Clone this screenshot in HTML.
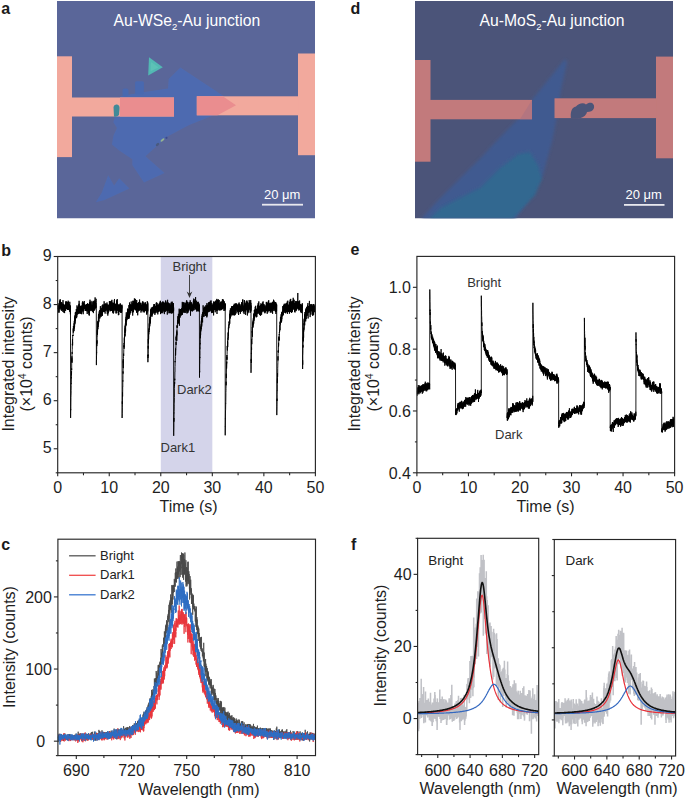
<!DOCTYPE html>
<html><head><meta charset="utf-8"><style>
html,body{margin:0;padding:0;background:#fff;}
body{width:685px;height:800px;overflow:hidden;position:relative;}
svg{position:absolute;left:0;top:0;}
text{font-family:"Liberation Sans", sans-serif;}
.tk{font-size:16px;fill:#1e1e1e;}
.lab{font-size:16px;fill:#1e1e1e;}
.ann{font-size:13px;fill:#333;}
.pl{font-size:16px;font-weight:bold;fill:#1a1a1a;}
.wt{font-size:15.7px;fill:#fff;}
.sb{font-size:13px;fill:#fff;}
</style></head><body>
<svg width="685" height="800" viewBox="0 0 685 800">
<defs>
<filter id="bl" x="-5%" y="-5%" width="110%" height="110%"><feGaussianBlur stdDeviation="0.7"/></filter>
<filter id="bl2" x="-10%" y="-10%" width="120%" height="120%"><feGaussianBlur stdDeviation="1.6"/></filter>
<clipPath id="ca"><rect x="57" y="1" width="258" height="217.5"/></clipPath>
<clipPath id="cd"><rect x="415" y="1" width="258" height="217.5"/></clipPath>
<clipPath id="cb"><rect x="57.7" y="256.5" width="257.7" height="216.3"/></clipPath>
<clipPath id="ce"><rect x="416.9" y="256.4" width="257.7" height="216.40000000000003"/></clipPath>
<clipPath id="cc"><rect x="57.9" y="539.2" width="257.6" height="216.4"/></clipPath>
<clipPath id="cfl"><rect x="417.6" y="538.3" width="121.1" height="216.3"/></clipPath>
<clipPath id="cfr"><rect x="554.3" y="539.5" width="121.3" height="216.5"/></clipPath>
</defs>

<text x="1.3" y="14" class="pl">a</text>
<text x="350.6" y="14" class="pl">d</text>
<text x="1.2" y="255.6" class="pl">b</text>
<text x="350.6" y="255.3" class="pl">e</text>
<text x="1.3" y="550.3" class="pl">c</text>
<text x="350.9" y="550.3" class="pl">f</text>
<g clip-path="url(#ca)">
<rect x="57" y="1" width="258" height="217.5" fill="#5a6699"/>
<g filter="url(#bl)">
<polygon points="180.4,67.4 222,95.1 236,105 213.7,115.3 189.2,125 167,136.7 145.5,156.3 164.5,173.1 144,182.6 132.3,165 132.3,159.2 119.2,150.4 111.9,144.6 113.4,135.8 117,128 113.4,122.3 115.4,114 121,96 144.6,92 168,88.6 168.7,79.1" fill="#4e6bb0"/>
<polygon points="108.2,175.3 114.1,185.5 119.2,178.2 129.4,188.4 104.6,200 95.8,202.3 101.7,192.8" fill="#4e6bb0"/>
<rect x="135.1" y="81.3" width="8.8" height="13" rx="1.5" fill="#4a69b0"/>
<rect x="122.5" y="88.6" width="6" height="8" rx="2" fill="#4a69b0"/>
<ellipse cx="162.5" cy="140" rx="2.4" ry="1" transform="rotate(-40 162.5 140)" fill="#a6c48a" opacity="0.8"/>
<ellipse cx="157.5" cy="144.5" rx="2" ry="1.2" transform="rotate(-40 157.5 144.5)" fill="#4a5a80"/>
<circle cx="166.5" cy="137.8" r="1.1" fill="#3a4a90"/>
<rect x="57" y="56.3" width="15" height="100.8" fill="#f2a99d"/>
<rect x="70" y="97.5" width="104" height="19" fill="#f2a99d"/>
<rect x="120" y="97.5" width="54" height="19" fill="#ea8d8f"/>
<rect x="298" y="53.5" width="17" height="101.7" fill="#f2a99d"/>
<rect x="196.8" y="96.3" width="102" height="19" fill="#f2a99d"/>
<polygon points="196.8,96.3 222.8,96.3 236,105.2 217.5,115.3 196.8,115.3" fill="#ea8d8f"/>
<polygon points="149,57.2 162.8,67.2 148.2,75.6" fill="#52b8b3"/>
<polygon points="151,62 158.5,67.2 150.5,71.5" fill="#62c4b8" opacity="0.7"/>
<path d="M113.5,107 Q114,104 117,104.5 Q120,105 119.5,109 L119,115 Q117,117.5 114,116.5 Z" fill="#3f8a98"/>
</g>
<text x="113.6" y="26.2" class="wt">Au-WSe<tspan font-size="9.5" dy="4.2">2</tspan><tspan dy="-4.2">-Au junction</tspan></text>
<text x="264" y="199" class="sb">20 μm</text>
<rect x="262" y="203.8" width="41" height="1.8" fill="#e8e8ee"/>
</g>
<g clip-path="url(#cd)">
<rect x="415" y="1" width="258" height="217.5" fill="#4b5479"/>
<g filter="url(#bl)">
<polygon points="564.8,59.2 567,62 561,90 556,121 552.4,140 547,160 543,175 530,197 515,219 421,219 436,202.4 462.3,176.1 480,158.7 497.5,140 517.5,119.6 533.2,98.6" fill="#3f5a90" filter="url(#bl2)"/>
<polygon points="518.5,154 530,152 538.4,166 541.9,178.5 535,195 512.7,219 429,219 441.3,207.6 480,188 500,168" fill="#306790" filter="url(#bl2)"/>
<rect x="415" y="60" width="15.5" height="101.7" fill="#c27a7b"/>
<rect x="429" y="99.9" width="103" height="19.4" fill="#c27a7b"/>
<rect x="656" y="56.6" width="17" height="101.7" fill="#c27a7b"/>
<rect x="554.5" y="98.3" width="102" height="19.8" fill="#c27a7b"/>
<polygon points="520,119.3 532,100 532,119.3" fill="#ad7283" opacity="0.7"/>
<path d="M571,118.5 C570,112 572,107 576,106.5 C578,104 583,102 586,104.5 C590,101 595,103 594,108 C593,111 590,112 587,112 C586,116 582,118.5 578,118.3 Z" fill="#4b5479"/>
</g>
<text x="479.6" y="26.2" class="wt">Au-MoS<tspan font-size="9.5" dy="4.2">2</tspan><tspan dy="-4.2">-Au junction</tspan></text>
<text x="625.5" y="199" class="sb">20 μm</text>
<rect x="624" y="204" width="40.5" height="1.8" fill="#e8e8ee"/>
</g>
<rect x="160.78" y="256.5" width="51.54" height="216.3" fill="#d4d4ea"/>
<path d="M57.7 306.3l.1-.6 0 1.7 .1 1.7 0-1.1 .1 1.5 0-2.6 .1-3.6 0 4.8 .1 .8 0-3 .1 .6 0 .3 .1 3.1 0-2.2 .1-1.8 0 5.5 .1-2.5 0 3.4 .1-1.7 0 1.4 .1-4.5 0 3 .1-4.6 0 .3 .1 .3 0 6.3 .1-5.7 0-1.5 .1-.4 0 3.8 .1-3.2 0 1.6 .1-.4 .1-5.7 0 4.8 .1-2.5 0-2.4 .1 3.5 0-1 .1-.5 0 .3 .1 3.4 0-3.5 .1-3.5 0 8.3 .1-6.2 0 1.5 .1 2.6 0-6.9 .1 3.5 0 5.5 .1-3.4 0-1.4 .1 1.8 0-1.5 .1 2.3 0-1.9 .1-2.1 0 5.9 .1-2.1 0 1.5 .1-1.6 0 4 .1-1.7 .1-1.6 0-3.1 .1-1 0 6.6 .1-1.1 0-4.1 .1 7.1 0-3.7 .1-.9 0-3.6 .1 1.4 0 2.5 .1 .3 0-.1 .1-4.3 0 4.6 .1 .1 0-1.8 .1 1.2 0 .6 .1 2.3 0-2.8 .1 1.7 0-4.6 .1 1.5 0 2.1 .1-1.9 0 3 .1-3.7 0 2.6 .1-2 0 4.9 .1-4.3 .1 5.2 0 .7 .1-4.1 0 1.1 .1-2.9 0-5.8 .1 8.2 0-.2 .1-2.9 0-.9 .1 2 0 .2 .1-2.6 0 1 .1 4.5 0-2.2 .1-.4 0 2.9 .1-3.3 0 3 .1-4.4 0 1.7 .1 .5 0 1.5 .1-1.3 0 5 .1-2 0-4.5 .1 6.8 0-7.6 .1 7.4 0-6.7 .1 4.7 .1-4.1 0 1.8 .1 4.9 0-8 .1-.3 0 4.1 .1 .1 0-.5 .1 2 0-5.2 .1 4 0-1.5 .1 1.6 0 .1 .1 1.5 0-6.8 .1 3.6 0-2.8 .1 2.1 0 2.2 .1-.9 0 .2 .1-1.6 0 .8 .1-.2 0 2.9 .1-1.3 0-7.5 .1 5.9 0 .9 .1-4.2 .1-3.2 0 7.4 .1-3.7 0 .8 .1 3.4 0-6.6 .1 2.3 0 0 .1 3 0-2.9 .1 2.3 0-.8 .1 2.5 0-.3 .1-6.6 0 5 .1-2.3 0 .6 .1 .8 0 .4 .1-3.7 0 3.6 .1-.1 0-.4 .1-3.1 0 1.3 .1 1 0 2.7 .1 2.3 0-6.3 .1 .2 0 2.8 .1-2.4 .1-1.3 0-.1 .1 .2 0 3.5 .1-4.8 0 7.4 .1-5.8 0 .9 .1-.9 0-2.7 .1 .9 0 6.9 .1 1.5 0-7.7 .1 5.1 0-2.9 .1-2.5 0 6.9 .1 1.1 0-6.1 .1 .8 0 .6 .1-.6 0 2.3 .1 2.1 0-3.4 .1 2 0 2.4 .1-6 0 1.9 .1-1 .1 4.1 0-.9 .1 .4 0 .3 .1-2.9 0 2.6 .1-2.6 0 .3 .1-4.5 0 9.7 .1-5.7 0 1.9 .1 .1 0 4.3 .1-2.7 0-3.2 .1 2.1 0-.3 .1 1.3 0-3.9 .1 3.5 0 5.4 .1-3.8 0-3 .1 110.5 0-.6 .1-8 0 .8 .1-.1 0-3.9 .1-8.2 0-.6 .1-2.3 .1-2 0-2.8 .1-4.7 0-.7 .1-1.5 0 .5 .1-6.7 0 1.1 .1-6.9 0 3.9 .1-4.8 0-2.1 .1 1.5 0-10.3 .1-1.3 0 3.5 .1-4.8 0-.7 .1 6.6 0-9.2 .1-.4 0-1.1 .1 1.7 0-3.1 .1-1.4 0-5.5 .1 .8 0-.5 .1-5.1 0 4.3 .1-1 0 3.1 .1-10.5 .1 1 0-.4 .1-.6 0 .8 .1-.7 0 .4 .1-.7 0-1.6 .1-4.8 0 2.5 .1 1 0 .8 .1-.2 0-6.5 .1 2.3 0 .4 .1 1.1 0 2 .1-3.1 0-2.5 .1 2.9 0-1 .1-1 0-.9 .1 4.8 0-4.4 .1 1.7 0-5 .1 4.1 0-4.4 .1-2.2 .1 5 0 .9 .1-2.4 0-.2 .1 2.6 0-4.4 .1-5 0 5.6 .1-.3 0 1.8 .1-4.7 0 3.8 .1-.7 0-7 .1 5.5 0-5 .1-1.2 0 2.9 .1-1.3 0-4.2 .1 5.2 0 .6 .1 2.1 0-4 .1-4.5 0 .8 .1 4.9 0-.5 .1-1.4 0-2.5 .1 1.5 0-1.1 .1-.3 .1 .9 0-.4 .1-.1 0 .8 .1-1.6 0-3.9 .1 3 0 .6 .1 4.7 0-5.6 .1 6.5 0-1.4 .1-6.3 0 .5 .1 1.5 0 4.3 .1-4.3 0 .5 .1-3.6 0-4 .1 5.9 0 2.9 .1 .6 0-3.3 .1-.4 0 3 .1-3.8 0 3.1 .1-6.4 0-.1 .1 .1 0 4.1 .1-2.4 .1 2.1 0 .3 .1-.7 0 2.7 .1 .6 0-6.6 .1 2.5 0-1.5 .1-1.6 0 7.6 .1-3.1 0-2.5 .1-.9 0 2.1 .1-4.3 0 2.1 .1 4.2 0-.9 .1-4.7 0 .7 .1 6.4 0-8.5 .1 1.5 0-1.7 .1 4.9 0-1 .1 2.4 0-10 .1 7.3 0-4.4 .1 6.3 .1-1.5 0 5 .1-3.4 0-3.4 .1 6.1 0-6.6 .1 1.7 0 3.5 .1-1.2 0 .4 .1-.9 0 1.6 .1 .7 0-1.7 .1 2.2 0 .4 .1-3.3 0-2.2 .1 6.5 0-3.7 .1 1.8 0 .9 .1-4.6 0 3 .1-5.5 0 5.8 .1-2.5 0 1.2 .1 1.1 0-3.7 .1 2.1 0-2.2 .1 1.5 .1 2.7 0-2.5 .1-.3 0-2.8 .1 5.3 0-2.3 .1 4.6 0-6.2 .1 5 0 1.6 .1-5 0-3.2 .1 7 0-1.7 .1-1.4 0 1.5 .1-4.2 0 3 .1-.9 0-3.9 .1 3.6 0-3.3 .1 3.5 0 .8 .1 1.5 0-8.9 .1 5.5 0-2.2 .1 1.2 0-.7 .1 .4 .1-5.5 0 7.6 .1 1.6 0-1.6 .1 .7 0-5.4 .1-.3 0 4.9 .1 .8 0-3.1 .1-3.9 0 11.6 .1-8.8 0 4.8 .1-6 0 5.3 .1-1.9 0 3.6 .1-1.5 0-7 .1 1.5 0 3.7 .1 .6 0 2.6 .1-3.7 0-.8 .1 .4 0-.3 .1 2.5 0-2.8 .1-.2 0-3.6 .1-1.6 .1 5.3 0 1.8 .1-2.7 0 1.6 .1 .8 0-2.1 .1 2.6 0-3.8 .1 1.8 0-1.2 .1 1.3 0 1.3 .1 .3 0-1.9 .1 .8 0-1.6 .1 .5 0 3.3 .1-4.2 0 3.6 .1-1.6 0-.4 .1 4.5 0-6 .1 .7 0 1 .1 .6 0 0 .1 1.7 0-2.4 .1 1.3 0-2 .1 3.5 .1-3.6 0 0 .1 .4 0 1.1 .1-3 0 6.1 .1-5.6 0-.1 .1 .3 0-.2 .1 3.2 0-1 .1-2.2 0 .2 .1 1 0 5 .1-5.8 0-1.2 .1 .1 0 2.5 .1 4.8 0-6.6 .1 2.6 0 6.6 .1-8 0 4.8 .1-.1 0-1.5 .1-5.5 0 4.8 .1-1.9 .1-3.4 0 .2 .1 3.8 0 .6 .1 2.6 0-1.4 .1-3 0 .2 .1 .6 0-2.5 .1 5 0-2.2 .1-1.8 0 .2 .1-1.5 0 2.2 .1 1.9 0-1.5 .1 4.1 0 2.1 .1-6.2 0 1.9 .1-.9 0 5.7 .1-3.9 0 .2 .1 1.6 0 4 .1-5 0-3.4 .1 1.4 0 2.5 .1-1.9 .1-2.4 0 9.1 .1-7.7 0-2 .1-.4 0-3.1 .1 1.5 0 1.7 .1-.1 0-1.9 .1 3.3 0-1.7 .1-2.4 0-3 .1 5.8 0-.2 .1 0 0-3.3 .1 3.8 0-4.2 .1 6.5 0-2.2 .1-.5 0-2.8 .1-.4 0 7.4 .1-1.2 0-3.1 .1 3.3 0 2.5 .1-6.7 0 1.4 .1 .1 .1 2.6 0-3.3 .1 3.5 0-3.2 .1 5.3 0-.5 .1-2.9 0 2.1 .1-3.9 0 .8 .1 3 0-2.8 .1 1.1 0-2.9 .1 4.3 0-.4 .1-4.6 0-3.2 .1 .5 0 5.3 .1-1 0-3.5 .1 4.5 0 2.6 .1-2.7 0-.7 .1 3.4 0 2.1 .1-1.3 0-5.2 .1 4.2 .1-1.1 0-.6 .1-1.2 0 3.4 .1-2 0 3.9 .1-1.4 0 1.6 .1-5.4 0 2.6 .1 2 0-.7 .1-.8 0-2.7 .1 6.4 0-1.9 .1-1.8 0-8.1 .1 3.8 0 2.9 .1-2.5 0-3.7 .1 6.7 0 .1 .1-4.4 0 1.5 .1-.7 0 2.8 .1-7.1 0 .5 .1 3 0-.5 .1 7 .1-7.7 0 2.6 .1-1.9 0-1.2 .1 3.2 0 3.4 .1-6.1 0 3.1 .1-1.5 0 .7 .1-.5 0 4.8 .1-9.3 0 2.5 .1-2.6 0-2.8 .1 5.3 0 5 .1-2.5 0 .8 .1-1.7 0-1.8 .1 5.8 0-5.9 .1 5.1 0-4.7 .1 .7 0 .4 .1-.5 0 .9 .1 .3 .1 3.4 0-4.4 .1-4.7 0-.1 .1 1.7 0 2 .1 3.9 0-.3 .1 59 0-4 .1-1.6 0-3.6 .1-.7 0-2.7 .1 .6 0-3.5 .1-8.5 0 5 .1-1.5 0-2.9 .1-1.6 0 3.5 .1-3.4 0-4.4 .1 .4 0-1.1 .1-5.3 0 4.8 .1-2.9 0 .5 .1-6.3 0 8.6 .1-4.3 .1-1.6 0-3.8 .1-.5 0-2.6 .1 7.5 0-7 .1 2.3 0 .3 .1-3.9 0 3.1 .1 2.9 0-6 .1 2.4 0-2.8 .1-3.4 0 .2 .1-3.1 0 4.7 .1 4.3 0-2.2 .1-.4 0 .5 .1-5.1 0 2.4 .1 3.3 0-6.7 .1 1.8 0-1.7 .1-.2 0-1.5 .1 1.5 0-3.5 .1 1.7 .1-.1 0-.4 .1 4.8 0-3.2 .1 .6 0-.9 .1 4.6 0-8.5 .1 3.9 0 3.5 .1 .8 0-3.9 .1 0 0 2.1 .1-2.4 0 1.7 .1-3.7 0 2.7 .1-2 0-2.7 .1-3.9 0 9.1 .1-1.8 0 .8 .1-4.5 0 4.8 .1-2.1 0-.7 .1 2.6 0-.3 .1-1.4 .1 4.4 0-1.8 .1-2.9 0-1.6 .1 .9 0 4.5 .1-3.8 0-3.4 .1 1.3 0 1.7 .1 2.2 0-3.6 .1 3.2 0 1.2 .1-1.2 0-5.5 .1 3.5 0-2.3 .1 4.3 0-3.6 .1 4.6 0-2.1 .1-7.2 0 4.5 .1 3.4 0-1.6 .1-1.3 0-2.7 .1 4.2 0 4 .1-4.5 0-1.2 .1-1.2 .1-3.5 0 3 .1-1.5 0 5.3 .1-5 0-2.6 .1 3.3 0 .8 .1-.1 0-4.3 .1 6.6 0-2 .1-1.8 0 0 .1 2.8 0-2.2 .1 1.3 0-1.2 .1 1 0 2.8 .1-2.4 0-3.4 .1 4.8 0-1.6 .1-2 0 4.6 .1-4.2 0 3.3 .1-6 0-3.5 .1 .9 0 6.4 .1-2.3 .1 1.9 0-.3 .1-3.5 0 7.4 .1-6.5 0 2.4 .1-3.7 0 3.4 .1 2.4 0-2.1 .1-1.6 0 2.2 .1-1.9 0 2.9 .1 4.3 0-8.3 .1 .8 0 1.2 .1 .6 0-2.6 .1 4 0 .3 .1-2 0-3.9 .1 7.3 0-6.9 .1 4.9 0 1 .1-6.4 0 3.7 .1 3.1 .1-2.5 0-3.5 .1-.6 0 4.3 .1-2.2 0-1.3 .1 3.9 0-2.4 .1 1.3 0 1 .1-.2 0-1 .1 0 0 2 .1 .1 0-3.8 .1 2.8 0-1.7 .1-1.1 0 1.5 .1-4.5 0 8.9 .1-4.2 0 2.8 .1-5.8 0 .2 .1 9.6 0-1.8 .1-4.5 0-.1 .1 .2 0 2.5 .1-2.1 .1-.5 0 2.4 .1-3.2 0 8.7 .1-7.5 0 3.9 .1-5.8 0 3.5 .1 1.7 0-3.4 .1 3.5 0-.2 .1 2 0-4.8 .1-1.7 0-1.1 .1 3.4 0-3.3 .1 3 0-.3 .1-2 0-1.9 .1 4.2 0-.8 .1 .1 0-.6 .1 2.6 0-5.1 .1 3.5 0-2.7 .1 3.9 .1-3.7 0-.2 .1 1.9 0-6.6 .1 3.8 0-3.5 .1 1.6 0 4.8 .1-.8 0-2.5 .1 .5 0 .5 .1 .6 0 3.6 .1-4.2 0 5.9 .1-7.4 0 3.4 .1 .3 0-1.5 .1-1.1 0 4.2 .1 1.1 0-1.7 .1 2.3 0-2.6 .1-7.1 0 7.3 .1-4.5 0 5.5 .1-4.7 0 1.6 .1-.8 .1-1.5 0-2.7 .1 4.6 0-.2 .1 3.3 0-4.3 .1 2 0-3.1 .1 2.2 0-5.2 .1 10.1 0-4.3 .1-3.4 0 3.5 .1 1.3 0-1.2 .1 3.2 0-3.9 .1-6.3 0 3.1 .1 5.9 0-.5 .1-1 0-3.5 .1 4.9 0-.8 .1-4 0 .2 .1 3.5 0 1.6 .1 1.6 0-2 .1 3.9 .1-7.7 0 4.3 .1-3.4 0-3.5 .1 1.6 0 6.6 .1-6.1 0-.9 .1 5.1 0 .6 .1-2 0 4.2 .1-8.5 0 10.6 .1-3.7 0-2 .1-.2 0-1.2 .1-.6 0 1 .1-3.9 0 9.6 .1-5.7 0 2.2 .1-2.3 0-.2 .1 2.6 0-1 .1-4.2 0 1.3 .1 2.7 .1-7.2 0-.5 .1 9.5 0-4.7 .1-6.1 0 4.6 .1 1.8 0 1.6 .1 1 0-.8 .1 1.2 0-3.1 .1 2.9 0 .3 .1 2.5 0-4.1 .1 2 0-1.9 .1-2.8 0 2 .1-.5 0 .6 .1 .6 0 .5 .1 .4 0-2.7 .1 4.8 0-6.2 .1 3.2 0 1.8 .1-.5 0 1.1 .1-2.6 .1 2.4 0-4.7 .1 5.1 0 4 .1-4.2 0 3.8 .1-5.8 0-2.8 .1 1.1 0 4.8 .1-2.2 0-6.7 .1 3.3 0 1 .1-2.5 0-3.4 .1 3.1 0 3.5 .1-.6 0-.9 .1 3.4 0 1.5 .1-3.5 0 2.5 .1-2.8 0-.3 .1-6.7 0 8.5 .1-1.9 0 0 .1-1.7 0-1.1 .1 4.3 .1 .9 0 2.8 .1-1.4 0-4.1 .1 2 0 2.6 .1-1.8 0-1.2 .1-1.3 0 3 .1-.2 0 4.5 .1-1.4 0-7.3 .1 10.9 0-5.3 .1-1 0 1.5 .1 1.3 0-1.7 .1 .3 0 .1 .1 4.5 0-5 .1 1.6 0-.9 .1-2.4 0-1.3 .1-.9 0 3.9 .1-3.6 .1-1.1 0 .4 .1-.8 0 3.7 .1-.6 0-2.5 .1 5.6 0-4.4 .1 2 0-.3 .1 3.5 0-2.1 .1-2.6 0-2.5 .1-.7 0 3.1 .1 .3 0 1.9 .1-2.9 0 2 .1-2 0-2.9 .1 4.8 0 3.7 .1-2.2 0 2.2 .1-1.2 0-6.2 .1 3.5 0 4.9 .1-5.9 0-1.3 .1 4.7 .1 .5 0-.8 .1-1.3 0-1.7 .1-1.3 0-.2 .1 0 0-.5 .1 1.6 0 6.3 .1-3.4 0-1.4 .1 1.9 0-4 .1 3.9 0 1.8 .1-6.1 0 1.8 .1 1 0-2.4 .1-1.4 0 1.8 .1 0 0 111.5 .1-3 0-1.5 .1-6.2 0-5.9 .1 2.6 0-.8 .1-10.9 .1 4.2 0-.2 .1-6.4 0-3.6 .1 .2 0-6.2 .1 1.2 0-.8 .1-5.4 0-3.9 .1 2.2 0-4.6 .1-.2 0-9.5 .1 8.8 0-7.2 .1 2.2 0-1 .1-3.7 0-2.2 .1-2.5 0 .7 .1 1.5 0-1.7 .1-4.5 0-1 .1-3.4 0 1.8 .1-2.2 0-1.9 .1 2.4 0 3.4 .1-1.6 .1 0 0-9 .1 5.2 0-6.3 .1 1.2 0-4 .1 .7 0 2.3 .1-.7 0-1.2 .1-1.5 0 1.5 .1-2.4 0-4.7 .1 8 0-5.8 .1 2.6 0-4 .1-2.9 0 2.3 .1-3.2 0 5.5 .1-7.5 0 4.2 .1-3.4 0 .3 .1 6.9 0-4.9 .1-2.7 0-4.8 .1 3.5 0-.3 .1 4.1 .1-7.3 0-1.8 .1 4.9 0-.2 .1 3.3 0-7 .1-5.8 0 4.8 .1-1.6 0 2 .1 3.7 0-6.6 .1 6.7 0-2.7 .1-1.6 0-2 .1 .6 0-.3 .1 3.2 0 1.3 .1-4.2 0 2.5 .1 1.2 0-.6 .1-3 0 3 .1-1.3 0 .4 .1-4.2 0-.1 .1-4.9 .1 9.3 0-1.7 .1-4.2 0 2.5 .1 .5 0-5.6 .1 5.3 0 2.1 .1 .8 0-5 .1 .3 0 4.9 .1-.9 0-4.6 .1 0 0 2.7 .1-3.7 0 .1 .1 6.9 0-3.8 .1-1.9 0 3 .1 3.4 0-5.9 .1-2.3 0-1.9 .1 9.7 0-13.5 .1 10.3 0-5.7 .1-.6 0 .8 .1 1.8 .1 2.6 0-4.7 .1 3.5 0 4.4 .1-15 0 5.6 .1-3.1 0 7.3 .1-6.7 0 0 .1 .3 0 3.9 .1 2.6 0-3.4 .1 5.6 0-.5 .1-5.1 0 2.9 .1-2 0 0 .1-5.5 0 1.4 .1 3.4 0-3.4 .1 5.6 0-1.2 .1-3.5 0 5.8 .1-2.7 0 3 .1-3.7 0-4.7 .1 6.3 .1-2.8 0 2.5 .1 .2 0 .3 .1-7 0-2.4 .1 5 0 2.9 .1-3.9 0 2.6 .1-3 0 1 .1-.4 0-.6 .1 2.8 0-.9 .1 3.6 0-3 .1 2.9 0-3.8 .1 2.3 0-2.8 .1-.7 0 5.5 .1-1.8 0 .8 .1-4.2 0-2.5 .1 2.6 0 2.9 .1-4.9 .1 8.2 0-7.7 .1 5.7 0 5.5 .1-14.8 0 3 .1 7.3 0-3.1 .1 1.3 0-.7 .1 3.8 0-2.6 .1-3.2 0 .7 .1-2.8 0 2.9 .1-6.6 0 8 .1-2.8 0 6 .1-2.1 0-6.7 .1 5.8 0-4.2 .1 1.5 0 2.7 .1-2 0 .4 .1 .2 0-3.6 .1 .3 0 3.4 .1 .5 .1-3.8 0 1.1 .1-2.6 0-4.5 .1 4.8 0 2.7 .1 .9 0 1.5 .1 .2 0 .3 .1-1.2 0-.2 .1-2.8 0 3.2 .1-.7 0 3 .1-7.9 0 3 .1-3.4 0 2.9 .1-2.5 0 5.2 .1-2.8 0-5.7 .1 10.7 0-6.2 .1-.9 0 3.4 .1-.1 0-1.6 .1 5.1 .1-3 0 3.5 .1-.6 0 .1 .1-1.1 0-.5 .1-1 0 4.4 .1-9.1 0 2.2 .1 1.7 0 2.6 .1-.9 0-2 .1 1.2 0 5.5 .1-6.7 0-5.6 .1 12.9 0-7.6 .1 1.7 0 1.1 .1-4.5 0 7.2 .1-3.6 0-3.9 .1 5 0 .6 .1-1.6 0 2 .1-5.8 0 6.9 .1-4.3 .1 5.6 0-5.1 .1 1.9 0 6.8 .1-7.1 0 3.3 .1-2 0-5.8 .1 7.7 0-.1 .1-6.7 0 3.4 .1-4.4 0 3.3 .1 3.6 0-2.4 .1-3.6 0 .9 .1 3 0 0 .1 .7 0 .4 .1-7.4 0 4.8 .1 2.8 0-1.7 .1-3.6 0 .4 .1 2.2 0 1.8 .1-2.2 0 4.4 .1-1.2 .1-5.9 0 2.8 .1-3 0-1.9 .1 1.6 0 2.1 .1-6 0 4.1 .1 2.8 0-3.2 .1 .1 0 3.4 .1-2.9 0 1 .1 5.3 0-4.7 .1 .5 0 .2 .1 3.9 0-3.8 .1-1.2 0-.6 .1 3.6 0-5.1 .1 5.6 0-2.1 .1-3.6 0 6 .1-.9 0-4.7 .1 3.7 .1-.3 0-1.1 .1-2 0 9.1 .1-3.7 0 .8 .1 .4 0-.8 .1 .5 0-2.6 .1 3.4 0-2.8 .1-.9 0 3.8 .1-2 0-3.8 .1 3.2 0 3 .1-1.8 0 1.5 .1-3.2 0-1.7 .1 4.5 0-1.5 .1-3.8 0 4.6 .1-2.6 0 3 .1-.3 0-.6 .1-7.4 0 6.9 .1 .4 .1-.6 0-1.4 .1-2.3 0 1.6 .1-5.1 0 4.1 .1-3.5 0 2.7 .1-.6 0 5.7 .1-3.4 0 .3 .1 .6 0 5.1 .1-7.6 0 3.1 .1 .8 0-.8 .1 .4 0-1.7 .1 4.6 0-1 .1-3.3 0 .3 .1 1.3 0 .5 .1 .7 0-2.3 .1-3.7 0 6.1 .1-7.2 0 2.5 .1 3.8 .1-3 0 5.9 .1 .7 0-2.4 .1-2.7 0-.5 .1 0 0-1.1 .1 5.6 0-7.4 .1 4.8 0-2 .1-1.1 0 2.4 .1 .7 0-1.1 .1-2.7 0-1.1 .1 0 0 4.5 .1-.5 0 .2 .1-3.2 0 6.1 .1-8.6 0 4.4 .1 .7 0-2.7 .1-1 0 2.1 .1-1.3 .1 2.6 0-2.9 .1 .3 0 4.2 .1-4.2 0 2.9 .1 .8 0 2.4 .1-1.9 0-3 .1 5.9 0-5 .1 .5 0 .4 .1 6.7 0-5.2 .1-1.7 0 3.9 .1-2.8 0 6.2 .1-8 0 3.1 .1-4 0 7.1 .1-7 0 2.5 .1-2.8 0 4.5 .1-1.1 0-7.7 .1 9.1 0-1.2 .1-1.1 .1 1.8 0-5.8 .1-1.8 0 6.5 .1 2.6 0-8 .1 4.6 0 54.3 .1-7.2 0 3 .1-3.5 0 1.5 .1-2.3 0-7.8 .1 2.7 0-9.6 .1 3.9 0 .6 .1-5.7 0-4 .1 2.5 0 3.1 .1-5.8 0-3 .1 3.7 0-.3 .1-5.6 0 1.7 .1 1.9 0-2.2 .1 .3 .1-3.8 0-.1 .1-2.7 0 .7 .1 5.5 0-6 .1-1.6 0 .5 .1-2.3 0 3.2 .1 .8 0-5.3 .1 5 0 2.3 .1-9.2 0 4.7 .1-1.3 0 1.8 .1-.5 0-.5 .1-2.5 0-2.1 .1 6.8 0-9 .1 5 0-.7 .1-4.9 0 1.7 .1 3.6 0-9.8 .1 7.4 0-2.9 .1-.6 .1-3.3 0 5.1 .1-3.6 0 4.3 .1-5 0 5.1 .1-1 0-6.3 .1 3.9 0 1 .1-6 0 4.7 .1 3.1 0-4.4 .1 5.2 0-6 .1-.8 0 5 .1 .3 0-2.7 .1 .5 0 2.6 .1-4.7 0 6.4 .1-3.9 0-.3 .1-.1 0-1.9 .1 3.6 0-4.5 .1 1.8 0 1 .1 1.9 .1-.3 0-4.2 .1 4 0-2.9 .1-3.1 0 .2 .1-1.2 0 4.6 .1 1.9 0-6.1 .1 1.8 0-1.8 .1 2.9 0-2.9 .1 .6 0 .6 .1 .2 0 .7 .1 .4 0 .4 .1-1.9 0 3.8 .1-5.9 0 4.7 .1-3.1 0 2.6 .1 .2 0-6.2 .1 6.4 0 2.5 .1-1.6 .1-1.5 0-6 .1 5.4 0-2 .1 5.1 0-3.7 .1-1.1 0-3.5 .1 6.8 0-3.7 .1 1 0 3.4 .1-3.2 0 .7 .1 5.6 0-7.5 .1 .2 0 2.8 .1 2.8 0-7.4 .1 3.3 0-2.2 .1-1 0 5.7 .1-4.1 0 3 .1-.7 0 .5 .1-.1 0-3.1 .1 2.6 0 1.1 .1 .5 .1-1.8 0 3.6 .1-1.2 0-1.2 .1 1 0-1.9 .1 1.2 0-7.7 .1 1.9 0 2.2 .1 1 0-6 .1 5.1 0 1.2 .1-1.3 0-.3 .1-2.1 0 3.7 .1-6 0 7.9 .1-4.5 0 4.8 .1-7.8 0 5.9 .1-.5 0-2.2 .1-1.5 0 6.5 .1-1.9 0 3.3 .1-3.8 0 .4 .1 1.1 .1 1.1 0-.8 .1 .9 0-3.5 .1-3.1 0 9.4 .1-4.6 0 .9 .1-3.1 0 3.8 .1-1.8 0 2.5 .1-4.9 0 1 .1 .3 0-1.7 .1 1 0 3.7 .1-5.1 0 .8 .1 1 0-2.7 .1-.5 0 6.6 .1-1 0-6.8 .1 .2 0 5.9 .1 .9 0-1.3 .1-.7 .1 2.7 0-4.4 .1 3.6 0 .1 .1-6.1 0 3.6 .1-1.7 0-1.5 .1 .5 0 3.1 .1-.7 0 1.9 .1-7 0 2.8 .1 4.3 0-3.1 .1-2.3 0 .4 .1-3.4 0 1.3 .1 5.2 0-1 .1 4 0-3.7 .1 .2 0-6.8 .1 7 0 6.3 .1-4 0-1.8 .1 4.4 0-.4 .1-1.5 .1-2.4 0 1.5 .1 2 0-4.5 .1 3.1 0 0 .1 2.6 0-2.2 .1-3.7 0 6 .1-3.9 0-2.4 .1 2.8 0-1.4 .1 3 0-7.2 .1 .4 0 1.9 .1 5.5 0-2 .1-5.4 0-2.1 .1 3.4 0-2.9 .1 5.1 0-1.3 .1-.8 0-1.7 .1 4.9 0-6 .1-1.1 .1 7.1 0 1.3 .1-4.7 0 3.3 .1 4.2 0-8.1 .1 1.5 0 1.4 .1-6.7 0 5.3 .1 2.6 0-2.2 .1 2.9 0-.7 .1-3.3 0 2.7 .1-.4 0-6.1 .1 2.5 0 0 .1 1.1 0 .4 .1-2.2 0 3.9 .1-4.9 0 7.3 .1-2.1 0 3.3 .1-3.2 0-2.2 .1-2.6 0 5.9 .1-1.5 .1 .8 0 1.6 .1 1.9 0-3.1 .1 5.1 0-5.4 .1 .4 0 1.3 .1 .8 0 1 .1-9.4 0 8.9 .1-7.9 0 2.7 .1 2.4 0 1.8 .1-6.1 0-1.6 .1 7 0-1.9 .1-3.2 0 1.6 .1-4.7 0 6.9 .1-3.6 0 4.7 .1-8.9 0 7 .1 3.8 0-5.9 .1-.1 0-5.2 .1 6.4 .1-.7 0-1.6 .1-2.8 0 4.7 .1-3 0 1.8 .1 2.2 0-.6 .1-.2 0 1.9 .1-5.7 0 7.6 .1-7 0 .4 .1 3.4 0 1.8 .1-1.3 0-1.9 .1-1.1 0 1.1 .1-1.7 0 4.4 .1-1.8 0 4.2 .1-6.2 0 1.5 .1 2.3 0-4.2 .1 1.1 0 9.1 .1-8 .1 4 0-7.4 .1-3.4 0 8.3 .1-1.5 0 .3 .1-1.4 0-.5 .1-2.1 0 6.3 .1-6.9 0 7.3 .1-3.5 0-2.4 .1 .6 0 4.7 .1-.4 0-.5 .1-.8 0-3 .1 6.3 0-4.4 .1-.5 0 .4 .1-.1 0-2.8 .1 3.4 0-1.4 .1 1.2 0-3.4 .1 10.3 0-8.8 .1 3.8 .1 .2 0 1.8 .1 2.5 0-4.3 .1 .8 0-2.8 .1 6 0-8.1 .1 3.2 0 1.5 .1 .6 0 .3 .1 .9 0-1.5 .1-1.2 0 .6 .1 3.7 0-3.2 .1 1.2 0-2.5 .1-4.7 0 3.2 .1 2.6 0 3.4 .1-.1 0 .8 .1-6.4 0 3.8 .1-1.9 0 2.4 .1-2 0-3.9 .1 6.1 .1-1.5 0 1.2 .1-4.2 0 5.2 .1 .3 0 .8 .1-.4 0-5.3 .1-5.6 0 9.7 .1-4.8 0 1.6 .1 3.4 0-1.8 .1-.7 0 1.4 .1-7.2 0 10.2 .1-6.4 0-.2 .1 2 0-2.1 .1-2.1 0 2.1 .1-.8 0-.2 .1 7.3 0-9.7 .1-1.8 0 3.4 .1-.5 .1 6.8 0-3.2 .1 1.6 0-.1 .1-4.5 0 4.6 .1-1.3 0 4.5 .1-4.6 0-1.1 .1 2.5 0-.1 .1-6.6 0 8.6 .1-.4 0-.6 .1-5.2 0-2.4 .1 4.5 0 2.5 .1-.7 0-3.9 .1 5.2 0-3.2 .1 128.3 0-3.6 .1-5 0-3.3 .1-5.9 0 3.7 .1-8.9 0 .4 .1-1.8 .1-5.3 0-1.9 .1-.7 0-1.4 .1-4.7 0-9.1 .1-3.6 0 .9 .1-3.7 0 2.2 .1-2.7 0-2.7 .1 1.5 0-2.1 .1-5.1 0-1 .1 0 0-5.4 .1-.2 0-5.4 .1 1.2 0-.8 .1-2.5 0 0 .1 0 0-2.3 .1-4.4 0-1 .1-2.8 0 6.9 .1-4.6 .1-.7 0-2.3 .1 .2 0-.7 .1-5.2 0 0 .1 2.9 0-7.8 .1 .2 0 3.1 .1-4.3 0 3.9 .1-5.3 0 2.6 .1 .9 0-1.8 .1 .4 0-3.7 .1-.8 0-.2 .1 1.4 0 7.4 .1-10.4 0 4.8 .1-6.8 0-3.3 .1 1.1 0 1.5 .1-1.2 0-.6 .1 1 0-.2 .1 .7 .1-6.3 0 3 .1-2.9 0 2.4 .1-1.6 0 .7 .1-1.8 0-1.1 .1 1.3 0 2.1 .1 .2 0-7.2 .1 4.7 0 .5 .1-5.3 0 .8 .1 1.7 0 2.7 .1-7.6 0 4.9 .1-.5 0 2.1 .1 3.1 0-.7 .1-5.4 0 0 .1 1.4 0 2 .1 .9 0-3.4 .1 2.8 0-6.7 .1-.8 .1-4.8 0 5.2 .1 4 0 1 .1 6.8 0-8.4 .1-1.1 0-2.8 .1 .9 0-.8 .1 1.1 0-1.5 .1-2.4 0 6.4 .1-1.4 0 2.2 .1-8.2 0 .6 .1 .9 0 5.1 .1-4 0 1 .1-1.2 0 .5 .1-1.9 0 2.5 .1-3.7 0 1.5 .1 1.9 0-.8 .1 1.4 .1-4 0 2.1 .1-1.7 0 2.2 .1 3.2 0-6.3 .1 5.3 0-4.7 .1 .3 0 5.5 .1-1.9 0-.8 .1 1.3 0 1 .1-5.1 0 2.6 .1-2.1 0 1.8 .1-2.3 0 2.3 .1-2.2 0-1.8 .1 .8 0 1.1 .1 1.1 0-2.9 .1-.1 0 1.7 .1 1.3 0-4 .1-5.3 0 7.1 .1-2.2 .1 .2 0 7.8 .1-7.1 0 1.7 .1-6.3 0 4.4 .1 1 0-1.3 .1-.8 0 2.2 .1-1.3 0 3.7 .1-2.5 0-2.9 .1-2.9 0 3.5 .1 1 0-2.8 .1 .4 0-2.5 .1 1.5 0 3.3 .1-.9 0 .1 .1 .1 0-.3 .1 3.1 0 3.3 .1-3.4 0 3.5 .1-5.6 0 .5 .1 4.2 .1-6 0-.2 .1 1.8 0-3.7 .1-1 0 8.5 .1-6.1 0 1.6 .1 0 0-1.1 .1 4.4 0 .1 .1 .4 0-.2 .1-1.8 0 4.2 .1-1.1 0-4.3 .1 1.4 0-1.3 .1 5.7 0-2.7 .1-.6 0-1.7 .1 1.3 0-3.9 .1 2.4 0-.2 .1-.4 0-2.3 .1 2.8 .1-4.7 0 2 .1 .9 0 .2 .1-1.3 0-1.2 .1 .4 0 1.4 .1-1.9 0 1.5 .1-3.2 0 4 .1 5.4 0-9.4 .1 3.7 0 3.4 .1-2.8 0 1.9 .1-7.8 0 4.1 .1 5.8 0-5.6 .1 2.9 0-5.7 .1 8.1 0 3.7 .1-6.7 0 1.3 .1 0 0 4.6 .1-6.8 0-3.3 .1 10.1 .1-7.7 0 5 .1-8.1 0 4.4 .1 2.3 0-3.5 .1 1.5 0 3 .1-3.5 0 2.9 .1 3.7 0-10.4 .1 6.1 0 .9 .1-2.9 0 5.1 .1-.3 0-2.4 .1 .2 0-1.9 .1-2.8 0 4.5 .1-2.8 0-.5 .1 4 0-3.9 .1 3.1 0-5 .1 2 0 1.1 .1 3.4 .1-4.1 0 2.7 .1-4 0 2.5 .1 1.5 0-4.8 .1 .7 0 3.2 .1-4.7 0 3.9 .1-.1 0-1.3 .1 2.3 0-.4 .1-.7 0-4.7 .1 .3 0 4.6 .1-4.6 0 4.8 .1-1.1 0-1.6 .1 1.6 0-5.9 .1 6.2 0 4.4 .1-7.2 0 4.9 .1-.4 0 7.5 .1-10.9 0 .3 .1-.3 .1-.5 0-1.8 .1 4.8 0-2.8 .1 4.2 0-1.4 .1-3.6 0 1.7 .1 4.5 0-4.5 .1 1.4 0 2.2 .1-3.5 0 2.2 .1 3 0-.8 .1-7.6 0 8.9 .1-5.1 0-1.2 .1 .1 0 4.8 .1-2.1 0-1.2 .1-1.3 0 4.1 .1 1.2 0-5.7 .1-.4 0 2.3 .1 3 0-2.5 .1 .5 .1-2.2 0 5.9 .1-4.2 0 .1 .1 2.5 0-3.3 .1 .6 0 .4 .1-2.2 0 4.8 .1-3.7 0-1.4 .1 .3 0-1.8 .1 6.1 0 1 .1-4.8 0-.9 .1-4.2 0 3.9 .1 4.1 0-4.5 .1 3.7 0 1.5 .1-10.8 0 6.5 .1-1.2 0 .5 .1-3.4 0 4.3 .1-2.5 .1 5.8 0 1.6 .1-7.9 0-.7 .1 3.1 0 .7 .1-.5 0 2.1 .1-6.2 0 1.9 .1 .2 0 .6 .1-1.9 0 1.3 .1-.3 0 5.4 .1-4.2 0-4.7 .1 7.4 0-1.3 .1-2.8 0 .1 .1 .9 0 5.9 .1-5.7 0 4.6 .1-1.3 0-3.7 .1 2.6 0-3.1 .1-5.6 0 6.8 .1 .4 .1 4.1 0-.4 .1 1.3 0-2 .1 1.1 0-1.4 .1-1.1 0 2.1 .1 1.3 0 0 .1-4.7 0 1.4 .1-2.4 0-.4 .1 4.1 0-2.7 .1 5.6 0-9.5 .1 2.7 0 3.9 .1 2.4 0-3.8 .1 5.8 0-2.5 .1-4.6 0 2.1 .1 1.8 0-3.5 .1 5.6 0-3.6 .1 2.6 0 .9 .1-3.4 .1 3.7 0-7.9 .1 6 0-6.9 .1 8 0-4.1 .1 4.4 0 .6 .1-4.1 0-1.8 .1 5.6 0-6.2 .1 5 0-3.1 .1-.7 0-1.1 .1 6.3 0-9 .1 2.7 0 2.7 .1 1.8 0 2.2 .1-1.1 0-5.1 .1 2.3 0 2.6 .1-1.3 0-5.3 .1 5.2 0 .8 .1-5.5 .1 2.4 0 .9 .1 2.1 0 2.5 .1-1.3 0-1.8 .1-.6 0-2.9 .1 72.5 0-3.9 .1-2.6 0 .4 .1 .7 0-7.4 .1-1.4 0-2.7 .1-3.7 0 .7 .1-2.4 0-4.8 .1-2.7 0 .5 .1-4.8 0-.1 .1 .8 0-4.4 .1-7.1 0 5.4 .1-5.4 0-1.5 .1-1.3 0 5.2 .1-8.6 .1 4.7 0 .2 .1-.7 0-2.9 .1 1.1 0-.1 .1-4.5 0 4.5 .1 .6 0-5.6 .1-.6 0-1.9 .1 5.2 0-6.3 .1 1.2 0-3.4 .1 7.4 0-4.2 .1 1.7 0 3.7 .1-3.1 0-5 .1 3.4 0 .3 .1-4.4 0-.8 .1-1.2 0 4.2 .1-2 0-3.8 .1 4.8 .1 .5 0-4.6 .1-2.7 0 6.5 .1 3.7 0-3 .1-1.1 0-2.7 .1-1.9 0 2.1 .1 1.2 0-2.4 .1 2.4 0-3.2 .1 .9 0-9.4 .1 5.1 0 4 .1-.1 0-1.6 .1 3.5 0-2.1 .1 0 0-4.7 .1 2.8 0 .3 .1 1.7 0-.1 .1-2.9 0 .4 .1-3.2 0 4.5 .1-4.6 .1 1.6 0 .6 .1 6.1 0-2.2 .1-5.3 0-1.9 .1 3.5 0-1.8 .1 3.4 0 .3 .1 1.1 0-4.6 .1 1.9 0 1.2 .1-.3 0-2.2 .1 .5 0 3.5 .1-7.3 0 3.8 .1 .5 0-3.6 .1 .4 0 2.9 .1-1.9 0 4.9 .1-1.4 0 4 .1-9.1 0 8.2 .1-6.7 0 3.7 .1 .3 .1-1.9 0-1.1 .1-1.1 0-3.1 .1 3.4 0-1.1 .1 3.9 0-3.4 .1 2.6 0 1.5 .1-1.1 0 .3 .1-.2 0-1.2 .1 2.2 0 .9 .1-3.6 0 6.3 .1-3.6 0-5.9 .1 11.2 0-5.4 .1-4.2 0 6.8 .1-11.6 0 13.4 .1-11.2 0-.7 .1 1.8 0 3.3 .1-1.5 .1 3.4 0-4.8 .1 4.3 0-2.1 .1-3.3 0 5.6 .1-2.2 0-1.4 .1 4.5 0-6.7 .1 2.5 0 4.5 .1-3.3 0 2 .1 0 0-2 .1 2.6 0-4.9 .1 4.4 0-4.7 .1 2.5 0-2.3 .1 3.9 0-.5 .1 1.4 0-4.7 .1-1.4 0-3.1 .1 2.1 0 2.5 .1 .8 0-1.4 .1 .9 .1-4.2 0 1.2 .1 4.2 0-.5 .1-5.9 0 2.6 .1 1.5 0-3.8 .1 4 0 .1 .1 .6 0 4.7 .1-7.5 0 5.3 .1-1.9 0 .5 .1-3.8 0 2.2 .1 .2 0 4.4 .1-4.4 0 3.8 .1-4.5 0-.7 .1 1.1 0-5.6 .1 3.9 0-.2 .1 1.3 0 1 .1-3 0-.6 .1 6.5 .1-6.7 0 1.2 .1-1.2 0 .9 .1 5 0 .1 .1-8.5 0 4.6 .1 5 0-4.7 .1 1.7 0 3.7 .1 1.2 0-1.7 .1-4.9 0 1.1 .1 .7 0-1.1 .1-.5 0 7.5 .1-4.9 0 1.7 .1 1.2 0-1.8 .1-.7 0 .3 .1 3.7 0-2.8 .1-6.3 0 8 .1 1.2 .1-4.5 0-.6 .1-.4 0 4.2 .1-5.7 0 5.2 .1 1.2 0-1.5 .1-1.8 0-2.1 .1 .1 0 1.2 .1-3.1 0 2.3 .1-2 0 6 .1 .6 0-6.4 .1 5.7 0-2.2 .1-.6 0 1.6 .1-.5 0-5.2 .1 11.2 0-9.7 .1-4.3 0 6.3 .1 .2 0-2.2 .1-3.4 0 8 .1-3.3 .1 1.4 0-2.2 .1 1.2 0-1.5 .1 3.4 0-1.6 .1 1.8 0-.6 .1-1.2 0-.5 .1 2.6 0-7.7 .1 4.1 0 3.3 .1-6.6 0 5.8 .1-3.6 0 1.4 .1-.4 0 .4 .1 1.4 0-1.7 .1-4.9 0 11 .1-6.1 0-1.3 .1 4.2 0 .8 .1-9.2 0 6.6 .1-6.3 .1 4.4 0 1.6 .1-1.2 0-.1 .1-1.3 0 2.1 .1 .7 0 .1 .1-3.4 0 1 .1 5.2 0-.8 .1-2.8 0 2.6 .1-.1 0 1.7 .1-1.8 0-1.8 .1-1.9 0 2.6 .1-5.9 0 5.6 .1-8.6 0 6 .1 .6 0 2.4 .1 6.1 0-7.2 .1-1.1 0-5.4 .1 8.6 0-9.1 .1 5.3 .1-2.7 0 8.4 .1-7.5 0 1 .1-2.7 0 .9 .1 3.3 0-5.7 .1 .2 0 .7 .1-.9 0-.1 .1 3.3 0 3.7 .1-.1 0-7.3 .1 2.5 0 1.9 .1 1.7 0-1.2 .1-.1 0 1.4 .1 1 0-7.2 .1 5.4 0 2.7 .1 2.2 0-1.5 .1-3.7 0 0 .1 3.4 0-1.2 .1 1.1 .1 2.5 0-6.8 .1 2.4 0-6.1 .1 9 0-1.5 .1-3.4 0 3 .1 3 0-1.3 .1-3.1 0-.5 .1 1.3 0-2.8 .1-.1 0 1.5 .1 1.1 0 .6 .1-1.5 0-1.3 .1 2.6 0-1.2 .1 1.5 0 3.5 .1-1.3 0-4.7 .1 .9 0-3 .1 4.5 0-2.8 .1-1.4 .1 2 0 4.3 .1-1.3 0-.6 .1 3.1 0-4.4 .1-1.9 0 4.2 .1-6.6 0 6.5 .1-.3 0-.1 .1 .6 0-2.8 .1 .8 0-4.4 .1 3.3 0 0 .1 2.1 0 3 .1-3.6 0 1.7 .1-4.5 0 3.1 .1-4.6 0 2.3 .1-.6 0 1.6 .1-.2 0-1 .1-.9 0 5 .1-3.3 .1-5.8 0 6.8 .1 0 0 1.1 .1 2 0-7 .1 3.2 0-.8 .1-3.6 0-1.8 .1 9 0-5.1 .1 1.5 0 .6 .1-.6 0 1 .1-4.9 0 2.3 .1 .7 0-2.3 .1 .8 0 1.2 .1 .6 0-4.2 .1 3.7 0 1.8 .1 2.1 0-.9 .1 2 0-2.8 .1-.6 0 5.8 .1-5.9 .1-2.4 0 1.5 .1 3.2 0-6.1 .1 4.9 0 2.2 .1-.5 0-2.2 .1-2.4 0-.4 .1 2.7 0 3.6 .1-1.4 0 .8 .1-2 0 4.3 .1-5.4 0-1.5 .1 2.5 0-2.1 .1 3.9 0 1.4 .1-6.3 0 132 .1-8.8 0 .3 .1-8.2 0 .5 .1-8.3 0 .1 .1-1.1 .1-6.5 0 .4 .1-1.8 0-.8 .1-7.2 0-1.4 .1-2.1 0-1.7 .1-7 0 3.6 .1-1.3 0-7.5 .1-2.9 0 1 .1 3.5 0-5 .1-5 0 0 .1-5.8 0 6.3 .1-7 0 1.8 .1-6.4 0 2.5 .1-4.5 0 3.3 .1 1.5 0-2.1 .1-2.9 0-.2 .1-7 0-1.7 .1 2.1 .1 2.5 0-3.8 .1 .5 0-6.6 .1 2.4 0-.6 .1 1.1 0 3.6 .1-4.3 0 0 .1-5 0 .5 .1 1.8 0-1.4 .1-6.2 0 5.9 .1-.4 0-2.3 .1-.1 0-1.4 .1-3.2 0-3.5 .1 8.5 0-5.5 .1-.9 0-.5 .1-.6 0 0 .1-4.1 0 3.7 .1-1.9 .1-.2 0-.9 .1 .1 0-3.9 .1 2.3 0-1.5 .1 .8 0 2.1 .1-.7 0 .1 .1-3.6 0 1.9 .1 .9 0-4.4 .1-1 0 5.5 .1-9.7 0 3.9 .1-.1 0-3.4 .1 2.4 0 1.4 .1-7.9 0 8.3 .1-3.1 0-2.8 .1 5.1 0-2.8 .1-1.3 0-5.4 .1 9.4 0-3.2 .1-2 .1 1.3 0 3.2 .1-4.9 0 .9 .1-1.2 0-1.7 .1-.1 0 1.2 .1 .5 0 4 .1-2.3 0-1.3 .1 1.7 0-1.2 .1 2.1 0-6.8 .1-1.4 0 6.2 .1-2.4 0 1 .1-4.7 0 2.2 .1 .5 0 1.1 .1-1.1 0 2.9 .1-4.7 0 3.7 .1-3.3 0 1.6 .1-3.1 0 2.9 .1-2.5 .1 5.1 0-4.2 .1 2 0-.6 .1 0 0-2.5 .1 8.1 0-5.6 .1 4.6 0-7.4 .1 9.1 0-2.4 .1 2 0-8.9 .1 8.1 0-4.3 .1 1.6 0 3.3 .1-3.8 0-2.5 .1 1.6 0-3 .1 3.6 0-.4 .1 1.1 0-1.7 .1-4.5 0 4.5 .1 .2 0 2.2 .1 .2 .1-6.5 0 5.9 .1-.7 0-2.1 .1 .8 0-5.9 .1 11.7 0-7.5 .1-1 0 5.4 .1-1.1 0-3 .1-3.4 0 6.7 .1 2 0-7.2 .1-1.1 0 4.6 .1 5.2 0-10.4 .1 4.5 0-4 .1 2.7 0 .9 .1-.2 0-4.8 .1 .9 0 9.9 .1-3.2 0-8 .1 5.3 0 2.4 .1-3.8 .1 .3 0-.1 .1 1.3 0-.2 .1 .8 0-2.2 .1 3 0-.9 .1-.7 0-4.2 .1 2.4 0 1.4 .1-1.7 0 .5 .1-1.9 0 1.6 .1-3.3 0 1.2 .1 3.5 0 .6 .1-3.5 0 1.1 .1 1.9 0 4.1 .1 1.1 0-6.1 .1-1.4 0-.5 .1 5.5 0-6.5 .1 4.2 0-2.9 .1-.9 .1 3.6 0-.5 .1 3.8 0-3.1 .1 2.6 0-6 .1 1.5 0-1.6 .1 1.6 0 2.5 .1-2.5 0 2 .1-2.5 0 .8 .1 3.6 0-2.8 .1-.2 0 1.4 .1-3.3 0-2.1 .1 6.2 0-.3 .1 5.2 0-5.4 .1 1 0 4.6 .1-6.2 0-.8 .1 3.6 0-1.5 .1 1 .1-4.9 0 5.7 .1-3.3 0-6 .1 5.1 0-.8 .1 1.1 0 2.6 .1-2.9 0-.8 .1 4 0-4.3 .1-2.5 0 .5 .1 7 0-1.6 .1 1.6 0-7.2 .1 1.5 0-.5 .1 4 0 .9 .1-3.5 0 .8 .1 2.8 0-2.9 .1-1.3 0 1.2 .1 3.2 0 3.3 .1-5.2 0-1.1 .1 1.7 .1 .2 0 .6 .1-4 0 2.7 .1 0 0 3 .1-1.3 0-2.2 .1 3.2 0 .4 .1-2.8 0-4.1 .1 2.9 0-3.6 .1 3.5 0-.3 .1 2.9 0-2.3 .1-5.8 0 3.1 .1-1.3 0-.3 .1 1.9 0 .4 .1-.8 0-1.6 .1 .7 0 0 .1 .4 0 2.2 .1-1.6 .1 2.1 0-5.2 .1 8.8 0-4.7 .1-6.6 0 7.4 .1 2.2 0-3.2 .1-2.7 0 4.5 .1-2.1 0 1.5 .1 1.9 0-9.7 .1 9.5 0 1.5 .1-.1 0-1.5 .1-.6 0-.8 .1 .8 0 4.2 .1-5.8 0 1.9 .1 .1 0 3.2 .1-2.8 0 .2 .1-2 0 3.6 .1-3.6 0-.5 .1 3.8 .1-1.1 0 .6 .1-4.9 0 8.9 .1-6.3 0 3.6 .1-4.1 0-3.7 .1 3.8 0-2.3 .1 2.8 0-7.8 .1 2.6 0-.6 .1 7.6 0-.5 .1-6 0 3.2 .1 .2 0-1.6 .1 4.6 0-5 .1 1.7 0-1 .1 2.7 0-3.2 .1 3.3 0-3.7 .1 0 0 .7 .1 .9 0-.5 .1 9.4 .1-9.3 0 2.4 .1-1.2 0 1.2 .1 3.4 0-2.7 .1-4 0-2 .1 5.3 0 1 .1-5.9 0 6.3 .1-8.3 0 5 .1 2.4 0-5.3 .1-1.8 0 8.5 .1-8.3 0 4.5 .1-4.7 0 4.8 .1 3.3 0-5.3 .1-.8 0-3 .1 1.6 0 2.5 .1 2.8 0 1 .1 0 .1 1.8 0-1.4 .1 6.8 0-6.9 .1 .3 0-7 .1 5 0 3.1 .1-3 0 5.4 .1-1.8 0 2.8 .1-8.6 0 2.5 .1 4.3 0-2.8 .1-2.3 0 1.4 .1 .2 0 2.9 .1-.3 0-1.9 .1-2 0 4.6 .1 .9 0-6.1 .1 5.4 0-6.2 .1 1.3 0-1.6 .1-2.3 0 2.6 .1-.1 .1 4.9 0-1.4 .1-3.7 0-2.4 .1 .1 0-2.8 .1 5.9 0 .3 .1-2.2 0 2.6 .1-.1 0 2.6 .1-5.6 0 5 .1-4.6 0 4.9 .1-7.3 0 6.2 .1-4.7 0 6.4 .1-2.2 0-4.5 .1 5.6 0-2.2 .1 1.5 0 5.3 .1-6.8 0-.1 .1 4.6 0-4.6 .1 3 0 .3 .1-2.9 .1 1.5 0-7.9 .1 10.3 0-6.4 .1-1 0 8.6 .1-6 0 67.3 .1-3.5 0-5.7 .1-4.7 0 2 .1-.7 0 2.8 .1-10.1 0 .9 .1-4.8 0-1.7 .1 2.5 0-10.3 .1 .1 0-.5 .1 5.1 0-3.9 .1-.9 0-1.5 .1 .3 0-5.7 .1-.4 0-1 .1 1.6 .1-5.7 0 2.8 .1 7 0-6.2 .1-2 0-3.5 .1 2.5 0-.7 .1 .8 0-4 .1 2 0-.5 .1 0 0-3 .1 2.5 0 2.6 .1-6.7 0 4 .1-3 0-.3 .1-3 0 .5 .1 4.3 0-1.7 .1 2.7 0-8.4 .1 3 0-3.1 .1 4 0 4 .1-9.9 0 3.3 .1-.7 .1-.2 0-1.5 .1 .5 0 5.6 .1-7.5 0 3.1 .1-.3 0-6 .1 1.7 0 2.7 .1 3.9 0-5.8 .1-.8 0 1.6 .1 3 0-.9 .1 .8 0-4.2 .1-1.8 0-.6 .1 5.2 0-2.5 .1-.8 0 2.8 .1-.7 0-6.8 .1 4.6 0-2.3 .1 3.7 0-1.4 .1 4.6 .1-4.8 0-3.1 .1-2.3 0 2.5 .1 1.6 0 2 .1 2 0-.9 .1-2.4 0 3.5 .1-3.9 0 5.5 .1 1.7 0-2 .1 1.4 0-.9 .1-6.6 0 3.5 .1-1.5 0-2.3 .1 .1 0 5.4 .1-4.6 0 2.7 .1 1.3 0-1.4 .1 4.3 0-1.8 .1-1.7 0-2.4 .1 1.9 0-.4 .1-3.4 .1-1 0 1.5 .1-2 0 4.4 .1 .4 0-2.1 .1 1.6 0 .6 .1-6 0 5.1 .1 2.2 0-4.1 .1-4.1 0 3.9 .1-4.1 0 4.2 .1 .1 0 .7 .1-1 0-6.1 .1 8 0-7.6 .1 7.1 0-1.9 .1-2.6 0 .6 .1 1 0 5.7 .1-5.5 0 3.1 .1-9.7 0 7.5 .1-1.2 .1 3.9 0-1.8 .1 1.9 0-5.7 .1 3.4 0-1.8 .1 3.7 0 0 .1-4.8 0 6.3 .1 2 0-5.4 .1 4 0-1.7 .1-3.2 0 3.8 .1-4.3 0 3.7 .1-6.1 0 .1 .1 4.8 0-.4 .1 2.1 0-2.4 .1-2.6 0 7 .1-6.4 0 5.8 .1-.7 0 2.9 .1-10.6 .1 5.3 0-.8 .1 2.2 0-5.1 .1 8.4 0-6.1 .1-5.8 0 6.7 .1-.8 0-1.2 .1 3.8 0-2.3 .1-3 0 1.9 .1-.3 0 1.9 .1-2.1 0 .3 .1-4.1 0 1.4 .1 3.4 0 5.8 .1-9.2 0-.4 .1 4.2 0 3.1 .1-2 0-5.2 .1 5.5 0-1.6 .1-1.8 0-2.7 .1 3.7 .1-.6 0 1.3 .1-6.5 0 1.7 .1 3.7 0 3.6 .1-2 0-3.6 .1 3.7 0-4.3 .1 1.8 0 .3 .1-1.6 0 .8 .1 3.6 0-1.6 .1-7.2 0 9.4 .1-2.1 0-4.4 .1 3.1 0 2 .1 1.8 0-5 .1-1.5 0-.7 .1 3.4 0-2 .1 5.9 0-2.5 .1 2 0-2.5 .1-2 .1-1 0 5.2 .1-6.3 0 4.8 .1 1.9 0-2.2 .1 3.6 0-4.3 .1-.7 0 1.4 .1-2.2 0 2.1 .1-.5 0 4.2 .1-3.8 0 2.7 .1-1 0-.9 .1-.6 0 4.6 .1-.6 0-3.8 .1-2.1 0 .9 .1-1.1 0-1.2 .1 2.7 0 1.7 .1 2.5 0-.4 .1-1.7 .1-2.3 0 .4 .1 .9 0 .1 .1-2.1 0 1.4 .1-.5 0-.6 .1 2.1 0 .9 .1-4.1 0 .2 .1 1.9 0 .8 .1-7.4 0 8.1 .1-1.3 0-1.4 .1 3.8 0-3.1 .1-5.5 0 2.2 .1 1.2 0-.3 .1 1.2 0-1.6 .1 3 0 .5 .1-.9 0-2.3 .1 1.5 0-.7 .1 7.5 .1-8.5 0-2.7 .1 2.1 0 4.5 .1 1.4 0-3.6 .1 3.7 0-5.1 .1 3.5 0-4.5 .1-1 0 8.9 .1-5.5 0 2.4 .1 1.3 0-1.8 .1-.6 0-3.8 .1 6.8 0-6.9 .1-3.1 0 4.3 .1 0 0 1.3 .1 3.1 0-4.8 .1 .6 0-.5 .1-5.1 0 5.1 .1 1 .1-3.4 0 8.2 .1-.7 0-2 .1 1 0-3.4 .1 2.8 0-5.9 .1 .8 0 2 .1 2.8 0-2.8 .1-.2 0 5 .1-3.3 0-1 .1 1.1 0-3.2 .1 .7 0 5.9 .1-3 0 2.7 .1-3.7 0 4.1 .1-4.9 0 1.9 .1-1.5 0 3.2 .1 3.2 0-8.7 .1 4.9 0-4 .1 2.8 .1-.6 0-3.9 .1 4 0-3 .1 7.3 0-6 .1 2.5 0-.5 .1 .1 0-1.7 .1-3.4 0 8.8 .1-4.8 0 1.9 .1-5 0 3.8 .1-2 0 2.1 .1-3.1 0-.8 .1 4.4 0-1.2 .1 3.7 0-4.9 .1-1.3 0 3.8 .1-3.9 0 8.7 .1-.6 0-1 .1-2.9 0-.8 .1 .1 .1-.1 0-1.9 .1 3.3 0 2.5 .1-.3 0-9.2 .1 12 0-5.6 .1-5 0 2.6 .1 3.7 0-2.5 .1-2.5 0-1.1 .1 5.8 0-4.7 .1 1.2 0-2.1 .1-.4 0 4.7 .1 3 0-5.1 .1-4 0 2.5 .1 1 0-5.6 .1 9 0-5.5 .1 3.5 0-1.9 .1 0 .1-4.3 0 6.4 .1-1.1 0 2.9 .1-5.5 0 2.8 .1-2.7 0 4 .1-1.8 0-3.8 .1 3.5 0-2.3 .1-.4 0 2.6 .1 3.4 0-6.4 .1 2.5 0-2.6 .1 8.6 0-1.4 .1 1.4 0-3.1 .1-4.7 0 1.7 .1 1.9 0-.2 .1-2 0 3 .1-1.8 0 .4 .1 6.3 0-5.1 .1-5 .1 5.1 0-1 .1 1 0-.3 .1-4.5 0 4.2 .1 2.3 0 5.2 .1-6.6 0 4.5 .1-1.1 0-7 .1 .8 0 7 .1-7.7 0 .4 .1 3.6 0-4.1 .1 6.6 0-.7 .1 .9 0-.5 .1-5.5 0 .5 .1 110 0-3 .1-5.8 0-1.4 .1-6.2 0 2.3 .1-1.6 0-5.2 .1-3.6 .1 .3 0-6.1 .1-6.3 0 4.5 .1-3.9 0-5.9 .1 3.6 0-.8 .1-1.8 0-5.9 .1-2.2 0-1 .1-2.5 0-5.5 .1-.8 0 4.2 .1-5.3 0-1.4 .1-2.9 0 1.2 .1 .2 0-2.1 .1 2.2 0-5.7 .1 .3 0-4.2 .1 3.5 0-2.4 .1 .3 0-1.1 .1-5 .1 1.9 0-3.1 .1 3.6 0-4.1 .1 4.1 0-3.3 .1 .2 0-3.4 .1 .5 0 .8 .1-3.1 0 .8 .1-1.6 0-1.1 .1 1.7 0-.4 .1-2 0 1.1 .1-2.9 0-2.6 .1-.1 0 2.9 .1 1.9 0-3.7 .1-.9 0-3.2 .1 3.1 0-1 .1-3 0 2.8 .1-1.1 0-5.8 .1 .1 .1 2.2 0 .5 .1 2.8 0-4.6 .1 1.3 0-.8 .1 1.2 0-.8 .1-.2 0-1.3 .1-3.2 0 3 .1 5.2 0-2 .1 1.7 0-2.1 .1-4.1 0 .2 .1 2.9 0-2.9 .1 2.9 0 2.4 .1-.5 0-2 .1-6.4 0 6.6 .1-6.8 0-.5 .1 4.3 0-.7 .1 .9 .1-1.6 0-2.4 .1 2.1 0-2.7 .1-.4 0 1.9 .1-.1 0 .8 .1-1.3 0 3.1 .1-3.6 0 .2 .1 1.6 0-8 .1 8.3 0-1.4 .1-3.4 0 5.9 .1-2.7 0 2.2 .1-1.1 0-2.6 .1-1.6 0-2.1 .1 1 0-1.1 .1 1.8 0 1.9 .1-4.4 0 4.4 .1 .1 0-6.4 .1 1.7 .1 1.1 0-.9 .1-.9 0 5.6 .1-3.1 0 2.6 .1-3.6 0 1.9 .1-5.5 0 2.8 .1 3.4 0-1.9 .1 2.6 0-3.1 .1-1.3 0 .6 .1 6 0-4.2 .1-2.8 0 .8 .1-2.4 0 6.1 .1-4.5 0 3.3 .1-1.9 0-.9 .1-1 0 3.5 .1-1.5 0 3.9 .1 1 0-5.5 .1 1.9 .1 4.7 0-2.4 .1-2.8 0-4.5 .1 1.1 0 .8 .1 7.3 0-4.5 .1-1.2 0 .5 .1-.2 0 1.7 .1-5.2 0 .9 .1 4.1 0 3 .1-8.4 0 7.4 .1-5.1 0-1.7 .1 7.3 0-3.3 .1 1.5 0-2.1 .1 .2 0-4.6 .1 3.8 0 1.7 .1-3.1 0 4 .1-.3 .1-7.6 0 8.8 .1-1.3 0-1.3 .1 3.3 0 2.8 .1-8.4 0 5.1 .1-.7 0-.8 .1 1.3 0 .1 .1-3 0-6.8 .1 4.9 0-.2 .1 6.5 0-4.3 .1 3 0-5.7 .1 2.5 0-.6 .1 .6 0 1.8 .1 2.8 0-5.8 .1 5.3 0-.2 .1-3.2 0 1.4 .1-2.5 0-2.1 .1 1.6 .1 0 0 .3 .1-2.1 0 7.4 .1-6 0 3.5 .1 .4 0-3.2 .1 1 0-2.5 .1-1.1 0 9.5 .1-5.9 0-5.8 .1 2.7 0-2 .1 3.6 0 4.4 .1-1.2 0-5.8 .1-.4 0 4 .1-1.3 0-2 .1 5.4 0-3.7 .1-5.2 0-.9 .1 6.1 0-5 .1 6.8 0 .5 .1 4.1 .1-8.8 0 3.2 .1-7.6 0 5.1 .1 .6 0 5.7 .1-9 0 5.1 .1-.9 0 5.6 .1-8.8 0 .1 .1 4.4 0-1.8 .1-.5 0-1.3 .1 2.6 0-4.3 .1 5.5 0 1 .1-.5 0 5.5 .1-4.5 0-4.3 .1 1.8 0 2.4 .1-2.4 0 6.1 .1-4.1 0-2.6 .1-.7 .1 4.2 0-4.8 .1-2.4 0 6.3 .1-2.9 0 5.8 .1 .7 0-6.9 .1 1.4 0-.5 .1 2 0-1 .1-3.1 0-2.8 .1 5.5 0 3.6 .1-8.6 0 1.8 .1-.6 0 1.5 .1-6.1 0 6.7 .1-1.6 0 6.3 .1-3.4 0-.2 .1-1.6 0-.4 .1 2.8 0-6.9 .1 7.6 0-1.3 .1-1.8 .1 3.8 0-4.9 .1 .2 0 2.8 .1-6.1 0 4.6 .1-1.3 0 3.9 .1 2.6 0-2.7 .1-.5 0 .9 .1-3.4 0 8 .1-2.8 0 2.3 .1-8.1 0 5.2 .1-.4 0 1.5 .1-4.9 0 3.5 .1-1.5 0 5.8 .1-8.7 0 2 .1-.4 0-2.1 .1 3.4 0-.1 .1-1.8 .1 1.5 0 1.9 .1-1 0 1 .1-3.2 0-1 .1 2 0-4.9 .1 9.2 0-3.7 .1-5.6 0 6.3 .1 3.8 0-8.4 .1 2 0 4.6 .1-4.8 0 4.6 .1 .7 0-3.3 .1 1.1 0 1.2 .1-1.5 0 1.3 .1-3.4 0 .3 .1-2.3 0 2.8 .1 2.4 0-.3 .1-2.7 0-4.3 .1 2.1 .1 3.8 0-4.3 .1 5.6 0-6.2 .1 3.7 0-3.4 .1 .3 0 2.4 .1-2.1 0 3.9 .1-2.6 0-3.1 .1-8.2 0 9.4 .1 1.8 0 3.5 .1-5.5 0 7.1 .1-2.5 0-2.4 .1 4.1 0-7.3 .1 1.1 0 4.6 .1-.5 0 2.1 .1 .3 0-4.6 .1-.3 0 .8 .1 .3 0 1.9 .1-1.8 .1 5.5 0-3.8 .1-4.1 0 .5 .1 4.7 0-.3 .1-5 0-1.6 .1 9 0-2.7 .1-1.5 0-3 .1 6.1 0-4.1 .1 2.8 0-7.1 .1 5.3 0 1.6 .1 .5 0-4 .1 .9 0 4 .1-3.5 0 4.2 .1-2.2 0 1.7 .1 0 0-1.2 .1 1.2 0-3.7 .1-1.1 .1 3.3 0 3 .1-5.4 0 7.2 .1 .1 0-7.1 .1 .1 0-.9 .1 2.9 0 2.8 .1-1.8 0-3.3 .1 3.8 0-.3 .1 1.8 0 .2 .1-5.3 0 1.8 .1 4.4 0-.6 .1-1.5 0-3.4 .1 4.3 0-2.9 .1 5.7 0-2.8 .1-4.4 0-1.2 .1 5.6 0-1.6 .1-3.9 0 2.8 .1-.1 .1-2.9 0 1.1 .1-2.5 0 1.2 .1 3.2 0-1.3 .1-.1 0 1 .1 61.8 0-8.8 .1 4.5 0-9.6 .1 0 0-.9 .1-3.6 0-1.7 .1-3.7 0 2.3 .1-2.2 0-1.5 .1-6.9 0 1.4 .1 3.1 0-2.9 .1 .6 0-2.7 .1-2.2 0-6.4 .1 9.9 0-8.5 .1 .7 0 1.7 .1-2.8 .1 0 0-2.1 .1-3.4 0 6.4 .1-8.4 0 3.7 .1-5.5 0 2.2 .1-2.8 0 1.7 .1-2.5 0 2.9 .1 1.6 0-4.6 .1 .2 0-3.6 .1 10.7 0-5.8 .1-3.7 0 5.4 .1-3 0-6.2 .1 1.5 0 6.6 .1-6.4 0 .3 .1-.1 0 .8 .1-.1 0 3 .1-.9 .1-3.6 0 1.2 .1-4.5 0 5.6 .1 6 0-5.9 .1-1.9 0-.3 .1 .1 0 2.2 .1-7 0 6 .1-3.8 0 2.2 .1 2.9 0-7.4 .1 10.6 0-5 .1-3.2 0 2.3 .1-2.4 0 2.2 .1 1.4 0-7.6 .1 7.1 0-.1 .1 2.2 0-1.3 .1-3.7 0-.6 .1 1.1 0 1.6 .1-3.8 .1 6.3 0-4.1 .1 .4 0 1.2 .1-2.4 0 2.3 .1-.6 0-7.1 .1 2.9 0-1.1 .1 2.8 0-2.3 .1 .3 0-1.3 .1-3.5 0 6.8 .1-2.1 0 .5 .1 10.2 0-5.9 .1-4 0-1.1 .1 3.6 0-4 .1-.5 0 5.3 .1-4.7 0-1.1 .1 3.1 0 3.7 .1-6.3 .1 4.7 0 .2 .1-1.3 0 1.8 .1-4.1 0 0 .1-1.3 0 2.4 .1 3.5 0-2 .1-2.6 0 2.4 .1-9.4 0 8.4 .1 1 0-4.7 .1 1.2 0 2 .1 .9 0-2.7 .1-.9 0-.2 .1 3.2 0-1.7 .1-1.2 0 .3 .1 10.6 0-6.1 .1-.4 0-1.3 .1-.2 0-1.8 .1 .2 .1 1.9 0-.2 .1-5 0 7 .1-2.5 0-3.5 .1 3.1 0 6.3 .1-6.8 0 1.8 .1-1.8 0-2.5 .1 1.2 0 2.2 .1-3.3 0 .6 .1 1 0 .1 .1-.2 0 1.5 .1 .7 0-1.5 .1 2.3 0 1.2 .1-7.1 0 4.4 .1-.3 0 .6 .1 0 0 .2 .1 0 0 2.6 .1-5 .1 4.2 0-4.1 .1 8 0-2.7 .1-5.4 0 2.9 .1 2.1 0-2.4 .1 4.3 0-3.5 .1 6 0-4.9 .1 .2 0-3.1 .1-1.1 0 4.1 .1-6.6 0 5.9 .1 4.3 0 .4 .1-10.3 0 3.9 .1 2 0 .2 .1 1.4 0-6.7 .1 3.2 0-4.8 .1 5.3 0 5.5 .1-8.6 .1 3.3 0 .3 .1-4.9 0 4.6 .1-3.4 0 3.5 .1 1.8 0-3.5 .1 3.4 0-4.6 .1 1.3 0 2.2 .1-1.9 0 .6 .1 1.8 0-2.9 .1 2.2 0-2.3 .1 4 0-2.9 .1-.3 0 3.4 .1-.9 0 .4 .1-3.4 0 3.4 .1-3.6 0-3.6 .1 3.2 0 5.2 .1-4.7 0-2.4 .1 3.5" fill="none" stroke="#000" stroke-width="0.9" clip-path="url(#cb)"/>
<rect x="57.7" y="256.5" width="257.70" height="216.30" fill="none" stroke="#262626" stroke-width="1.15"/>
<line x1="57.70" y1="472.8" x2="57.70" y2="476.3" stroke="#262626" stroke-width="1.1"/>
<text x="57.70" y="492.60" text-anchor="middle" class="tk">0</text>
<line x1="109.24" y1="472.8" x2="109.24" y2="476.3" stroke="#262626" stroke-width="1.1"/>
<text x="109.24" y="492.60" text-anchor="middle" class="tk">10</text>
<line x1="160.78" y1="472.8" x2="160.78" y2="476.3" stroke="#262626" stroke-width="1.1"/>
<text x="160.78" y="492.60" text-anchor="middle" class="tk">20</text>
<line x1="212.32" y1="472.8" x2="212.32" y2="476.3" stroke="#262626" stroke-width="1.1"/>
<text x="212.32" y="492.60" text-anchor="middle" class="tk">30</text>
<line x1="263.86" y1="472.8" x2="263.86" y2="476.3" stroke="#262626" stroke-width="1.1"/>
<text x="263.86" y="492.60" text-anchor="middle" class="tk">40</text>
<line x1="315.40" y1="472.8" x2="315.40" y2="476.3" stroke="#262626" stroke-width="1.1"/>
<text x="315.40" y="492.60" text-anchor="middle" class="tk">50</text>
<line x1="83.47" y1="472.8" x2="83.47" y2="475.3" stroke="#262626" stroke-width="1.1"/>
<line x1="135.01" y1="472.8" x2="135.01" y2="475.3" stroke="#262626" stroke-width="1.1"/>
<line x1="186.55" y1="472.8" x2="186.55" y2="475.3" stroke="#262626" stroke-width="1.1"/>
<line x1="238.09" y1="472.8" x2="238.09" y2="475.3" stroke="#262626" stroke-width="1.1"/>
<line x1="289.63" y1="472.8" x2="289.63" y2="475.3" stroke="#262626" stroke-width="1.1"/>
<line x1="53.7" y1="448.77" x2="57.7" y2="448.77" stroke="#262626" stroke-width="1.1"/>
<line x1="53.7" y1="400.70" x2="57.7" y2="400.70" stroke="#262626" stroke-width="1.1"/>
<line x1="53.7" y1="352.63" x2="57.7" y2="352.63" stroke="#262626" stroke-width="1.1"/>
<line x1="53.7" y1="304.57" x2="57.7" y2="304.57" stroke="#262626" stroke-width="1.1"/>
<line x1="53.7" y1="256.50" x2="57.7" y2="256.50" stroke="#262626" stroke-width="1.1"/>
<line x1="55.7" y1="472.80" x2="57.7" y2="472.80" stroke="#262626" stroke-width="1.1"/>
<line x1="55.7" y1="424.73" x2="57.7" y2="424.73" stroke="#262626" stroke-width="1.1"/>
<line x1="55.7" y1="376.67" x2="57.7" y2="376.67" stroke="#262626" stroke-width="1.1"/>
<line x1="55.7" y1="328.60" x2="57.7" y2="328.60" stroke="#262626" stroke-width="1.1"/>
<line x1="55.7" y1="280.53" x2="57.7" y2="280.53" stroke="#262626" stroke-width="1.1"/>
<text x="51.70" y="453.07" text-anchor="end" class="tk">5</text>
<text x="51.70" y="405.00" text-anchor="end" class="tk">6</text>
<text x="51.70" y="356.93" text-anchor="end" class="tk">7</text>
<text x="51.70" y="308.87" text-anchor="end" class="tk">8</text>
<text x="51.70" y="260.80" text-anchor="end" class="tk">9</text>
<text x="172.5" y="270.8" class="ann">Bright</text>
<line x1="189.5" y1="275" x2="189.5" y2="294" stroke="#333" stroke-width="0.9"/>
<polygon points="186.7,291.6 189.5,293.6 192.3,291.6 189.5,298" fill="#333"/>
<text x="177" y="394.3" class="ann">Dark2</text>
<text x="160.5" y="451.8" class="ann">Dark1</text>
<text x="188.5" y="512" text-anchor="middle" class="lab">Time (s)</text>
<text transform="translate(13.75,364) rotate(-90)" text-anchor="middle" class="lab">Integrated intensity</text>
<text transform="translate(32.2,364) rotate(-90)" text-anchor="middle" class="lab">(×10<tspan font-size="10" dy="-6">4</tspan><tspan dy="6"> counts)</tspan></text>
<path d="M416.9 393.8l.1 1.9 0-2.9 .1-1.8 0-.4 .1 .8 0-.4 .1 2.8 0-.4 .1-3.5 0 1.4 .1 2.8 0-2.9 .1-1.1 0 .3 .1 1.3 0 1.2 .1-2.3 0-3.1 .1 3.3 0 1.6 .1-2.3 0 2.8 .1-3.2 0 .6 .1-2.8 0 2 .1-1.9 0-2.5 .1 5 0 1.4 .1-2.8 0 1.4 .1-.4 .1 1.6 0-2.3 .1 .8 0 4.5 .1-3.8 0-1.5 .1-1.7 0 3.9 .1 0 0-4.2 .1 3.6 0-1.7 .1-.6 0-.4 .1 1.8 0 2.3 .1-4.2 0 2.9 .1 .1 0-5.3 .1 2.5 0 3.7 .1-1.2 0-.5 .1 .9 0 2.5 .1-5.8 0-.1 .1 1.8 0 1.2 .1-1.1 .1-1.1 0 3.1 .1-.9 0 .7 .1-2.7 0 1 .1 3.1 0-1.4 .1-5.1 0 5.5 .1-2.5 0 1.6 .1-3.9 0 2.7 .1 .6 0 1.6 .1-2.3 0-2.2 .1 .4 0 3.9 .1-6 0 3.8 .1 1.2 0-2.4 .1 1.2 0-.1 .1 .5 0-1.7 .1 .9 0 2.3 .1-4.7 0 2.3 .1-3.3 .1 1.6 0-.1 .1 1 0-2.2 .1 3.1 0 1 .1-2.6 0 6.4 .1-5 0-1.2 .1 1.1 0-3.5 .1 1.6 0 1.6 .1 1.1 0-3.4 .1 3.6 0-.3 .1-2.5 0 .5 .1-3.1 0 5.1 .1 3.2 0-5.2 .1-1.5 0 2.6 .1-3.6 0-.6 .1 4.9 0 .1 .1 1.7 0-3.7 .1-.5 .1 .3 0 3.6 .1-1.2 0 1.5 .1 .1 0-.8 .1 .6 0-2.8 .1-1.4 0-.4 .1 1 0 1.1 .1-1.2 0-1.4 .1 1.8 0-.8 .1 .4 0 .4 .1-.9 0 2.5 .1-4.4 0 4.9 .1-4.1 0 3.8 .1-5.9 0 1.7 .1 3.3 0-.5 .1 1.5 0-2.2 .1-1.1 .1-4.4 0 7.8 .1-5 0 3.1 .1-1.8 0-.7 .1 .9 0-.1 .1 1.2 0-.2 .1 .2 0-1.7 .1 5.8 0-2.7 .1 1.3 0-.5 .1-.7 0-3.7 .1-2 0 1.3 .1 5.5 0-2.5 .1 2.4 0-3.2 .1-1.9 0 1.1 .1-.5 0 1.8 .1 4.4 0-.1 .1-4 0-1.6 .1-1.1 .1 3.4 0-.9 .1-.6 0-1.5 .1 1.7 0 2.2 .1-3.9 0 .9 .1 .2 0 2.8 .1-2.7 0 3.8 .1 .3 0-3.5 .1-.3 0-1.8 .1-1.4 0 3 .1-3.8 0 5 .1-3.1 0 4.4 .1-3.2 0 .8 .1-.2 0-1.7 .1 5.1 0-4 .1 1.6 0-1.7 .1 0 .1 1.4 0 .3 .1 1.8 0-3.6 .1 2.5 0-2.7 .1 3.6 0-5.8 .1 5 0-4.6 .1 2.9 0-1.8 .1 1.7 0-1.6 .1 1.4 0-2.5 .1 1.5 0 0 .1-1.9 0 4.7 .1-3.9 0 2.7 .1 2.9 0-4 .1-95.9 0 2.1 .1 7.8 0 1.9 .1 2.8 0 7.3 .1-1.8 0 5.3 .1-2.7 .1 1.5 0 5.2 .1 4.8 0-2.1 .1 1.4 0-.5 .1 3.5 0 2.9 .1-1.1 0 2.4 .1-5.1 0 6.1 .1 .5 0-.9 .1 3 0-1 .1-.1 0 1.2 .1 .3 0-2.4 .1 1.9 0 4 .1-2.2 0-1.9 .1 3 0-1 .1 .7 0-.9 .1 1.9 0 0 .1 1.8 0-2.3 .1 2.9 .1-5.3 0 3.7 .1 .9 0-2 .1 1.6 0 .3 .1 .8 0 1.4 .1 .3 0-.4 .1-3.5 0 3.7 .1-.6 0 .2 .1-1.6 0-2.5 .1 6.3 0-3.1 .1 .7 0 .9 .1-1.7 0 3.4 .1-3.8 0 1.2 .1 2.8 0-4.9 .1 1.6 0-.4 .1 4.9 0-1.8 .1 .4 .1-2.5 0-1 .1 6.8 0-3.8 .1 .4 0-2.5 .1 2.8 0 2.5 .1-2.2 0 2.2 .1-.3 0-1.1 .1 1.3 0-1.2 .1 3.7 0-7 .1 2.3 0 1.5 .1 4.1 0 1.4 .1-2.7 0-1.1 .1-4.8 0 1.8 .1 3.5 0-3.5 .1 .1 0 2.7 .1-2.2 0 1.7 .1 2.6 0 1.2 .1-1.8 .1-2.2 0 4.6 .1 .1 0-4.2 .1 6.4 0-8.9 .1 5 0-2.6 .1-2.3 0 6.7 .1-.7 0-6 .1 5.6 0-.3 .1-.2 0-1.2 .1-.4 0 2.9 .1 .8 0-.4 .1-.6 0-2.2 .1 2 0-3.4 .1 5.4 0-2.9 .1-2.2 0 1.3 .1 1.8 0 2.5 .1 0 0-1.4 .1-.8 .1 1.5 0 2.5 .1-1.4 0-2.3 .1-.6 0 4.5 .1-1.8 0 2.7 .1-1.6 0-8.2 .1 7.2 0 .8 .1 .5 0 1.9 .1 1.5 0-3.4 .1 .6 0-3.5 .1 6.4 0-4.3 .1-1.6 0 6.8 .1-5.6 0 4.9 .1-4.4 0-2.1 .1 3 0-.6 .1 1.8 0-2 .1-1.5 .1 2.7 0 .4 .1-1.4 0-.9 .1 4.9 0-3.4 .1 1.3 0-2.8 .1-.9 0 1.5 .1-1.9 0 4.9 .1-1.2 0 1.3 .1-2.3 0 0 .1 1 0 2.1 .1-2.3 0 1.1 .1-2.1 0 1.8 .1-2.4 0 1.7 .1 4.3 0-3.5 .1 1.8 0-4.4 .1-1.1 0 3.4 .1-.8 0 4.2 .1 1.7 .1-3.1 0-.8 .1 2.6 0-3.2 .1-.4 0-.3 .1-1.9 0 1.7 .1 2.2 0-.7 .1-.8 0 3.1 .1-4.7 0 .7 .1 2.3 0 .7 .1-9 0 6.2 .1 .5 0-2.2 .1 1.7 0 1.6 .1-1 0 3.2 .1-2.9 0 4.2 .1-4 0-.1 .1 4.6 0-7.3 .1 6.3 .1-4 0 3.1 .1-1.8 0 2.2 .1-6 0 3.2 .1-1.3 0 2.4 .1-.6 0 1 .1 .8 0-2 .1 .5 0 .8 .1 2.9 0-2.3 .1-1.8 0 2.2 .1-1.8 0 1.3 .1 1.7 0-.3 .1-.6 0-.5 .1-.3 0-3.1 .1 4.9 0 1.9 .1-5.7 0 2.2 .1-.6 0-5.7 .1 2.1 .1 2.1 0 0 .1 1.7 0-1.5 .1 3.3 0 .2 .1-.5 0-3.7 .1-.1 0 4.3 .1-3.3 0 2.3 .1-2.2 0 2.8 .1-2.7 0 2.2 .1 .7 0 0 .1-.5 0 1.6 .1 1.3 0-6.5 .1 4.2 0 2.9 .1 1.2 0 1.2 .1-4.6 0-4 .1 5.8 0-2.6 .1 2.9 0-6.3 .1 1.3 .1 0 0-2.1 .1-.7 0 1.6 .1 3.5 0 1.6 .1-.2 0 1.3 .1-7.2 0 3.6 .1-.5 0 .3 .1-3.5 0 5.6 .1-3.3 0 2.1 .1 .6 0 3.9 .1-5.3 0 3.5 .1-.8 0-1.2 .1 .5 0-1.8 .1 3.5 0-1.6 .1 .1 0 .3 .1-1.1 0 1.7 .1-2.8 .1 3.9 0 1.7 .1-3 0-2.1 .1 3.4 0 0 .1-.6 0-1 .1 .7 0-.9 .1 4.2 0-6.7 .1 1.5 0 2.7 .1-3.9 0 1.8 .1-2.2 0 5.3 .1-5.7 0 3.6 .1 3.9 0-5.4 .1 2 0 1.4 .1-2.1 0 3.3 .1-5.2 0 1.5 .1-.1 0-3.4 .1 2.7 0 1.3 .1 .4 .1-2.3 0-2.3 .1 3.2 0 .6 .1-4.3 0 1.9 .1 .2 0-3.9 .1 6.9 0-3.2 .1 4.4 0-2.7 .1-1.5 0-1.2 .1 5.1 0-4.1 .1 .4 0 2.4 .1-5.4 0 5.4 .1 1.7 0-2.6 .1 4.9 0-6.5 .1 1.2 0 3.2 .1-2.1 0 .6 .1-2.4 0 5.4 .1 1.7 0 1.5 .1-3.9 .1 2.6 0-2.5 .1-1.7 0 1.5 .1 1.2 0-3.7 .1 2.6 0-1 .1-1.1 0 4.1 .1-.3 0-7.4 .1 5.8 0 2 .1-1.6 0 .4 .1 1.5 0-1.4 .1-.7 0-.3 .1-1.2 0 4.6 .1-.5 0-4.6 .1 2.7 0-3.4 .1 2 0 3.4 .1-4.1 0 3.2 .1-3.3 .1-1.9 0-1.4 .1 4.1 0-1.3 .1 .5 0-.9 .1 6.8 0-4.6 .1-1.5 0-.5 .1 2.2 0-3.5 .1-.7 0 2.8 .1 .5 0 .8 .1-1.1 0-2.6 .1-.6 0 4.3 .1 .8 0 .1 .1-3.4 0 1.6 .1 0 0-.6 .1 0 0 1 .1 2.1 0-1 .1-1.2 0-.7 .1 1.7 .1 .3 0-3.8 .1 4.2 0-1.2 .1 1.1 0 .7 .1 1.7 0-2.2 .1 .2 0-2.7 .1 4 0-1.8 .1-1.6 0 1.5 .1-1.4 0-.5 .1 5 0-2.1 .1 1.1 0-4.5 .1 2.3 0-.8 .1-2.6 0 3.9 .1-.9 0-.9 .1 1.6 0-3 .1 .6 0-.1 .1 1.9 .1 1 0-.1 .1 .9 0 2.5 .1-4.3 0-1 .1 1.6 0 1 .1 47.2 0-1.3 .1-.3 0-3.4 .1 5.2 0-2.5 .1-.4 0 .8 .1 .6 0 1.9 .1-1.1 0-2.6 .1-1.6 0 3.8 .1-2.2 0-.7 .1-1.1 0 1.1 .1-.5 0-1.5 .1 4.3 0-2.3 .1 3.2 0 .2 .1-2.7 .1 1.3 0-3.5 .1-.9 0 2.2 .1-.4 0 .1 .1-.1 0-1 .1-.7 0 1.4 .1 .4 0-.5 .1-2.9 0 2.5 .1-4 0 3.4 .1-3.1 0 5 .1-.8 0-2.6 .1-.5 0 1 .1-4.3 0 3.7 .1-.4 0 1.7 .1-5 0 1.6 .1 .6 0 3.8 .1-4.3 0 2 .1-2 .1-1.4 0 3.6 .1-1.8 0-1.4 .1 1.6 0 .5 .1 1 0-.5 .1 .7 0-4.5 .1 1.2 0 3.2 .1-2.3 0 2.5 .1 4.2 0-9 .1 .3 0 4.8 .1-1.5 0-1.9 .1 1.7 0 .9 .1-.8 0-.8 .1 .9 0-2 .1 .9 0 .9 .1-1.8 0 3.4 .1-5.9 .1 6.7 0-3.2 .1-.8 0 0 .1 .6 0-2.7 .1 4.9 0-2.1 .1-.8 0 1.3 .1 0 0-3.5 .1 4.3 0-.7 .1-.6 0-.1 .1-.4 0 .5 .1-1.1 0 1 .1-.9 0-1.5 .1 4.1 0-5.3 .1 4.1 0-2.1 .1 .7 0 .9 .1 3.2 0-7.5 .1 5.2 0-.3 .1-3.2 .1 2.4 0-3.2 .1 .4 0 2 .1 .7 0-.8 .1 4.4 0-2.9 .1 0 0 1.4 .1-1.5 0 3.8 .1-4.6 0-1.3 .1 5.4 0-2.7 .1-2.6 0 2.1 .1 2.8 0 .2 .1-3.7 0-1.4 .1 5.3 0-1.8 .1 1.1 0-1.4 .1-1.1 0 .6 .1 1.2 0-5.8 .1 4.3 0-.2 .1-2.6 .1 1.7 0 .7 .1-2.5 0 3.4 .1-3.5 0-.3 .1 .4 0 1.5 .1-.8 0 3.3 .1-2.8 0-1 .1-1.1 0 1.2 .1 .8 0 .2 .1-1.6 0 .2 .1-2.6 0 2.5 .1 .9 0-.7 .1 .5 0-.5 .1 3.7 0-1.1 .1-1.3 0-3.5 .1 1.6 0-.4 .1-2 .1 4.3 0-4.2 .1 1.7 0 2.2 .1-4.6 0 5.4 .1-.6 0-1.8 .1-1.1 0 1.3 .1 4.2 0-4.2 .1-.3 0-5.2 .1 2.2 0 2.5 .1 2.2 0-2.7 .1 2.8 0-2.4 .1-.3 0 1.8 .1-1.9 0 .9 .1 .4 0-4.1 .1 1.9 0 2 .1 .6 0-1.9 .1-.5 0-.7 .1-1.3 .1 1.9 0 3.6 .1-6.3 0 2 .1 .8 0-1.1 .1 5.5 0-2.4 .1 .2 0-3.6 .1 4.9 0-2 .1-3.5 0 1.7 .1 2.2 0-4.6 .1 6.1 0-3.3 .1 1.5 0-1.7 .1 1.6 0 1 .1-2.1 0 3.2 .1-3.8 0 1.5 .1-2.5 0 2.5 .1 .3 0-2.3 .1-1.6 .1 6.1 0-3.9 .1-.8 0 4.2 .1-1.2 0-2.5 .1 2.6 0-.3 .1-4.6 0 5.1 .1-.1 0 2.9 .1-2.5 0 .1 .1-5.9 0 1 .1 5 0-6.3 .1 2.4 0 2.1 .1-1.9 0 1 .1 2.2 0 1.4 .1-1.6 0-1 .1 .3 0 .9 .1-3.2 0 3.8 .1-4.2 0 3 .1-1 .1 2.2 0-1.9 .1 1.8 0 1.5 .1-3.3 0 0 .1-1.8 0 1 .1 2.2 0-.9 .1 3.7 0-2.9 .1-5.1 0-.7 .1 1.6 0 1.4 .1-.9 0 0 .1 4.4 0-1.4 .1-4.1 0 .2 .1 1.6 0 .7 .1 0 0 .3 .1 .7 0 1.9 .1-4 0 .7 .1-.5 0-3.6 .1 2.2 .1 2.8 0-2.6 .1 4.1 0-4.9 .1 1.4 0 1.2 .1-1.8 0-1.9 .1 4 0 .8 .1-6 0 4 .1-3.2 0 4 .1-2.3 0 2.1 .1-2.6 0 1.7 .1 .7 0-4.8 .1 2.6 0 4.8 .1-3.4 0 1.5 .1 .3 0-1.4 .1-.5 0-1.1 .1 1.8 0 2.1 .1-2.9 .1-2.8 0 4.6 .1-3.8 0 .3 .1 1.9 0-1.9 .1 2.2 0-.8 .1 1.5 0-2.9 .1-2.1 0 4 .1-3.5 0 6.5 .1-2.8 0 .5 .1-5.8 0 4.1 .1-2.3 0 5.6 .1-4.3 0-1 .1 1 0 4.8 .1-5.9 0-1.5 .1-1.2 0 1.7 .1 3.7 0-3 .1-2.2 0 3 .1-2.3 .1 2.2 0-1.2 .1-1.1 0 2.5 .1-7.1 0 5.1 .1-.4 0 2 .1-1.1 0 .7 .1 2.2 0 .1 .1-3.6 0 .7 .1 5 0-.4 .1-3.4 0 .1 .1-.9 0 3.6 .1-3.4 0 1.6 .1 .6 0-1 .1-2.2 0 .7 .1-.6 0 3.3 .1-.9 0 1.8 .1-1.2 0 .1 .1-.4 .1-2.9 0 .7 .1-.8 0 1.3 .1-1.9 0 2.2 .1-1.7 0 .7 .1-.6 0 1.7 .1 2.1 0 .4 .1-6.9 0 3.2 .1 0 0 1.5 .1 .2 0-6.8 .1 7.8 0-2.5 .1 .1 0 2.5 .1 .4 0-1.5 .1-.4 0 .4 .1-2.7 0 3.8 .1-3 0-2 .1 1 .1 4.2 0 4 .1-7.7 0 .1 .1 2.1 0-3.5 .1 3.6 0-1.3 .1 2.2 0-2.8 .1 1.9 0 .2 .1-3.3 0 1.6 .1 3.6 0-4.6 .1 0 0 3.2 .1-.8 0-.6 .1 .6 0-.7 .1-1.3 0 2 .1-4.8 0 5.2 .1-.6 0-4.9 .1-.7 0 4.5 .1 .1 0 1.5 .1-4 .1 1.7 0 2.2 .1-2.9 0-1.9 .1 1.5 0-3 .1 2.1 0 .9 .1 .7 0-.8 .1-1.5 0 .4 .1-.7 0 1.4 .1-1.2 0-.7 .1 2.2 0 2.4 .1-6 0 1.9 .1 1.6 0-1.4 .1 1.1 0-97.1 .1 5.1 0 5.9 .1-.1 0 3.5 .1 .3 0 5.2 .1 1.2 .1 2.8 0 2.8 .1 3.6 0-3.6 .1 3.4 0 3.3 .1-.2 0 2.6 .1 1.9 0-1.3 .1-1.2 0 3.6 .1 2.9 0-.5 .1-3.9 0 5.8 .1-3.7 0 3 .1-1.6 0 1.9 .1 3 0-2 .1-4.6 0 4.6 .1-.9 0 2.5 .1-.5 0-.5 .1 0 0-3.6 .1 4.5 0 .9 .1 1.1 .1 1.4 0 1.1 .1-3.8 0 5.3 .1-6.1 0 1 .1 2.4 0 2 .1-1.3 0 .5 .1-2 0 4 .1-.3 0-.4 .1 0 0 .9 .1 2.4 0-.1 .1-1.3 0-1 .1-1.9 0-2 .1 1.4 0 2.5 .1-2.9 0 3.9 .1 1 0-5.5 .1 6.8 0-1.3 .1-.3 0-2.6 .1 3.7 .1-3.1 0 2.3 .1 1.7 0-2.6 .1 .4 0 3.2 .1-.3 0-.3 .1-3.5 0 1.1 .1 .6 0-.2 .1 1.9 0-2.2 .1 2.3 0 1.6 .1-.9 0-1.4 .1 .6 0-2 .1 5.6 0-2.4 .1-.9 0 2 .1-1.8 0 1.3 .1 1.8 0-4.2 .1 4.6 0-4.8 .1 2.4 .1 1.5 0-.1 .1 0 0 .2 .1-2.8 0 4.1 .1-5.9 0 1.2 .1-1 0 4.8 .1 2.6 0-3.1 .1-1.2 0-.6 .1 1.4 0-1.2 .1-.5 0 4 .1-6.5 0 6.4 .1-2.9 0-1.4 .1 3.8 0-1.4 .1-3 0 4.2 .1-2.3 0 1.5 .1 .4 0-.3 .1 2 0 .1 .1-2.5 .1 1.4 0-.2 .1 3.4 0-2.6 .1-2.1 0 .4 .1 1.7 0 1.9 .1 .7 0-2.1 .1-1.9 0 2.5 .1-2.4 0 3.2 .1-2.3 0 4.5 .1-2.3 0 2.3 .1-3.3 0 .2 .1 3.3 0-.7 .1-.3 0 1.9 .1-1.1 0 0 .1-3.2 0-1.1 .1 3.8 0-.4 .1-.6 0 1.6 .1-.3 .1-2.1 0 1.3 .1 .9 0 .8 .1-4.2 0 3.9 .1-1.5 0 2.4 .1-.9 0-1.4 .1 1 0-1.8 .1 .8 0 3 .1 1.8 0-6.4 .1 3.5 0-4.1 .1 3 0 1.5 .1-2.5 0 1.8 .1-.6 0 1.6 .1-2.8 0-1.3 .1 3.3 0-4.9 .1 5.2 0-1.1 .1 4 .1 .5 0-7.8 .1 1.5 0 .7 .1 5.7 0-3.9 .1-.2 0 .8 .1-.5 0 2.5 .1-1.7 0 1.8 .1-1.6 0-1 .1 2.2 0-.5 .1 .4 0-.7 .1-2.1 0 1.9 .1-.1 0 3.7 .1-2.1 0-2.5 .1 3.3 0-.7 .1 .7 0-4.4 .1 3.9 0 .7 .1-2.3 0-1 .1 1.3 .1-.9 0 1.7 .1 .8 0 1.2 .1 .3 0 .2 .1-1.6 0 .7 .1-.2 0-.9 .1 1.2 0 2.5 .1-1.5 0 .4 .1 1.7 0-4 .1 2.9 0-.2 .1-.2 0-3.6 .1 2.5 0-2.7 .1 2.5 0 .6 .1-1.6 0 .1 .1 .7 0 2.3 .1-1.3 0 1.4 .1-2.1 .1-.6 0-2.9 .1 .4 0 1.3 .1-.1 0 1.4 .1-4.8 0 2.5 .1-2 0 4.8 .1-.1 0-1.2 .1 2 0-.5 .1 2.3 0-3.6 .1 1.4 0-.9 .1 1.7 0 3 .1-4.6 0-1.1 .1 4.6 0-.8 .1-.8 0-.6 .1 2.7 0-6.9 .1 1.5 0 3.3 .1 2.4 0-4.2 .1-3 .1 2.1 0-.7 .1 4.2 0-2.2 .1 3.2 0-6.7 .1 2.5 0 5 .1-.6 0-4.9 .1 1 0 1.1 .1-1.2 0-2.9 .1 3.6 0 4.4 .1-3.5 0 2.8 .1-.6 0-2.4 .1 1 0 1.7 .1-1.7 0 1.9 .1-2.8 0 1.7 .1-1.1 0 1.3 .1-2 0 2 .1-.5 0 1.5 .1-1.3 .1 3.8 0-8.7 .1 6.6 0-1.4 .1 .8 0 .4 .1-1.9 0 1.9 .1-.3 0 2 .1-.9 0 .4 .1-5.9 0 6.2 .1-.9 0-3.1 .1-2.2 0 6.1 .1-.3 0-3.2 .1-.2 0 3.1 .1 1.2 0-1.7 .1-3.5 0 1.6 .1-1.4 0 1.6 .1-.2 0-1.3 .1 1.1 .1-.6 0 2.2 .1-.1 0-2.5 .1 1.5 0 1.1 .1-2.4 0 0 .1 1.3 0 1.7 .1-3.2 0-3.2 .1 6.3 0 1 .1-1.5 0 .6 .1 .6 0-.2 .1-3.7 0-.1 .1-1.3 0 1.2 .1 2.1 0-2.8 .1 3.4 0-.4 .1 2.1 0-4.8 .1 .7 0 2.5 .1-.3 0-.7 .1-.1 .1-1.2 0 1.7 .1-.8 0 4.1 .1-2 0 2.6 .1-7.2 0 .8 .1 1.2 0-.6 .1-1.8 0 2.2 .1 5.4 0-2.3 .1 4.7 0-3.2 .1 1 0-2.6 .1-1.2 0 2.4 .1-1.5 0-1 .1 1 0 0 .1 4.5 0-4.1 .1-2.3 0 1.1 .1 2.8 0-2.4 .1-.2 0 2.6 .1-3.3 .1 3.2 0-1.1 .1-.6 0-4.4 .1 4.9 0 .5 .1-2.7 0 2.4 .1-1.2 0 4.9 .1-5.2 0 1.1 .1 2.9 0-5.1 .1 3.4 0-.4 .1 2.4 0 1 .1-2 0 1.7 .1-3.8 0-.9 .1 2.7 0 1.7 .1-2 0 1.2 .1-2.6 0 .4 .1 1 0-1.2 .1-2.2 .1-1.2 0 4.1 .1-2.7 0 1.7 .1 2.1 0-4.7 .1 1.6 0 .3 .1-.2 0 1.7 .1 1.4 0-5.8 .1 2.1 0 1.6 .1-1.2 0-.7 .1 3.4 0-1.2 .1 1.3 0-2 .1 2.2 0-5.4 .1 5.8 0-1.7 .1 .4 0 1.4 .1-2.3 0 2.3 .1 .9 0-1.1 .1 1.3 0-4.3 .1 1.3 .1-1.1 0 4.2 .1-3 0 2.2 .1-2.3 0-2.4 .1 2.2 0 46.6 .1-3 0 .1 .1-1.9 0 7.4 .1-4.6 0 1.2 .1 .4 0-1.9 .1 2.5 0 2.2 .1-2.6 0-1.4 .1-4.3 0 5.1 .1 .7 0 1.4 .1-3.2 0-.5 .1-.8 0 3.1 .1-1.6 0 2.8 .1-5.2 .1 3.3 0 1.8 .1-7.8 0 1.2 .1 .5 0-.5 .1 2.5 0-4.4 .1 4.6 0-6 .1 3.1 0 3.8 .1-5.4 0-2.6 .1 4.3 0-2.5 .1 2.9 0 .9 .1 3.7 0-7.3 .1 3.1 0-1.9 .1 2.9 0 0 .1-3.7 0 2.7 .1 .4 0 1.6 .1-3.3 0-1.5 .1 2.8 0-.6 .1 2.4 .1-5.7 0 4.1 .1-1 0-3.6 .1 3.7 0 2.6 .1-1.3 0-1.3 .1-4.6 0 3.2 .1 1 0-2.3 .1-.6 0 3.9 .1-4.4 0 .6 .1 .5 0 5.6 .1-5 0-2.4 .1 3.6 0-4.6 .1 4 0 2.1 .1-3.9 0 .7 .1-1.4 0 2 .1-3 0 3.4 .1-1.2 0 2.6 .1-1 .1-1.6 0 1.8 .1-.3 0-.8 .1-1.2 0-1.1 .1-.1 0-.4 .1 1.6 0 1.4 .1 2.2 0-2.7 .1 .5 0 1.7 .1-6.8 0 6.9 .1-4.3 0-.6 .1 1.3 0-5.6 .1 4.7 0 1.9 .1-5.2 0 5 .1 1.3 0-1.1 .1-1 0-1.5 .1-.2 0 3.9 .1-3.6 .1-3.7 0 6 .1-.7 0-1.8 .1-1.3 0 3.5 .1 .8 0 0 .1-4.5 0 .6 .1 6.2 0 0 .1-1.6 0 .3 .1-3.3 0 .2 .1-3 0 2.3 .1 1.2 0-2.3 .1 4.2 0 1.1 .1-3.3 0-1.9 .1 5.1 0-5.3 .1-.1 0 2.4 .1-1.3 0 .7 .1-.4 0-1.3 .1 3.3 .1-3.6 0 .3 .1 .1 0 5.5 .1-.1 0-4.9 .1 2.3 0 .3 .1 0 0 1 .1-2.1 0 .8 .1 .3 0-2.4 .1 3.5 0-4.8 .1 6.4 0-9.3 .1 7.5 0-4.1 .1-.2 0 1.7 .1-1.4 0 1.4 .1 3.3 0-4 .1-1.4 0 3.3 .1 2.6 0-2.5 .1-1.8 0-.3 .1-1.7 .1 .5 0 .3 .1 5 0-8.7 .1 4.3 0-1.5 .1 2.4 0-.5 .1-.5 0-3.1 .1 .1 0 2.3 .1-3.1 0 4.7 .1-1.9 0 2.1 .1-3.2 0 2.3 .1-1.8 0-1.5 .1 7.4 0-8.5 .1 3.6 0 1.7 .1 3 0-2.7 .1 4 0-5.1 .1 .9 0-4.2 .1 4.4 .1-3 0 0 .1-1.3 0 4.9 .1-2 0 4.2 .1-1 0-1.5 .1-.8 0 2.2 .1-2.1 0-2 .1 2.4 0-.4 .1 1.7 0-4.3 .1-.6 0 3.1 .1 .9 0-3.6 .1 2.1 0 2.6 .1 1 0-1.8 .1-6.2 0 5.9 .1-7.1 0 5.9 .1 .3 0-2.9 .1 3.1 0-1.2 .1 2.6 .1 .3 0-1 .1-1.9 0 1.4 .1 2.4 0-5.2 .1 1.5 0-.2 .1 .5 0 3.7 .1-7.5 0 4.1 .1-1.8 0-1.7 .1 .5 0 2.1 .1 .9 0-.7 .1-1.5 0 .1 .1 2.2 0-1.9 .1 .3 0-.8 .1 1.2 0-2.2 .1 2.4 0-1.3 .1 1.8 0 1.2 .1 .8 .1-1.8 0-1.4 .1-1.5 0 2.1 .1 .2 0-.2 .1-3.3 0 2.6 .1 1.5 0-2.6 .1 4.2 0-2.8 .1 .4 0 .6 .1 1.9 0-4.4 .1-1.4 0 6.5 .1-2.8 0-1.1 .1-3 0 5.7 .1 1.2 0-2 .1-4 0 3.8 .1-.3 0-3 .1 8.3 0 .1 .1-6.3 0-.2 .1 4.4 .1-4.1 0 1.2 .1-.5 0 1.9 .1-.7 0 .6 .1-1.9 0 .5 .1-3.9 0 1.8 .1 4.2 0-3.9 .1-2.1 0 1.9 .1-1.7 0 2.4 .1-2 0 3.4 .1-3.9 0 4.3 .1-5.4 0 5.9 .1 1.2 0-5.7 .1 1.1 0-.3 .1-1.2 0 .9 .1 1.7 0-2.5 .1 0 0-.3 .1-2.9 .1 5.3 0-1.6 .1-.8 0 1.9 .1 1.6 0-1.3 .1-3.5 0 2.7 .1-1.4 0 2.8 .1-2 0 2.1 .1 .2 0-2.1 .1 .2 0-2.6 .1 6.2 0-4.6 .1-1.9 0 .3 .1 3.7 0 .6 .1-.6 0-1.8 .1 .1 0 0 .1-.2 0 3.3 .1-.1 0 0 .1 .2 .1-2.7 0-.7 .1-4.9 0 4 .1 1 0-2.7 .1 4.1 0-2.4 .1-1.3 0 0 .1 .7 0 1.6 .1 1.8 0-1.9 .1 .7 0-2 .1 1.7 0-1 .1 4.4 0-5.5 .1 3.7 0 1.5 .1-.4 0-1.5 .1-3.5 0 1 .1 3.6 0-2.7 .1 .2 0 2.8 .1-1.3 0 2.5 .1-2.4 .1 3.6 0-3.1 .1 .3 0-.2 .1-.1 0-4.4 .1 3 0-1.7 .1-1 0-.5 .1 .6 0 2.6 .1 .5 0-.7 .1-.3 0-1.2 .1 .1 0-2.6 .1 2.7 0-3.5 .1 1.5 0 3.2 .1-2.6 0 7.3 .1-8.1 0 1.9 .1-.1 0 4.1 .1-8.6 0 6 .1-.2 0-2 .1 2.7 .1 1.3 0-3 .1 3.2 0-3.9 .1 1.7 0-2 .1 4.5 0-5 .1 1.8 0-3.3 .1 5.2 0-5.2 .1 2.6 0-.5 .1 2.8 0-2.9 .1-.4 0 3 .1 .5 0-.7 .1-4.4 0 1.9 .1-1.7 0 .9 .1 .3 0-.4 .1 1.4 0-3.3 .1 2.2 0-.6 .1 3 .1-3.6 0 2.3 .1 .3 0-3.3 .1 4.2 0-1.9 .1-2.1 0-.8 .1 3.8 0-1.2 .1-.4 0 2.6 .1 2.3 0-.7 .1-5.4 0 1.3 .1 3.3 0-1.8 .1-.7 0-.3 .1-.7 0-4.7 .1 6.1 0-1.6 .1-97.5 0 8.1 .1 3.8 0 1.3 .1 3.7 0 .6 .1 2.9 0 4.8 .1-3.8 .1 8.1 0-1.5 .1-1.8 0 7.4 .1-3.2 0 1.1 .1 3.1 0 5.5 .1-6 0 4.1 .1 2.3 0-2.8 .1 4.5 0-3.3 .1 4 0-1.5 .1 3.6 0-.9 .1 1.5 0-.3 .1-1.8 0 1.2 .1-.5 0-2 .1 3.1 0 3.8 .1-3.1 0-.5 .1-1.8 0 .4 .1 .6 .1 2.8 0-1.1 .1 4.1 0-5 .1 2 0 .3 .1 2.4 0-.4 .1 1.7 0-2.4 .1 4 0-4.5 .1 .9 0-2.5 .1 4.6 0 .2 .1-.4 0 .6 .1 .6 0 1.9 .1 .3 0-.7 .1 .1 0 1.5 .1 .3 0-1.9 .1-2.3 0 2.3 .1-2 0-.7 .1 .4 0 2.2 .1 .1 .1 2.7 0-2 .1-2.2 0 3 .1-5 0 .1 .1 3.8 0-2.3 .1 4.7 0-.2 .1-1.5 0-.3 .1 .1 0 1.3 .1-5.8 0 3.7 .1-.1 0-.2 .1 1.3 0 1 .1 1 0 2.3 .1-6.4 0 5 .1 1.5 0-1.5 .1 1.4 0-7.3 .1 3.7 0-1.8 .1-.4 0 1.6 .1 .2 .1 3 0-1.9 .1 1.1 0-1.8 .1 1.8 0-3.8 .1 1.3 0 2.1 .1 3 0-4.9 .1-.3 0 2.2 .1 2.5 0-3.1 .1-.9 0 6.8 .1-4.7 0 4.9 .1-3.6 0-3 .1 3.4 0-.4 .1 1.9 0-.1 .1-4.6 0 1.8 .1 3.8 0 .4 .1-.2 0-4.3 .1 4.4 .1-2 0 3 .1 2.4 0-5 .1 3.2 0 1.4 .1-.2 0-.2 .1-.2 0 1.4 .1-5.4 0 2.3 .1-1.2 0 2.8 .1-1.2 0 .4 .1-1.8 0 .5 .1 1.2 0 2.1 .1 1 0-.6 .1-.2 0 0 .1 1.4 0-5.7 .1 2.6 0 4.5 .1-1.9 0 .4 .1-3.1 0-1.6 .1 4.4 .1-3.2 0 2 .1-2.8 0-.4 .1 2.2 0-.6 .1 1.6 0 1 .1 1.6 0-3.1 .1 .9 0 .4 .1-.3 0 0 .1 1.8 0-1.4 .1-3.1 0 2.9 .1-3.3 0 5.4 .1 1 0-3 .1-1.2 0 3.2 .1-2.5 0-.1 .1-.5 0 2.2 .1 0 0 3.2 .1-3.4 0-.7 .1-2.4 .1 5.1 0-.4 .1 .1 0-3.4 .1 7 0-3.1 .1-6.4 0 3.3 .1 3.8 0-2.7 .1-1.3 0 .7 .1 .9 0 1.1 .1-3.2 0 1.5 .1-1.9 0 1.1 .1 1.8 0-3.5 .1 3.6 0-1.9 .1 1.6 0-.5 .1-.2 0 1.6 .1-1.7 0-2.4 .1-.8 0 1.2 .1 3.6 .1-3.3 0 1.8 .1-2.6 0 6.4 .1-5.4 0 3.6 .1-3.1 0 3.2 .1-2.8 0 2.5 .1 3.2 0-2.1 .1-1.4 0-.5 .1 4.8 0-1.8 .1-.6 0-1.1 .1-.5 0 1.9 .1 1.2 0-3.6 .1 1 0-2.9 .1 3.5 0-2.1 .1 3.3 0-2.4 .1 .6 0-1 .1 3.3 0-1.6 .1 2 .1-1.4 0-1.5 .1-4.3 0 5.5 .1-1 0 1.2 .1-1.9 0 1.3 .1-1.1 0 1.3 .1-4.1 0 1.8 .1 6.4 0-3.8 .1 .6 0 5.2 .1-3.6 0-1.1 .1 .7 0-2 .1 4.1 0-5.3 .1-.1 0 .6 .1 1.2 0-.6 .1 .7 0-3.5 .1 1.5 0-3 .1 4.8 .1-4.1 0 3.9 .1-.6 0 2 .1-2.9 0 1.3 .1-1 0-1.7 .1 3.1 0-1.3 .1-.4 0 2.2 .1 1.1 0-1.7 .1-.2 0 0 .1-.3 0 3.1 .1-1.9 0-1.8 .1 3.3 0-1.7 .1 2.5 0-1.5 .1-3 0 3.5 .1 2.6 0-2.9 .1 .3 0-2 .1 4.7 0-1.3 .1-1.6 .1 3 0-5.3 .1 6.1 0-2 .1 1 0-1.3 .1-3 0 .2 .1-.1 0 1 .1 5.3 0-4.5 .1 4.4 0-2.5 .1-.3 0 .1 .1-2.1 0 2.8 .1-4.9 0 2.5 .1-1.5 0 1 .1 0 0 2.1 .1-3.7 0 6 .1-3 0 1.1 .1-.1 0-.7 .1 1.9 0-3.3 .1 .1 .1 1.2 0-1.4 .1 3 0 1.7 .1-2.4 0-.8 .1-5.5 0 5.4 .1-2.1 0 0 .1-2.8 0 4 .1-.9 0 1.7 .1 1.3 0 0 .1-.5 0-4.3 .1 2.2 0 .8 .1 0 0 .9 .1-.8 0 .3 .1-1.3 0-.5 .1 5 0-3.2 .1-2.7 0 4.9 .1-1.4 .1-.9 0-1 .1 .4 0 1.9 .1-1.5 0-.8 .1 1.3 0-2.9 .1 2.9 0 2.9 .1-.7 0-1.2 .1 .4 0-1.7 .1 .5 0-2.7 .1 1.8 0-1.1 .1 4.6 0-.7 .1-2.3 0 .9 .1-1 0 .9 .1 1.8 0-4.7 .1 .7 0 5.7 .1-2 0-1.3 .1-1.7 0 1.4 .1 2.8 .1-4.6 0 2.6 .1-2.5 0 1.4 .1-1.2 0 .6 .1 0 0 2.6 .1-3.3 0 1.5 .1 2.7 0-1.7 .1-.1 0-1.3 .1-.4 0 3.7 .1-3.8 0 2 .1 1.9 0-3.8 .1 2.8 0 1.6 .1-3.7 0-.2 .1 2.9 0-3.4 .1-.5 0 2.8 .1-5 0 3.6 .1-.8 0 4.8 .1-5.7 .1 2.8 0-2 .1 4.1 0-5.8 .1-.4 0-.9 .1 9.6 0-6.8 .1 .9 0 6.2 .1-4.6 0-1 .1-2.5 0 4 .1-2.2 0 .7 .1-.5 0 1.6 .1-2.1 0 .1 .1 5 0-4.9 .1 3.8 0-.8 .1-2.7 0 1.9 .1-1.3 0-.5 .1 .7 0 2.2 .1 .9 .1-3.3 0-.3 .1 .9 0 1.2 .1-1.7 0 1.7 .1 2.5 0-2.9 .1 46.9 0-1.2 .1 2.7 0-.2 .1-2.5 0 1 .1-.9 0-1.9 .1 .9 0-2.8 .1 2.8 0-2.7 .1 1.3 0-2.7 .1 4.5 0 0 .1-2.9 0 3.8 .1 .1 0-2.2 .1-.4 0 3.3 .1-3.6 0 .8 .1-1 .1-.8 0 1.3 .1-2.6 0 1 .1 1.4 0-.4 .1-2.4 0 .1 .1-1 0 2.8 .1-.6 0-4.2 .1 4.1 0-3.6 .1 1.6 0 2.5 .1 1.7 0-4.3 .1 2.1 0 .1 .1 1.9 0-5.9 .1 1.6 0 .4 .1-.7 0 .2 .1-.2 0-1.2 .1 1.6 0 4.2 .1-6.4 .1 .1 0 1.1 .1-3.4 0 5.6 .1 2.8 0-8.3 .1 1.7 0 4.1 .1-2.5 0-2.3 .1 3.7 0-3.4 .1-2.8 0 1.6 .1 2.8 0-.9 .1 2.8 0-2.2 .1 .7 0 .9 .1 .9 0-6.1 .1 2.9 0 2.2 .1-1.5 0-3.8 .1-.3 0 4.5 .1-1.3 0-1.4 .1 2.2 0 1.7 .1-.2 .1-2 0 1.7 .1 .7 0-2.2 .1-2.5 0 .4 .1 2 0-4 .1 5.6 0-1.6 .1 3 0-3.8 .1 1.7 0 3.2 .1-1 0-5.3 .1 2.5 0 1.6 .1-1.7 0 5 .1-1.6 0 .8 .1-.8 0-1.2 .1-1.8 0-1.1 .1 .2 0-2.8 .1 6.4 0-.9 .1-1 0 2.4 .1-1.3 .1-1.5 0 2.3 .1-3 0-1.8 .1 4.4 0 1.5 .1-4.6 0 2.1 .1-2.3 0 .9 .1-1.5 0-1.9 .1 .5 0 2.4 .1 1.3 0 2.8 .1-.7 0-2.8 .1-2.2 0 1.1 .1-.3 0 1.8 .1-.2 0-.1 .1-4.8 0 5 .1-4.9 0 2.9 .1-2.8 0 .9 .1-.8 .1-1.1 0 4.1 .1 .1 0-1.2 .1 .4 0-2.8 .1 1.6 0 .1 .1-.8 0 1.6 .1-3.2 0 6.2 .1-3.7 0-.4 .1 2.4 0 .1 .1-2.9 0 2.4 .1 3.4 0-1.2 .1-5.1 0 3.7 .1-4.3 0-.1 .1 2.9 0-1.4 .1 3 0-1 .1 1.2 0-2.5 .1 3.8 0-2.6 .1-.6 .1-.8 0 5.2 .1-.3 0-1.9 .1-1.5 0-1.1 .1-.3 0-4 .1 2.7 0 .1 .1 1.7 0-2.5 .1 0 0 .3 .1 1.7 0-1.5 .1-1.4 0 4.2 .1 2.4 0-5.9 .1-.1 0 1.9 .1 .2 0-6.1 .1 6.4 0 1.1 .1-1.4 0-2.1 .1 1.9 0-.5 .1-1 0 1.6 .1-1.1 .1-.1 0 2.3 .1-1.8 0 2.2 .1-3.5 0 3.7 .1-1.3 0 3.1 .1-2.8 0 1.9 .1-5.2 0 3.4 .1-1.5 0 4.5 .1-.9 0-2 .1 2.2 0-4.8 .1 2.9 0-1.5 .1-.2 0 .6 .1-1.9 0 2.9 .1-2.2 0-1.5 .1 1.6 0 .1 .1 1.4 0-.9 .1-1.4 .1 1.3 0 2.7 .1-3.9 0 .1 .1-1.2 0 .5 .1-2.8 0 5.6 .1-.5 0-3.4 .1 3 0-3 .1 .5 0 3.7 .1-5.1 0-1.3 .1 2.4 0 3.1 .1-4.3 0 3.5 .1-1.7 0-1.1 .1 1.8 0 1.7 .1-3.1 0-.1 .1 1.5 0 0 .1-3.2 0 1.6 .1 .9 0-.1 .1-2.1 .1 .3 0 .5 .1 2.8 0-1.4 .1 .7 0-1.1 .1-1.9 0 .2 .1 .5 0 1 .1 .9 0-1.2 .1 1.9 0-.5 .1 .9 0-1.6 .1-.2 0-3.7 .1 2.6 0 1.8 .1-1.5 0 2.4 .1-2.8 0 .7 .1-3.9 0 7.1 .1-2.1 0-.3 .1-1.1 0-1.3 .1 3.4 .1-.7 0-1.8 .1-1.4 0 4.3 .1 .9 0-5 .1 .2 0-.6 .1 4.7 0-1.6 .1-.8 0-.3 .1 .8 0-.4 .1-2.7 0 2.8 .1 .3 0-.1 .1 .6 0-1 .1 .7 0 .4 .1-3.6 0 2.4 .1 1 0-3 .1 3.6 0-1 .1 0 0 .6 .1-.7 0-.6 .1 2.8 .1-2.2 0-1.4 .1 0 0-.6 .1-3.6 0 3.6 .1 1.8 0-.1 .1-.5 0-.9 .1 1.1 0-3.1 .1 4.7 0-2.8 .1 .3 0 3.1 .1-3.4 0 .1 .1 1.8 0-5.5 .1 2.7 0 2.3 .1 .3 0 .4 .1-1.9 0 .4 .1 3 0-.5 .1-.3 0-.6 .1 0 0 .2 .1-2.7 .1-.6 0 1.4 .1 4.3 0-4 .1-1 0 .7 .1-.6 0 .4 .1 2.9 0 1.9 .1-5.4 0 1.8 .1-2.1 0 1.4 .1-.6 0-2.9 .1 5 0-2.3 .1 2 0-2.4 .1-.7 0-.5 .1 1 0 2.8 .1-2.9 0-.9 .1-.4 0-2.3 .1 2.7 0 2.7 .1-.8 .1-1.4 0-1.9 .1 4.2 0-3.9 .1 .2 0 3.5 .1-2.5 0 2.8 .1-1.4 0 .9 .1-1.3 0 2 .1-3.2 0 5.2 .1-3.8 0 .4 .1-4.1 0 1.9 .1 2.2 0 .8 .1-1.4 0 1.5 .1-4.8 0 9.3 .1-5.7 0 4.9 .1-6.5 0 3.7 .1-4.8 0 4.2 .1-3.6 0 1.5 .1-2.2 .1 2.7 0 5.5 .1-4.4 0 1.9 .1-5 0 .9 .1 1.4 0-.9 .1 .5 0 1.8 .1-5.5 0 2.8 .1 .7 0 2.2 .1-2.2 0-.9 .1 .4 0 .4 .1-.8 0 1.5 .1-2.1 0 2.6 .1-1.4 0-.1 .1-3 0 .4 .1 .6 0 2.5 .1-1.7 0-2 .1-1.3 0 4.7 .1-2.1 .1-1.4 0-.9 .1 .8 0-1.2 .1 3.7 0-5.6 .1 5.5 0-2.3 .1-.8 0-1.2 .1 .1 0 0 .1-1 0 3 .1-1.3 0-1.4 .1 4.3 0 1.2 .1-.9 0-4.4 .1 .5 0 2.8 .1-.8 0-87.2 .1 4.6 0 8.4 .1 .5 0 2.1 .1 1.4 0 2.7 .1 2.4 .1 .3 0 6.7 .1-9.3 0 5.7 .1 1.6 0 4.6 .1-.9 0-2.4 .1 .9 0 4.1 .1 3.3 0-2 .1 1.8 0-1.7 .1 4.8 0-1.3 .1-.4 0 2.1 .1-2.2 0 4.7 .1 .5 0-1.3 .1-1.9 0 2.3 .1 1 0-2.3 .1 1.5 0 1.8 .1-.5 0 .4 .1-1.3 0 1.5 .1 2.4 .1-.4 0-.1 .1-1.3 0 .1 .1 2.4 0-.9 .1-.6 0-1.6 .1 1.6 0-3.6 .1 4.1 0-1.2 .1 2.5 0 1.6 .1-2.1 0-.5 .1 .3 0 .4 .1 1 0 .9 .1-1 0-1 .1-1 0 7.9 .1-7.5 0-.2 .1-.4 0 2 .1-.6 0 2 .1-.3 .1-1.3 0 3.4 .1-.3 0-1.4 .1 2.8 0-2.5 .1 2.7 0-3.3 .1 .4 0 1.2 .1 .9 0-.3 .1 3.5 0-3.3 .1-1.1 0-2.1 .1 3.5 0-.4 .1-2.9 0-.8 .1 4.2 0-2.7 .1 .2 0 1.7 .1 2.4 0-.2 .1-2.5 0-3.1 .1 4.6 0-3.3 .1-.2 0 6.5 .1-1.2 .1-3.7 0 1.3 .1 1 0 1.1 .1-1.2 0 2.4 .1-5.6 0 7.1 .1 1.2 0-3.4 .1-2.4 0 3.7 .1-.3 0 1.8 .1-2 0 1.7 .1 .7 0 1.4 .1-1.8 0-5.2 .1 3.8 0-.3 .1-4.1 0 5.3 .1 .9 0-2.9 .1 3.8 0-3 .1-1.6 0 4.3 .1-.7 0-3.9 .1 5.2 .1-.5 0-2.1 .1 1.1 0 1.6 .1-4.6 0 4.3 .1-1.6 0 1.6 .1-.4 0 2.1 .1-4.4 0 2.7 .1-3.1 0 4.8 .1-1 0-1.6 .1 .6 0 1.4 .1-1.2 0 2.5 .1-2.7 0 5.1 .1-5.5 0-2.2 .1 1.1 0 .6 .1 2.7 0-1.4 .1 1.2 0-.6 .1 .1 .1 6.5 0-8.4 .1 .8 0-.8 .1 3.6 0-2.6 .1 .7 0 5.2 .1-1.3 0-3.7 .1 1.6 0-1.1 .1 1.2 0-4 .1 6.8 0-.9 .1-.7 0 .3 .1-1.8 0-1.3 .1 2.2 0-3 .1-1.3 0 .4 .1-2 0 1.8 .1 2.3 0-3.6 .1 2.2 0-2.2 .1 4 0 3.2 .1-1.7 .1-2.2 0-.6 .1 1.5 0-2.5 .1 4 0-.9 .1-3.1 0 2 .1 .3 0-2.2 .1 .9 0 3.7 .1-1.8 0 3.6 .1-3.5 0-.6 .1 4.3 0-6.4 .1-.5 0 2.9 .1-.7 0-1.1 .1 3.3 0-1.7 .1 1.4 0 4.1 .1-1.3 0-.5 .1-2.5 0 2.1 .1-1.6 0 3 .1 1.3 .1-6.6 0-1 .1 4.2 0 1.4 .1-2.4 0 4.4 .1-1.6 0 2.1 .1-3.7 0 .9 .1 1.1 0 .6 .1 1.7 0-1.2 .1-4.2 0 2.9 .1-3.3 0 3.9 .1-1.2 0 .4 .1-.4 0-2 .1 5.3 0-5.5 .1 .1 0 1.5 .1-.3 0 1 .1-1.8 0 1.2 .1 1.5 .1-2.2 0-1.1 .1 1.1 0 .6 .1 .1 0 1.3 .1 .1 0 2.4 .1-3.2 0-2.2 .1 2.9 0 .9 .1-3.5 0 1.7 .1-.6 0-.6 .1-.1 0 1.4 .1 1.5 0-5.1 .1 3.5 0 1.5 .1-1.9 0-1.7 .1 5.4 0-4.9 .1 2.7 0-4.3 .1 2.4 0 1.2 .1-2.4 0-.4 .1 3.7 .1-1.1 0 .9 .1-3 0 4.6 .1-2.2 0 3.6 .1-5.1 0 5.5 .1-2.3 0-2.4 .1 1.7 0 .9 .1 1 0-1.2 .1 2.4 0-4.2 .1-1.1 0 .1 .1 1.7 0-2.3 .1 1.4 0-1.2 .1 1.1 0 1 .1 1.3 0 3.5 .1-5.8 0 1.8 .1-4.3 0 7.6 .1-5.4 .1 3.9 0-2 .1 1.3 0-2.4 .1 .6 0-2.2 .1 1.2 0-.4 .1-1.7 0 1.5 .1 1.2 0-2.3 .1 2.4 0-.5 .1 1.5 0 .9 .1 4.3 0-6.5 .1 3.5 0-3.4 .1-1.5 0 5.9 .1-3.7 0 1.8 .1-.9 0 3 .1-2 0 .5 .1-2.3 0-1.4 .1 3.4 0 1.4 .1-5.2 .1 4.7 0 0 .1 0 0-.6 .1-.8 0 2.2 .1-.3 0-4.1 .1 1.1 0 1.9 .1 0 0 1 .1-2.8 0 2.6 .1-1.5 0 1.4 .1 .2 0-1 .1 .4 0 .9 .1-1.1 0-.3 .1 1.1 0 .1 .1-.8 0-1.8 .1-.8 0 1.3 .1 .8 0-.4 .1-3.9 0 1.5 .1 3.6 .1-1.8 0 .8 .1-.3 0 2.7 .1-2.8 0 2.8 .1-1.3 0-4.2 .1 1 0 3.3 .1-.4 0-.3 .1 2.2 0-1.8 .1-1.4 0 1.8 .1-3.6 0 1.7 .1 1 0-4.1 .1 2.3 0 1.2 .1-3 0 .7 .1 3.9 0-2.3 .1 1.5 0 2.3 .1-6.4 0 .4 .1 5 .1-3.4 0 3.9 .1-5.1 0 2.4 .1 .7 0-2.8 .1 2.3 0 .9 .1-2.2 0 2 .1-2.1 0 1.8 .1-1.8 0 .2 .1-.5 0 3.5 .1-5.7 0 4.2 .1-3.7 0 4.6 .1-.5 0-.3 .1-2.7 0 3.1 .1-1.5 0 4.1 .1-2.2 0-1.2 .1 .7 0 3.5 .1-4.6 0 2.8 .1-5.9 .1 4.2 0-4.5 .1 3.5 0 .4 .1 2.3 0-.5 .1-.9 0 4.5 .1-5.2 0 4 .1-1.4 0 4.4 .1-5.9 0-.2 .1 .8 0 .1 .1 1.2 0-1.1 .1-1.8 0 3.3 .1-1.5 0-.8 .1 1.9 0-1.2 .1 .2 0 1.6 .1-5.4 0 5.1 .1-4.5 0 .8 .1 5.9 0-4.5 .1-1.4 .1 .6 0 3.4 .1-2.4 0 2.9 .1-.4 0-1.8 .1-.6 0 38.5 .1 2.5 0-1.6 .1 4.3 0-.2 .1-1.6 0-4.1 .1 6.2 0 .1 .1-3 0-3 .1 5.6 0-2.7 .1 2.3 0-5.3 .1 1.7 0 .7 .1 .9 0 .1 .1-.6 0 1.7 .1 .4 0 .1 .1-2.4 .1 1.4 0-2.9 .1 5.3 0-5.1 .1 .1 0-1.6 .1 2.7 0 2.1 .1-1.7 0-3.9 .1 2.8 0 .1 .1 .1 0-1 .1 .2 0 2.4 .1-2.2 0-3.2 .1-.9 0 2.9 .1 1.1 0-3.7 .1 2.9 0 1.9 .1-1.3 0-2 .1-1.9 0 4.5 .1-2.4 0 1.5 .1-3 0 1.1 .1 .3 .1 2.4 0-1.1 .1 0 0 6.4 .1-8.9 0 1.8 .1 .3 0 .1 .1-.8 0-.2 .1 2.7 0-2.8 .1-.7 0 .1 .1 2.3 0-2.2 .1 1.6 0-2.7 .1-2.2 0 .2 .1 2.6 0 .3 .1 .1 0-1.1 .1 1.9 0-.2 .1 3.7 0-3.3 .1-.2 0-.3 .1-3.6 .1 5.2 0 .1 .1-3.7 0 3 .1-1.8 0-1 .1 .4 0 1.1 .1-2.8 0-1.2 .1 5 0-1.4 .1-2.4 0 2.5 .1 1.3 0-1 .1-2.8 0 3.2 .1-2.6 0-.3 .1 1.9 0-2.4 .1-.5 0-.6 .1 .2 0 4.3 .1-4.9 0 .7 .1-1.3 0 3.7 .1-3.2 0 1 .1 3.2 .1-5 0 3.7 .1 .2 0-2.7 .1 2.3 0-1.6 .1 1.1 0-.9 .1-.7 0 1.6 .1-1.7 0 .1 .1 3.3 0-3.6 .1 .7 0 .7 .1-2.2 0-.7 .1 2 0 4.4 .1-3.4 0 1.1 .1 .5 0-1.3 .1 1.5 0-3.7 .1 2.6 0 .7 .1-1.3 0-.2 .1-.8 0 1 .1 1.4 .1-.2 0 4.7 .1-1.3 0-4.7 .1 2.9 0-3.9 .1-.5 0 6.1 .1-2.4 0-5.3 .1 7.3 0-2.3 .1 1.2 0 0 .1-.2 0-.4 .1-1.5 0 2.7 .1-2.6 0 2.3 .1-2.7 0 .7 .1 1.8 0-1.8 .1 1.2 0 .1 .1-4.3 0 5.6 .1-4.4 0-.3 .1 2.4 .1-2.8 0 .3 .1 3.8 0-3.3 .1-.1 0 2.2 .1-2.9 0-.3 .1 2.7 0 2.8 .1-4.7 0 2.3 .1 1.7 0-2.5 .1 3.9 0-4 .1-3.3 0 8.2 .1-5.9 0 2.3 .1-.8 0 1 .1-3.2 0 1.3 .1 1.8 0 1 .1-2 0-2.7 .1 4.5 0-3.6 .1 .3 0 4.7 .1-6.1 .1 2.3 0-4.6 .1 1 0 3.9 .1 .3 0 1.5 .1 .5 0-4.1 .1 1.8 0 .6 .1-.2 0-1.1 .1-.5 0 1.5 .1 .4 0-.6 .1-4.1 0 8.1 .1-1.7 0-3 .1 .4 0-1.8 .1-.2 0-1.3 .1 5.3 0-2.7 .1 1.7 0-2.4 .1 1.5 0-1.8 .1 3.3 0-1.7 .1 1.2 .1-.4 0 .2 .1 1.2 0-4.7 .1 1.7 0-1.2 .1 4.2 0 1.8 .1-2.4 0-.8 .1-1.8 0-.8 .1-.3 0-.6 .1 1.4 0 1.3 .1 1.7 0-3 .1 2.2 0 .3 .1-2.8 0 .9 .1-1.7 0 2.7 .1-3.6 0 2 .1 1 0 .5 .1 .6 0 .3 .1-5.5 .1 5 0-4.3 .1 1.5 0 .5 .1-.3 0-.7 .1-1.8 0 .7 .1 .9 0 2.5 .1 .7 0-6.9 .1 5.5 0 1 .1-5 0 4.8 .1-4.1 0-.1 .1 1 0-2 .1 4.1 0-.2 .1-2.1 0-.2 .1 .3 0-.5 .1 2.3 0 2.3 .1-4.7 0 1.5 .1-2.1 0-2.3 .1 3.7 .1-.8 0 3 .1-3.1 0 .9 .1 .1 0-.9 .1 4 0-3.2 .1 .7 0-2.3 .1 6.3 0-2.9 .1-4.4 0 5 .1 .2 0-4.4 .1-1.4 0 4.6 .1 1.3 0 .2 .1-.5 0 .5 .1-.2 0-2.2 .1 .6 0-.7 .1 1 0 2.5 .1-3.8 0 .9 .1 1.4 .1-.5 0-1.1 .1-.2 0 .6 .1-1.7 0-1 .1 2.9 0-.4 .1 2.1 0-2 .1-1.8 0-1 .1 1.5 0 .3 .1 1.1 0-1.6 .1 2.6 0-2.6 .1-.1 0 1.5 .1-2.6 0 .7 .1-1.4 0 2.2 .1-1.6 0-2.2 .1 2.5 0-1.2 .1 2.9 0-.2 .1 3.2 0-3.7 .1 1.8 .1-2.4 0 4.4 .1-2.1 0-1.8 .1-.4 0 3.8 .1-2.5 0-5.6 .1 3.2 0 1.2 .1 5.3 0-3.5 .1-2.4 0 .2 .1-.9 0-1.1 .1 1.2 0-1.7 .1 4.7 0-8 .1 5.2 0 .2 .1-4.3 0 2.4 .1-.8 0 3 .1-1.6 0-.9 .1 3.4 0-1.5 .1 0 0-.1 .1 .3 .1 1.4 0-2.7 .1 .5 0-1.7 .1 2.2 0 1.5 .1 1.6 0-2.9 .1 .7 0-4.4 .1-.2 0 1.4 .1 4.8 0 1.3 .1-1.9 0 .9 .1-4.2 0 2.7 .1 .8 0-.8 .1-2.5 0 4 .1-2.7 0 3.7 .1-1.8 0 .6 .1-1.7 0 .5 .1-2.2 0 .9 .1 2.6 .1 1.4 0-.7 .1-.8 0-.4 .1 1.3 0-3.3 .1 0 0 2.4 .1 .3 0-.7 .1-.4 0-.2 .1 3.1 0-2.3 .1 3.1 0-3.7 .1-1.3 0 3.7 .1-2.5 0 1.4 .1-.4 0-5.4 .1 2.2 0 .5 .1 1.5 0-1.6 .1 .9 0-.9 .1 2.9 0-1.8 .1 .1 0 2.3 .1-6 .1 1.5 0 3.2 .1 .9 0-1.3 .1 .4 0-.5 .1 1.4 0-1.4 .1-1.9 0-.8 .1 4.6 0-4.1 .1 2.2 0 .3 .1-1.5 0 .2 .1-2.6 0 0 .1 1.8 0 .5 .1-4.8 0 0 .1 2.8 0 1.2 .1-83.3 0 3 .1 6.2 0-2.4 .1 5.9 0-.7 .1 4.9 0 .7 .1 2.4 .1 .6 0-1 .1 4.9 0 .2 .1-1 0 2.5 .1-4.2 0 8.1 .1-7 0 7 .1-2.2 0-.7 .1 2.3 0 3.8 .1-1.5 0-.8 .1-1 0 0 .1 .2 0-.1 .1 4.9 0-3.5 .1 5.5 0-3.9 .1 2.6 0 1.4 .1-4.6 0 1.8 .1-1.7 0 5.7 .1-.4 .1-1.8 0 1.5 .1-1.1 0 1.7 .1-.6 0 2.2 .1-4.7 0 3.4 .1 1.9 0-3.5 .1 .8 0 .5 .1-.1 0 1.3 .1-.2 0 4.3 .1-.9 0-.5 .1-2.7 0-2.1 .1 2.8 0 .4 .1-2.7 0 2.7 .1-2 0 .8 .1 3.5 0-3.2 .1 .5 0 2.8 .1-.4 0 1 .1-5 .1-1.3 0 3 .1-2 0 5.7 .1-5.3 0-.7 .1 .5 0 4.7 .1-3.8 0 2.5 .1-2.3 0 4 .1-1.3 0 .9 .1-1.8 0 1.3 .1-2.2 0 .6 .1 1.2 0 .7 .1 0 0-.8 .1-1.5 0 1.3 .1-.2 0 .9 .1 .2 0 1.7 .1 2.4 0-4.5 .1-.3 .1 3.5 0-5.9 .1 5.8 0-3.9 .1 1.8 0-.1 .1-1.4 0 1.1 .1 1.5 0 1.9 .1 .7 0-2.9 .1-3 0 1.5 .1 2.1 0-.7 .1-.7 0-2.6 .1 5.2 0-3.3 .1 1 0 1.7 .1 .7 0-4.3 .1 2.2 0 1.1 .1-.2 0-1.6 .1 1.7 0-3.3 .1 3.4 0 1.2 .1-1.6 .1 1.5 0-.8 .1-3.1 0-.9 .1 2.2 0 1.2 .1 2.1 0 .3 .1-2.8 0 1 .1 1.8 0 .2 .1-3.9 0 1.6 .1 2 0-.6 .1-2.1 0 1.8 .1 .4 0 3.4 .1 .2 0 .6 .1 1 0-4.8 .1-.2 0 3 .1-2.5 0-.4 .1 .8 0 3.1 .1-5.7 0 .1 .1 4.1 .1-4.9 0 3.8 .1 1.7 0-1.1 .1 2.8 0-2.8 .1 2.7 0-5.2 .1 2 0 3.3 .1-3.6 0 4.7 .1-3.5 0-.5 .1 .7 0 2.8 .1-2 0-.2 .1-.3 0-2.6 .1 0 0 .2 .1 4.2 0 .3 .1-1.5 0-.4 .1 5.1 0-3.2 .1-4.7 0 6.3 .1-1.4 .1-.4 0-2.5 .1 .6 0 .5 .1 2.3 0-4.2 .1 1.1 0 1.3 .1-1.1 0-1.6 .1 4.1 0 .4 .1-1.3 0 0 .1 4.1 0-4.5 .1-3.6 0 2.9 .1-2.5 0 7.4 .1-5.8 0-2.9 .1-.4 0 3.9 .1 .9 0-2.5 .1 3.1 0-1.6 .1 2.8 0-3.6 .1 0 0-3.1 .1 2.6 .1 1.8 0-1.1 .1 2.7 0-2.6 .1 .2 0-1.4 .1-.7 0 5.3 .1-4.3 0-1 .1 4.2 0-6.1 .1 5.2 0-5.9 .1 3.6 0-.2 .1 1.4 0-1.2 .1 4.3 0-.1 .1 2.4 0-5.1 .1 3 0-3 .1 .4 0 3.8 .1-3.9 0 .7 .1 0 0-.2 .1 1.4 0 0 .1-2.2 .1 3.9 0 .8 .1-.9 0-3.3 .1 2.5 0-4.9 .1 9.6 0-4.3 .1-.2 0-1.4 .1-1.8 0 2.8 .1 1.7 0-3.4 .1-1.4 0 8.3 .1-6.3 0 .7 .1 2.3 0-.6 .1-1.2 0 .9 .1 .6 0 1.9 .1-2.6 0 1.8 .1-1.6 0 1.2 .1-1.5 0-.5 .1 1.3 .1-.6 0 3.8 .1-3.9 0 .1 .1 1.4 0-.6 .1 4.9 0-5.4 .1 .9 0 3.5 .1-5.6 0 2.4 .1-1.8 0 1.1 .1-1.6 0 .4 .1 .5 0-1.8 .1-1 0 6.2 .1-4.7 0 1.1 .1 1 0-5 .1 1 0 3.6 .1 .5 0-3.8 .1 3.2 0-.4 .1 2.9 0-3.6 .1-2.5 .1 3.4 0-.8 .1-3.4 0 1.7 .1-1.2 0 2 .1-1 0 5.5 .1-2 0 1.7 .1-7.1 0 4.1 .1 .6 0 1.3 .1 .6 0 3.7 .1-10.2 0 5.3 .1-.1 0 3.2 .1-2.8 0-.9 .1 1.2 0-1.3 .1 2.5 0-2.9 .1-1.1 0 .8 .1 .3 0 1.1 .1 1.3 .1-3.2 0 2 .1 1.7 0-3.1 .1 4.6 0-2 .1-2.7 0-.5 .1 2.5 0-.7 .1-.9 0 1.1 .1 1.2 0-2.5 .1 .4 0 .4 .1-2.1 0 1.7 .1 1.9 0-.6 .1-3.4 0 5.1 .1-.2 0 1 .1-2.2 0 3.5 .1-3.3 0-.7 .1 2.8 0 .4 .1 1.3 0-2.7 .1 2.7 .1-.9 0-.6 .1 .4 0-3.3 .1-1.5 0 7.4 .1-2.6 0-2.2 .1 2.6 0-.9 .1-1.5 0-2.3 .1 .7 0 3.1 .1-1.1 0 1.3 .1-.4 0 1.7 .1 1.1 0-2.7 .1-2.5 0 .2 .1 5.5 0-3.2 .1 .7 0-1.7 .1 2.7 0-3.6 .1 2.5 0-1.9 .1-.5 0 5.5 .1-3.4 .1-3.5 0 2.9 .1-1.8 0 1.4 .1 1.6 0-1.7 .1-1.4 0-.5 .1-.1 0 5.2 .1-3.7 0 4.1 .1-2.5 0-.1 .1-1.8 0 .3 .1-1.7 0 3.3 .1-2.8 0 .9 .1 .4 0 2.5 .1-3.9 0 .7 .1-1.1 0 1.8 .1 .5 0-1.6 .1-.5 0-.2 .1-2.6 .1 4.6 0-5.5 .1 9.8 0-8 .1 3.5 0-5.5 .1 5.6 0-3.5 .1 4.4 0 .6 .1-4.1 0 .1 .1 3.5 0-6.5 .1 5.6 0-3.3 .1 5.4 0 0 .1-2.1 0 2 .1-2.8 0 5.5 .1-4.4 0 1.2 .1 1.2 0-2.2 .1 1.3 0 .3 .1-2.5 0 1.6 .1 0 0-1.9 .1 2.7 .1-2 0 2.4 .1-1.9 0 .1 .1 2 0 1.7 .1-.7 0-1.2 .1 39.4 0 1.2 .1 .2 0-1.4 .1-1 0-1.4 .1 3.3 0-2.6 .1-.5 0 3.2 .1-2.1 0 2 .1-1.5 0-2 .1 4.1 0-2.1 .1-.3 0-1.9 .1 1.6 0-2.4 .1 1.9 0-.9 .1-1.7 0 .6 .1 .1 .1-.1 0-2.1 .1-.7 0 3.4 .1 .7 0 .4 .1-5 0 5.4 .1 .8 0-3.6 .1-2.3 0 4.5 .1-2.1 0 2.4 .1-1.5 0-4.2 .1 3 0 .6 .1-.8 0-.4 .1 1.3 0 2.3 .1-.6 0-6.1 .1 5.8 0-3.4 .1 3.8 0-3.8 .1 .9 0 2.1 .1-4.4 .1 5.7 0-1.1 .1 1 0 .1 .1-.4 0 1.2 .1-1.4 0-3.5 .1 6.5 0-1.1 .1-.9 0-.5 .1-2.8 0 .5 .1 .3 0 .6 .1-4.1 0 6.8 .1-.1 0-2.2 .1-.4 0 1 .1 1.1 0 .2 .1-2.3 0 .5 .1-.9 0 1 .1-4.9 0 1.4 .1-3 0 4.9 .1-.7 .1 .8 0-.8 .1 .4 0-.5 .1 3.5 0-3.3 .1-1.9 0 5.1 .1-3.4 0-1.8 .1-1.6 0 2.4 .1-1.2 0-2.8 .1 1 0 3.9 .1 .8 0-2.9 .1 1.5 0 1.7 .1-.5 0-1.3 .1 1.5 0-.1 .1-.4 0 2.3 .1-6.1 0 .9 .1-.6 0 3.4 .1-1 .1-.9 0-.6 .1 5.2 0-4.4 .1 2.9 0-2.1 .1 1.2 0-4.6 .1 1.9 0 .8 .1-3.1 0 2.7 .1 1.1 0-.7 .1 .4 0-.5 .1-1.5 0 2.3 .1-.1 0-2.3 .1 1.2 0-1.3 .1 2.1 0 2.6 .1-.1 0 1.2 .1-5.4 0 1.5 .1 1.7 0 .8 .1-2.5 0 .5 .1-1.1 .1 2.4 0 .8 .1-5.4 0 5.1 .1-1.9 0-3.1 .1 5.9 0-4.9 .1 .8 0-.2 .1-1.1 0 3.3 .1 2.2 0-7.8 .1 3.5 0-2.3 .1-.3 0 1.4 .1-.9 0-.6 .1-1.4 0 2.3 .1-1.6 0 3 .1 .3 0-1 .1-.5 0-.1 .1-2.9 0 2.1 .1 1.5 0-3.4 .1 3.5 .1 0 0-.2 .1 1.9 0 1.3 .1-2.8 0 .7 .1 1.7 0-2.2 .1 .8 0 .8 .1 2.5 0-3.2 .1-4.5 0 1.6 .1-.2 0 2.4 .1-2.1 0 2.9 .1-.7 0-2.1 .1 3.8 0-2.7 .1-.3 0-2.8 .1 4.1 0-2.3 .1 2.1 0-.3 .1 4.2 0-3.2 .1-4 .1 .9 0 .7 .1-4.7 0 3.5 .1 3.8 0-1.9 .1 .3 0-3.4 .1 4.9 0-3 .1-.9 0 3.7 .1-1.6 0 4.2 .1-4.1 0 4.4 .1-3.6 0-4.4 .1 2.4 0 .6 .1-.1 0-4.1 .1 3.1 0-1.1 .1 3 0-.1 .1 1.2 0-1.5 .1 1.2 0-3.5 .1 .6 0 1.3 .1 1" fill="none" stroke="#000" stroke-width="0.9" clip-path="url(#ce)"/>
<rect x="416.9" y="256.4" width="257.70" height="216.40" fill="none" stroke="#262626" stroke-width="1.15"/>
<line x1="416.90" y1="472.8" x2="416.90" y2="476.3" stroke="#262626" stroke-width="1.1"/>
<text x="416.90" y="492.60" text-anchor="middle" class="tk">0</text>
<line x1="468.44" y1="472.8" x2="468.44" y2="476.3" stroke="#262626" stroke-width="1.1"/>
<text x="468.44" y="492.60" text-anchor="middle" class="tk">10</text>
<line x1="519.98" y1="472.8" x2="519.98" y2="476.3" stroke="#262626" stroke-width="1.1"/>
<text x="519.98" y="492.60" text-anchor="middle" class="tk">20</text>
<line x1="571.52" y1="472.8" x2="571.52" y2="476.3" stroke="#262626" stroke-width="1.1"/>
<text x="571.52" y="492.60" text-anchor="middle" class="tk">30</text>
<line x1="623.06" y1="472.8" x2="623.06" y2="476.3" stroke="#262626" stroke-width="1.1"/>
<text x="623.06" y="492.60" text-anchor="middle" class="tk">40</text>
<line x1="674.60" y1="472.8" x2="674.60" y2="476.3" stroke="#262626" stroke-width="1.1"/>
<text x="674.60" y="492.60" text-anchor="middle" class="tk">50</text>
<line x1="442.67" y1="472.8" x2="442.67" y2="475.3" stroke="#262626" stroke-width="1.1"/>
<line x1="494.21" y1="472.8" x2="494.21" y2="475.3" stroke="#262626" stroke-width="1.1"/>
<line x1="545.75" y1="472.8" x2="545.75" y2="475.3" stroke="#262626" stroke-width="1.1"/>
<line x1="597.29" y1="472.8" x2="597.29" y2="475.3" stroke="#262626" stroke-width="1.1"/>
<line x1="648.83" y1="472.8" x2="648.83" y2="475.3" stroke="#262626" stroke-width="1.1"/>
<line x1="412.9" y1="472.80" x2="416.9" y2="472.80" stroke="#262626" stroke-width="1.1"/>
<line x1="412.9" y1="410.97" x2="416.9" y2="410.97" stroke="#262626" stroke-width="1.1"/>
<line x1="412.9" y1="349.14" x2="416.9" y2="349.14" stroke="#262626" stroke-width="1.1"/>
<line x1="412.9" y1="287.31" x2="416.9" y2="287.31" stroke="#262626" stroke-width="1.1"/>
<line x1="414.9" y1="441.89" x2="416.9" y2="441.89" stroke="#262626" stroke-width="1.1"/>
<line x1="414.9" y1="380.06" x2="416.9" y2="380.06" stroke="#262626" stroke-width="1.1"/>
<line x1="414.9" y1="318.23" x2="416.9" y2="318.23" stroke="#262626" stroke-width="1.1"/>
<text x="410.90" y="478.90" text-anchor="end" class="tk">0.4</text>
<text x="410.90" y="417.07" text-anchor="end" class="tk">0.6</text>
<text x="410.90" y="355.24" text-anchor="end" class="tk">0.8</text>
<text x="410.90" y="293.41" text-anchor="end" class="tk">1.0</text>
<text x="467.2" y="286.7" class="ann">Bright</text>
<text x="495" y="439.1" class="ann">Dark</text>
<text x="545.6" y="512" text-anchor="middle" class="lab">Time (s)</text>
<text transform="translate(360.4,364) rotate(-90)" text-anchor="middle" class="lab">Integrated intensity</text>
<text transform="translate(378.9,364) rotate(-90)" text-anchor="middle" class="lab">(×10<tspan font-size="10" dy="-6">4</tspan><tspan dy="6"> counts)</tspan></text>
<g clip-path="url(#cc)">
<path d="M57.9 740.5l.1-3.2 .1 4.8 .1-5.8 .1 .1 .1 3 .1-2.9 0 2 .1-3.2 .1 3.4 .1 .1 .1-.3 .1-1.5 .1 2.1 .1-5.4 .1 4.3 .1-3.5 .1 3.4 .1 0 0 .7 .1 0 .1-1.9 .1-1.3 .1 1.8 .1 1.7 .1-1.9 .1 1.7 .1 3.1 .1-4.6 .1 3.1 .1-1.9 .1-1.1 0 .7 .1-.2 .1-3 .1 1 .1-.9 .1 2.1 .1 0 .1-2.6 .1 4 .1-1.6 .1 .3 .1-.2 0-.5 .1 .7 .1-1.1 .1 2.7 .1-2.2 .1 2.5 .1-3.5 .1 .2 .1 2 .1 .5 .1-.8 .1-1 .1 3.4 0-.8 .1-3.2 .1 1.9 .1 1.7 .1 1.6 .1-3 .1 2.2 .1-3.1 .1 .3 .1-3.1 .1 5.1 .1-3.1 0 3 .1-.3 .1-1.4 .1 1.1 .1-4.4 .1 3.1 .1 1.1 .1-5 .1 5.1 .1-.7 .1-.3 .1 1 .1-2.3 0-1 .1 4.1 .1-1.3 .1-.2 .1 1.7 .1-.1 .1-1.6 .1 .9 .1-2 .1-.9 .1 1.1 .1-.2 0 2 .1-.5 .1-1.7 .1-.3 .1 1.1 .1-1 .1 1.3 .1 1.5 .1-2.4 .1 1.2 .1 2.1 .1-4.2 .1 .7 0-.5 .1 1.9 .1-3.2 .1 1.7 .1-.9 .1 2.7 .1-.5 .1-2.7 .1 2.2 .1-.1 .1-2.4 .1 .5 0 1.5 .1-2.7 .1 5.6 .1-2.4 .1 .8 .1-3.3 .1-.2 .1 3.4 .1-1.1 .1-1.3 .1 .7 .1 .4 .1-1.2 0-1.5 .1 3 .1 2 .1-1.7 .1-.1 .1 .6 .1-1.8 .1-.1 .1-.3 .1 .7 .1 .4 .1 2.1 0-1.1 .1 .8 .1-1.9 .1 .7 .1-.1 .1-1 .1 1.4 .1-2.3 .1 .1 .1 3.2 .1-3.7 .1 2.7 .1 .7 0-.7 .1 1.6 .1-2.7 .1-1.4 .1 4.4 .1-3.1 .1-.3 .1-.1 .1 0 .1 .3 .1 1.5 .1-2.2 0 .9 .1-.8 .1 .8 .1 1 .1-.4 .1-1.1 .1-.7 .1 4.8 .1-1 .1 .6 .1-1.8 .1 .2 .1-1.4 0 .8 .1-2.7 .1 3.2 .1 .2 .1 .1 .1-.8 .1-.8 .1 1.1 .1 .7 .1 .7 .1-2.5 .1 1.2 0 .7 .1-1.2 .1-1 .1-2.8 .1 .7 .1 4.1 .1-.7 .1 2.5 .1 0 .1-.2 .1-4.6 .1 1.8 .1 2.1 0-1.3 .1-.2 .1 .2 .1-3.5 .1 5.6 .1-2.4 .1-1.2 .1-.4 .1 4.4 .1-3.9 .1 2.4 .1-1.2 0 1.7 .1-3.9 .1-3.9 .1 3.5 .1 2.2 .1 2.4 .1-4.4 .1-.5 .1 3.8 .1-3.4 .1 4.5 .1-.8 .1-2.4 0 2.5 .1-3.5 .1-1.2 .1 2.3 .1-.7 .1-1.9 .1 1.8 .1-1.3 .1-.2 .1 4.1 .1-5.4 .1 1.7 0 1.7 .1-1.1 .1 .8 .1 .1 .1 2.1 .1-1 .1-.1 .1-2.4 .1 1 .1 .1 .1 .9 .1-2.3 .1 6.2 0-2.6 .1-3.1 .1 2.2 .1-1.7 .1-1.6 .1 1.3 .1 3.8 .1-2.1 .1 1.6 .1-2.8 .1-.9 .1 2.1 0-1.2 .1 1.1 .1-3.5 .1 3 .1-.2 .1-.6 .1-.8 .1 .6 .1 1.2 .1-.1 .1-.8 .1-.1 .1 1.6 0 .3 .1-.6 .1-1.1 .1 1.5 .1 1 .1-1.2 .1 .2 .1-1.8 .1 1.9 .1-.2 .1-3.8 .1 2.3 0 2.3 .1-3.5 .1 2.6 .1 .7 .1-2.4 .1 3.4 .1-2.2 .1-1.1 .1-.3 .1 2.1 .1 0 .1-.7 .1-2.2 0 5 .1-4.4 .1 .9 .1-1.8 .1 4.2 .1-3.8 .1 3.3 .1-1.9 .1 1.1 .1 3.5 .1-4 .1-.8 0-.8 .1 2.5 .1 .9 .1-3.2 .1 1.8 .1-2.3 .1-.7 .1 2.8 .1-.1 .1 .9 .1 2.2 .1-3.4 .1-1.2 0-.6 .1 1.8 .1-3.2 .1 4.1 .1-.9 .1 .9 .1-.2 .1-.3 .1 .7 .1-.5 .1-1.1 .1 .2 0 2 .1-2.6 .1 2.2 .1-2.2 .1 .7 .1 3.4 .1-1.6 .1-3.3 .1 2.7 .1 0 .1-.4 .1-.9 .1-.8 0 1.4 .1-3.3 .1 3.8 .1-.2 .1-.5 .1-.6 .1-2.2 .1-1.5 .1 4.6 .1-.3 .1-1.4 .1 1.3 0-1.7 .1 3.3 .1-3.3 .1 5.2 .1-4.7 .1-.2 .1-3.1 .1 5.8 .1-2.8 .1 .1 .1 2.7 .1-2 .1 1.9 0 .5 .1 .6 .1-2.2 .1 1.4 .1 1.8 .1-4.1 .1 3.4 .1-4.1 .1 .7 .1 1.9 .1 1.3 .1-1.2 0 .8 .1-1.7 .1 0 .1-5 .1 8 .1-2.7 .1-2 .1-.8 .1-.5 .1 4 .1-3.1 .1 6.4 .1-4.6 0-1.9 .1 .2 .1 3.7 .1-1 .1 2.3 .1-2.4 .1 1.1 .1-3 .1 1.9 .1-2.4 .1 1.2 .1 .4 0-3.7 .1 1 .1 4.4 .1-4.8 .1 1.1 .1-1 .1 1.6 .1 3.9 .1-2.5 .1 3.7 .1-1.9 .1-1.2 .1-3.5 0 2.1 .1-.3 .1-.9 .1 2.9 .1-3.6 .1 1.6 .1 2.1 .1-.7 .1-.6 .1-1.5 .1-1.5 .1 3.1 0-.2 .1-3.6 .1-2.5 .1 2.5 .1 2.9 .1 .9 .1-1.8 .1 .6 .1 2 .1-3.9 .1-2.1 .1 6.1 .1-.1 0-.5 .1 1.3 .1-3.7 .1 4 .1-3.8 .1 .5 .1-.7 .1 4.1 .1-3 .1-.2 .1-1.1 .1 .9 0 1.7 .1-3.1 .1-.5 .1 .1 .1 3.8 .1-2.3 .1 2.6 .1-1.4 .1-1.7 .1 4 .1-7.7 .1 2.8 .1 3.7 0-.4 .1-.9 .1 .1 .1 1.9 .1-1.9 .1 2.5 .1-1.7 .1-4.4 .1 3.4 .1 .6 .1-3.6 .1 2.3 0-.6 .1 2.2 .1-3.1 .1 2.6 .1-2.2 .1 .4 .1-2 .1 1.4 .1 1.8 .1 1.9 .1-1.4 .1 .7 .1-4.1 0 3.7 .1 3.4 .1-5 .1-.8 .1 3.2 .1-3 .1 3.7 .1-2.9 .1 .8 .1-.9 .1-.2 .1 2 0-2.8 .1 2.5 .1-1.2 .1-2.4 .1 4.3 .1-1.9 .1-2.8 .1 .6 .1 3.6 .1-.1 .1-2.2 .1 2.3 .1-1.4 0 2.7 .1-3.8 .1 4.2 .1-3.3 .1-1 .1 2.5 .1 1.7 .1-.6 .1 1.3 .1-7.1 .1 7.1 .1-1.3 0-3 .1 .5 .1-1.9 .1-.5 .1 1.6 .1 1 .1 .9 .1-.7 .1-2.2 .1 .6 .1 0 .1 4.4 .1-1.8 0-.1 .1-.3 .1 1 .1-3.4 .1-.7 .1-1.5 .1 4.5 .1-.8 .1-.4 .1 .2 .1 1.6 .1-3.2 0 5.4 .1-2.9 .1 2.7 .1-4.9 .1 3.9 .1-.5 .1-2.2 .1 2 .1-2.5 .1 1.2 .1-4.6 .1 6.2 .1-.8 0-2.7 .1 .8 .1-.6 .1 1.4 .1-2.4 .1 1.2 .1-1.9 .1 5.1 .1-3.1 .1 .9 .1-1.2 .1 2.6 0-3.4 .1 4.1 .1-4.3 .1 .6 .1 4.6 .1-4.3 .1 4.6 .1-4.9 .1 4.2 .1-3 .1 .3 .1 2.7 .1 .4 0-4.6 .1 1.9 .1-3.1 .1 2.2 .1-5.5 .1 5.1 .1-3.2 .1 2.8 .1 .5 .1-.9 .1 2.5 .1-.2 0-4.6 .1 3.7 .1 1.8 .1-3.2 .1 2.6 .1-1.8 .1-2.1 .1-.4 .1-1 .1 1.2 .1 1 .1 .2 .1 .5 0 .7 .1-4.6 .1 4.6 .1-3.5 .1 3.6 .1-2.7 .1 8.1 .1-6 .1 1.5 .1-4.4 .1 .1 .1 4.2 0-1.1 .1-2 .1 1.2 .1 .4 .1-1.8 .1 4.6 .1-5.9 .1 2.3 .1 6.7 .1-4 .1-1.7 .1-4.7 .1 4.5 0 3 .1-5.8 .1 2 .1 .7 .1-2.1 .1 2.9 .1-.6 .1-2.3 .1 1.1 .1-1.1 .1 2.7 .1-4.2 0 6.3 .1-.1 .1-3.8 .1 1.6 .1-1.1 .1 .4 .1 .3 .1 1.9 .1-2.9 .1-2 .1 4.3 .1-5.5 .1 .6 0 4.9 .1-3.4 .1 3.9 .1-2 .1 1.9 .1-1.1 .1 2.6 .1-3.5 .1 1.8 .1-.3 .1 2.2 .1-4.1 0-3.9 .1 4.6 .1-.4 .1 2 .1-1.4 .1 .8 .1 1.4 .1-1.4 .1-.8 .1-1.7 .1 1.3 .1-1.3 .1-2.1 0 .7 .1 2.8 .1 2.8 .1-3.3 .1-.6 .1-1.9 .1 1.7 .1-5.5 .1 6.5 .1-2.1 .1 3.3 .1 .1 0-1.5 .1-1 .1-1.1 .1 8 .1-8.9 .1-.8 .1 .2 .1 1.1 .1 2 .1-1.5 .1-1.5 .1 4.7 .1-3.5 0 .3 .1 1.4 .1-4.1 .1 5.2 .1 .6 .1-2 .1 1.2 .1-4.2 .1 6.3 .1-.7 .1-3.5 .1-1 0 4.1 .1-5.3 .1 6.8 .1-6.3 .1 4.1 .1-.9 .1-4.9 .1 3.9 .1 1.3 .1-2 .1-3.5 .1 3.8 .1 1.8 0-2.1 .1 3.1 .1-1.3 .1-.2 .1-2.7 .1 2.4 .1-2.1 .1-1.5 .1-.9 .1 7 .1-3.6 .1 2.4 0-4 .1 .9 .1 .5 .1 1.1 .1 .9 .1 1.6 .1-5.9 .1 2.5 .1-.5 .1-.7 .1-1.1 .1-2.4 .1 4.5 0-1.9 .1 5 .1-2.8 .1 .7 .1-.2 .1-4 .1 2.3 .1 0 .1 0 .1 .6 .1-.1 .1 .9 0-.2 .1-.3 .1-.6 .1 3.7 .1-4.4 .1 .2 .1-1 .1 3.4 .1-.5 .1-3.9 .1 3.3 .1-2.7 .1 2.5 0 1.2 .1 .5 .1-2 .1-.3 .1 1.6 .1-6 .1 3.1 .1 2 .1-5.4 .1 1.4 .1 3.6 .1 .5 0-1.9 .1-2.2 .1 4.8 .1-5.9 .1 3.5 .1-2.8 .1 2.1 .1-1.5 .1-.4 .1-1.5 .1 4.5 .1-6.1 .1 7.3 0-3.7 .1-1 .1 1.5 .1-2.1 .1 5.8 .1-3.7 .1-2.5 .1 2.2 .1 2.6 .1-3.1 .1-.1 .1 2.7 0-5.5 .1 4.3 .1 1.1 .1-2.8 .1 1.8 .1-1.2 .1-1.1 .1 1.5 .1-2.5 .1 .6 .1-2.2 .1 5.2 .1-2.6 0-.6 .1-.1 .1 5.6 .1-2.5 .1-3.5 .1-.6 .1 1.2 .1-.5 .1-2.6 .1 3.8 .1 .9 .1-5.6 0 2.1 .1 1.8 .1 1.2 .1-5.7 .1 4.5 .1 1.2 .1-5.2 .1 6.7 .1-3.4 .1-2 .1 2.2 .1 .4 .1-2.4 0 4 .1-2.6 .1-2.4 .1 4.4 .1-6.3 .1 3.9 .1-.4 .1 .9 .1-2.8 .1 2.6 .1-1.9 .1-2.8 0 0 .1 6.9 .1-7.4 .1 4.6 .1-2.2 .1 .4 .1-.5 .1 2.1 .1-3.2 .1-1.2 .1 4 .1-1.6 .1-2.2 0-.8 .1 1.8 .1 0 .1-.7 .1 2.1 .1-1.9 .1 1.4 .1 .1 .1 5.2 .1-1.6 .1-5.9 .1-1.1 0 .6 .1 .8 .1 1 .1-2.5 .1 2.5 .1-1.2 .1-4.2 .1 7.6 .1-2.2 .1-1.1 .1 4.4 .1-2.1 .1-6.3 0 1.3 .1 1.7 .1-4.2 .1 6.2 .1-8.2 .1 5.3 .1 1.4 .1-4.9 .1 1.4 .1 .8 .1 .7 .1 4.6 0 .6 .1-6 .1-2.9 .1 4.8 .1-2.7 .1 4.6 .1-.4 .1-4.3 .1-2.3 .1-.3 .1-1.5 .1 5.6 .1-2 0-3 .1 5.1 .1-2.3 .1-1 .1-.2 .1-2.8 .1 1.1 .1 2.4 .1 5.4 .1-9.4 .1-.8 .1 1.2 0 .3 .1-.5 .1-2.5 .1 4.9 .1-1.5 .1 2.6 .1-2.6 .1 1.7 .1-.3 .1 3.4 .1-6 .1-3.6 .1 12.1 0-13.3 .1 3.8 .1 1.7 .1-3.2 .1 1.5 .1-.8 .1-4.9 .1 3.7 .1-.9 .1 1.8 .1-.6 .1 2.1 0-2.7 .1 1.8 .1-6.3 .1 4.1 .1-3.3 .1-2 .1 .6 .1 5.2 .1-7.9 .1 11.3 .1-11 .1 12.6 .1-5.6 0-2.9 .1 1.8 .1 4.3 .1-2.3 .1-6 .1 6.2 .1-8 .1-2 .1-.9 .1 3.3 .1 .7 .1 .9 0-10.8 .1 4.9 .1 1.6 .1 .7 .1-2.9 .1 10 .1-9.8 .1 4.6 .1 5.7 .1-12.1 .1 6.2 .1-4.5 .1 3.8 0-1.5 .1-7.3 .1 4.1 .1-.5 .1 6.5 .1-9 .1 5.2 .1-4.3 .1 4.9 .1-5.2 .1-1 .1 6.9 0-6.7 .1 4 .1-8.1 .1 2.8 .1 .8 .1-11.2 .1 7.7 .1 4.1 .1-5 .1 1.8 .1-4.3 .1 8.3 .1-11.3 0 8.8 .1-.8 .1 .9 .1-1.9 .1-8.7 .1 6.1 .1 4.3 .1-3.8 .1-1.9 .1-3 .1 4.4 .1-2.3 0-10.9 .1 11.4 .1-1.4 .1 4.7 .1-8.7 .1 5.1 .1-9.4 .1 2.1 .1 1.1 .1 4.7 .1-1 .1-.2 .1-2.3 0 1.3 .1 .4 .1-3 .1 .1 .1 1 .1-5.6 .1-.9 .1 6 .1-11.3 .1 6.6 .1-3.8 .1-3.1 0 12.9 .1-8.2 .1-2.2 .1-1.6 .1 1.3 .1-1.4 .1 9.9 .1-2.7 .1-6.7 .1 10.4 .1-6.7 .1-1.9 .1-2.8 0-2.7 .1 2.3 .1 4.1 .1 0 .1-6.2 .1-1.2 .1 .4 .1 .5 .1-.3 .1 6 .1-6.4 .1-3.8 0 7.6 .1-7.2 .1-1.6 .1-7.6 .1 9.9 .1 .3 .1 3.8 .1-1 .1 1.8 .1 .3 .1-11.5 .1 2.6 .1-1.8 0 7.9 .1 1.5 .1-1.6 .1-15.7 .1 1.6 .1 10.7 .1-7.1 .1-.8 .1 4.7 .1-2 .1-7.8 .1 .6 0-1.4 .1 2.1 .1 .4 .1-2.2 .1 2.5 .1-9.1 .1 6.3 .1-2 .1 2.3 .1 2.2 .1-3.4 .1 .8 .1 1.7 0-8.1 .1-6.1 .1 7.5 .1 1.3 .1 2.4 .1 3 .1-10.4 .1-.4 .1 6 .1-4.7 .1 3.9 .1-11.4 0 5.7 .1-2.1 .1-6.7 .1 18.5 .1-13.3 .1 .1 .1 2.2 .1-2 .1-6.6 .1 8.8 .1-.6 .1-12.3 .1 3 0 2 .1-2.1 .1 3 .1 1.3 .1-1.2 .1-2.9 .1 3.3 .1 5.2 .1-7.8 .1-2.7 .1 1.5 .1-4.6 0 1.3 .1-3.9 .1 3.7 .1 .9 .1-4.3 .1-2.1 .1 6.2 .1 1.6 .1-11.8 .1 9 .1-5.2 .1 3.8 .1-4.1 0-6.6 .1-2 .1 14.9 .1 .2 .1 9.3 .1-21 .1-5.6 .1 6.3 .1 2.3 .1-6.4 .1 8.7 .1-8.9 0-4.2 .1 .1 .1 2.2 .1 5.9 .1-1.5 .1 2.6 .1-15.2 .1 2.7 .1 6.4 .1-.5 .1-2.1 .1 4.3 .1-6.9 0-.4 .1-.2 .1 1.6 .1 13.3 .1-13 .1 6 .1 1 .1-21.7 .1 14.3 .1-2.1 .1 .1 .1 2.5 0-14 .1 18.4 .1-13.2 .1 5.4 .1-10.7 .1 1.8 .1 3.8 .1 8.2 .1-13.1 .1-1.5 .1 1.3 .1 4.8 .1-5.6 0 7.3 .1-6.1 .1-1.2 .1 2.9 .1 3.8 .1-4.7 .1 3.2 .1 1.3 .1-13 .1 6.3 .1 1.6 .1-.4 0-5.8 .1 3.9 .1 1.7 .1-5.9 .1 .3 .1 5.5 .1 .6 .1-13.9 .1 8.6 .1-8.9 .1 3.1 .1 3.4 .1 .6 0-11.1 .1 12.6 .1-1.8 .1 2.1 .1-4.2 .1 4.2 .1-6.5 .1 7.6 .1-10.6 .1 .7 .1 .4 .1 4.4 0-11.3 .1-4.5 .1 12.1 .1 3.4 .1-8.6 .1 4.7 .1-2.4 .1-3.2 .1 11.4 .1-12.4 .1 10 .1 .9 .1-5.3 0-11 .1 11.9 .1-6.6 .1 7.9 .1-9.4 .1 1.6 .1-5.2 .1 5.5 .1 .8 .1 10.8 .1-13 .1-3 0 3.2 .1-.1 .1-2.4 .1-2 .1 10.3 .1-5.1 .1-3.1 .1 .9 .1 7 .1 5.9 .1-13.8 .1-2.5 .1-5.8 0 7.3 .1 7.6 .1-7.9 .1 3.2 .1 3.2 .1 4.4 .1 2.2 .1-6.7 .1-1.8 .1-2.9 .1 .2 .1-1.3 0-10 .1 11.6 .1-8.5 .1 12.7 .1-.3 .1-1.2 .1 7.5 .1-20.5 .1 8.3 .1-2.8 .1-6 .1 7.7 .1-7 0 23.7 .1-21.5 .1 5.8 .1 5.1 .1-9.7 .1 6.4 .1 4.4 .1 7.5 .1-22.1 .1 26.2 .1-15.8 .1-9 0 5.7 .1 7.8 .1-2 .1 2.1 .1-4.9 .1 2 .1 7.4 .1 1.3 .1-15.4 .1 14.5 .1-.6 .1-20.4 .1 19 0 3.1 .1-1.9 .1-10.1 .1 9.2 .1-3.3 .1 13.1 .1-9.8 .1-3.7 .1 .2 .1-8.1 .1 5.9 .1 20.4 0-7.2 .1-4.1 .1-3.2 .1-1.8 .1-3.1 .1 14 .1 3.5 .1-17.5 .1 10.9 .1 8.3 .1-7.9 .1-2.7 .1 4.9 0 .1 .1-12.5 .1 12.8 .1-7.9 .1 .8 .1 3.8 .1-15.6 .1 22.1 .1-22.6 .1 21 .1-3.6 .1-2.9 0-4.3 .1 2.7 .1 6.5 .1 .4 .1-8.4 .1-1.7 .1 12.4 .1-9.7 .1 4.2 .1 2.2 .1 8.3 .1 1.3 .1-9.3 0 18.8 .1-12.6 .1-4.8 .1 12.4 .1-18.4 .1 .3 .1 16 .1-5 .1 .5 .1 2.9 .1 .1 .1-5 0-6.2 .1 9.4 .1 .3 .1 .4 .1 5.1 .1-6.9 .1 6.7 .1 3.3 .1-8.7 .1 14.6 .1-7.1 .1-.2 .1-.9 0 8.3 .1-2.8 .1-4 .1-3.6 .1 4.5 .1 1 .1 4 .1-4.2 .1 15.9 .1-18.3 .1-1.3 .1 5.9 0 5.7 .1-12 .1 11.5 .1-10.5 .1 9.3 .1 3.2 .1-2.5 .1 3.1 .1-2.3 .1-3 .1 4.5 .1 1.6 .1-1.8 0-1.7 .1 2.6 .1-2.3 .1 .3 .1 2.1 .1-1.7 .1 4.2 .1-5.4 .1 4.4 .1-1.7 .1 5.9 .1 6.9 0-4.6 .1-1.9 .1-1.2 .1 2.6 .1-7.2 .1 14.7 .1 2.9 .1-7.6 .1 3.1 .1-3.1 .1-2.7 .1-9.9 .1 21 0-.7 .1-4.6 .1 7.6 .1-3.1 .1-9.7 .1 7.2 .1 .4 .1-5.1 .1 14.5 .1-8.6 .1 1.4 .1-1.1 0 6.8 .1-2.3 .1-1.1 .1-3.6 .1 7.6 .1-6 .1 13.8 .1-11.9 .1-1.1 .1 8.6 .1-2.5 .1-.9 .1-.9 0-3.8 .1 5.3 .1 2.5 .1 .3 .1-1.7 .1-1.9 .1 3 .1 4.3 .1-.6 .1 2.7 .1 .8 .1-1.3 0 .9 .1-5.8 .1 9.6 .1-5.4 .1 6.2 .1-8.6 .1 2.8 .1-4 .1 3.8 .1 7.7 .1-4.4 .1 3.5 .1-.1 0 2.8 .1-2.8 .1-1.4 .1 0 .1-9.8 .1 12.4 .1-.7 .1 1.2 .1 1.2 .1 .7 .1-1.2 .1 1.6 0-3.7 .1 1.8 .1 6.2 .1-3.4 .1-.9 .1 3 .1 .2 .1-.2 .1-2.6 .1 2.3 .1 3.5 .1-1.7 .1-5 0 9.8 .1-6.5 .1 4.3 .1-16.4 .1 13.5 .1 2.8 .1 1.1 .1 6.4 .1-3.9 .1-10.1 .1 7.3 .1 3.1 0-.8 .1 .2 .1 4.5 .1-3.9 .1-1.3 .1 8.6 .1-4.7 .1 10.6 .1-4 .1-9.9 .1-1.2 .1-2.1 .1 13.1 0-4.5 .1 1.4 .1-5.3 .1 3.4 .1 1.3 .1-1.7 .1 4.6 .1-5.3 .1 5.6 .1-5.4 .1 4 .1 .2 0 5.7 .1 2 .1 .4 .1-7.7 .1 10.6 .1-13.3 .1 6.9 .1 4.3 .1-6.2 .1 6.5 .1-4.6 .1 1.5 .1-5.3 0 1.5 .1 .2 .1 5.7 .1-6.2 .1 5.3 .1-.4 .1-.9 .1 1 .1 6.4 .1-7.2 .1 8.7 .1-7.4 0 2.4 .1-.2 .1 4.6 .1-7.4 .1 4.5 .1-3.4 .1 6.2 .1 .2 .1-2.6 .1-3.2 .1 8.9 .1-2.4 .1 0 0-.6 .1 1 .1-5.3 .1 1.7 .1 2.7 .1-2.6 .1-.4 .1 6.2 .1 .6 .1-4.8 .1-4.8 .1 16.3 0-5.9 .1-4.8 .1 5.9 .1-5.6 .1 2.5 .1 5.5 .1-2.5 .1-2.7 .1 4.7 .1-4.9 .1 1.2 .1 2.4 .1-2.2 0 2.9 .1-1.8 .1 4.5 .1-8.1 .1 6.1 .1-4.7 .1-3.1 .1 2.2 .1 5.7 .1-.4 .1 1 .1-1 0 4.1 .1 3.6 .1-7 .1 1.1 .1-4.8 .1-.7 .1 11 .1-1.3 .1-5.5 .1-1.1 .1 3.7 .1 .5 .1 6.6 0-13.6 .1 10.2 .1-4 .1 .9 .1 4.3 .1-5.5 .1-1.8 .1 5.2 .1-.5 .1-1.4 .1-.9 .1 .6 0 5.9 .1 .4 .1-1.1 .1 7.2 .1-4.3 .1-3.4 .1 1.7 .1 .7 .1-5.3 .1 1.9 .1-1.3 .1 3.3 .1 1 0 1.6 .1-3.3 .1 6.7 .1-2.8 .1-4.5 .1-.6 .1 3.1 .1 3.6 .1-5.3 .1 4.3 .1-1.7 .1 2.8 0-8.6 .1 1.2 .1 7.5 .1 1.2 .1-3.3 .1-2 .1-1.7 .1 4.2 .1 3.8 .1-4.6 .1 .3 .1 5.8 .1-3.9 0 .3 .1 2.2 .1-3.5 .1-2.4 .1 .3 .1 6 .1-.8 .1-3.7 .1 3.2 .1 .2 .1-7.5 .1 14.5 0-5.6 .1 .7 .1-2.3 .1-5.1 .1 5.7 .1 .6 .1-1.2 .1 1.5 .1-1.9 .1-6.3 .1 9.8 .1-1.3 .1-.3 0 6.1 .1-7.8 .1 2.1 .1 5.7 .1-4.9 .1-1.1 .1 3.2 .1-5.6 .1 5 .1 2.7 .1-6.5 .1 2.9 0-.7 .1 5.2 .1-.6 .1-.9 .1-2.4 .1 .1 .1-4.2 .1-.4 .1 4.2 .1 .7 .1-5.5 .1 5.3 .1-2.6 0 4.4 .1-1 .1 .6 .1 1.3 .1-2.9 .1 3.5 .1-1.9 .1-1.3 .1-4.7 .1 11.4 .1-5.5 .1-1.5 0 2.9 .1-3.3 .1 1.1 .1 .2 .1 2.6 .1-.4 .1 .1 .1 2.2 .1-3.1 .1 3.5 .1-.2 .1 1.3 .1-6.7 0 4.6 .1 1 .1-4.5 .1 3.4 .1-2 .1 1.5 .1-1.3 .1 .5 .1 6.5 .1-9.8 .1 1.4 .1 6.8 0-6.3 .1 3.1 .1-.8 .1-3.1 .1 .9 .1 .1 .1-2.7 .1 2.6 .1 4.6 .1 1.9 .1-5.6 .1 6.9 .1-3.5 0 .1 .1 1 .1-5.4 .1 2.8 .1 1.6 .1-2.9 .1 3.5 .1-4.2 .1-2.1 .1 5.8 .1 .2 .1-3.4 0 8.2 .1-1.7 .1-.6 .1 1.6 .1-4.1 .1-.7 .1 .9 .1 .1 .1-2.4 .1-.3 .1-.4 .1 3.7 .1-.4 0-3.6 .1 2.8 .1-2.3 .1 4.7 .1-1 .1 1.6 .1-1.6 .1-1 .1 2.3 .1-6.1 .1 8.9 .1-6 0 5.1 .1-3.5 .1 2.8 .1-2.1 .1 .1 .1 2.2 .1 1.2 .1-1.2 .1-1.8 .1-2 .1-1.9 .1 8.4 .1-5.4 0 2.4 .1-1.1 .1-.8 .1-1.1 .1 1.1 .1 1.1 .1-3.9 .1 3.3 .1 .7 .1-2.8 .1 5.8 .1-.5 0-5.9 .1 4.2 .1 4 .1-6.4 .1-.9 .1 5 .1 1.3 .1-3 .1-1 .1 2.4 .1 .9 .1-3.5 .1 0 0 5.3 .1-1.1 .1-1.9 .1 .8 .1-2 .1-.7 .1-3.2 .1 3.7 .1-1.3 .1 6 .1-2 .1-4.2 0 6.1 .1-6.7 .1 2 .1 1.1 .1 .6 .1 2.6 .1-.2 .1-1.3 .1-.1 .1-4 .1 5.5 .1-.9 .1 2.7 0-4.5 .1 .4 .1-2.5 .1-2 .1 3.4 .1 3.3 .1-2.5 .1-.1 .1 .9 .1 2.4 .1-3.3 .1 3.7 0-2.6 .1 .6 .1 5.4 .1-7.5 .1-3.5 .1 5.9 .1 .6 .1-3.6 .1 5.3 .1-3 .1-.5 .1 1.9 .1-1.1 0 1.9 .1-.6 .1-2.9 .1 3.6 .1-.6 .1 .3 .1-2.8 .1 2.1 .1 1.2 .1-2.7 .1 5.4 .1-.2 0-5 .1-3.6 .1 5.5 .1-1.9 .1 4 .1-3.4 .1-.2 .1-.8 .1 3.1 .1-6.1 .1 6.7 .1-5.7 .1 6 0-4.3 .1-1.2 .1-1.8 .1 5.2 .1 3.6 .1-5.7 .1 3.6 .1 .9 .1-1.1 .1 .7 .1-3.7 .1 1.3 0-1.1 .1-.3 .1 2.8 .1-2.4 .1-1.1 .1-1.5 .1 3.9 .1 1 .1 1.6 .1-1.2 .1-.9 .1-.5 .1 3.6 0-2.1 .1-.4 .1 .9 .1 .1 .1-2.1 .1 3 .1-3.3 .1 3.6 .1-2.9 .1 3 .1-5.1 .1 1 0-1.3 .1 4.9 .1 1.1 .1 0 .1-2.4 .1-2.8 .1 .8 .1 .1 .1 4.3 .1-5.1 .1 .8 .1 2.8 .1 4.5 0-3.8 .1-1.5 .1-3.7 .1 3 .1 .7 .1-3.7 .1 .1 .1 2.7 .1-.5 .1-1.4 .1 4.4 .1-2.5 0 1.9 .1 1.2 .1-3.2 .1-1.3 .1-1.7 .1 2.5 .1-.8 .1 2.9 .1 3 .1-1.9 .1-2.3 .1 2.2 .1-5.4 0 1.5 .1 3.1 .1-4.2 .1 2.4 .1-2.1 .1 4 .1-2.1 .1 2.3 .1-.5 .1-2.5 .1-1.6 .1 3.9 0-.4 .1 2.6 .1-1.4 .1-1.5 .1 3.8 .1-1.7 .1 1.5 .1-2.9 .1-1.4 .1 1.2 .1 1.3 .1 1.7 .1 1.3 0-3.5 .1-3.3 .1 3.9 .1-.4 .1 .9 .1 1.5 .1-4.7 .1 .8 .1 4.7 .1-.5 .1-5.5 .1 4.8 0-1.8 .1 2.1 .1-2.8 .1 2.4 .1-.4 .1 1.1 .1-6.4 .1-1.5 .1 5.1 .1-.9 .1 .2 .1 1.2 .1 .3 0 .6 .1-2.5 .1 4.4 .1-.8 .1-3.3 .1 4.5 .1-6.4 .1 4 .1-.9 .1-2.4 .1 2.9 .1-.3 0 1.5 .1-2.3 .1-.4 .1 3.4 .1-3.2 .1-.7 .1 1.1 .1 2.6 .1-3.5 .1-.9 .1 3.9 .1 2.9 .1-2.4 0-1.5 .1-2.7 .1 .2 .1 1.1 .1 2.9 .1-3 .1 1.7 .1 2.1 .1 1.7 .1-5.9 .1 5.6 .1-6.1 0-2.1 .1 4.7 .1 1.9 .1-.4 .1 .1 .1-2.2 .1-1.3 .1 3.7 .1-.9 .1 .7 .1-3.7 .1 .3 .1 3.9 0-1.1 .1-1 .1 4.1 .1-2.6 .1-1.4 .1 3.2 .1-3.3 .1 .4 .1 1.2 .1-3.3 .1 4.2 .1-2.8 0 1.4 .1-2.8 .1 3.9 .1-2.8 .1-.1 .1-1 .1-1 .1 6.5 .1-3 .1 2.2 .1-4.3 .1-.8 .1 3.5 0-1.1 .1-2.2 .1 2.3 .1 .7 .1 3.1 .1-1.9 .1-3.5 .1 5.1 .1-3.6 .1 .2 .1 .5 .1-1.7 0 3.2 .1-4.3 .1 3.7 .1-2.9 .1 3.3 .1-1.8 .1 1.3 .1-4.1 .1 5.6 .1-.9 .1-4.2 .1 1.3 .1 1.8 0 .4 .1 2.1 .1-2 .1-1.3 .1-1.7 .1 .6 .1-1.1 .1 2.2 .1 2.3 .1-.7 .1-3.9 .1 3 0-2.7 .1 6.1 .1-2.2 .1 .7 .1-2.2 .1 2.2 .1 1.1 .1-2.5 .1 4.5 .1-3.5 .1-2 .1 3.2 .1-2.2 0 1.7 .1-1.1 .1-1.2 .1-.4 .1 .1 .1 2.4 .1-4.6 .1 2.4 .1 2 .1-4 .1 3.5 .1-4.7 0 2.2 .1 2 .1 .8 .1 .7 .1-.1 .1-1 .1-3.3 .1 2.4 .1 .5 .1-1 .1 1.5 .1 1.9 .1 .5 0-5.9 .1 3.5 .1-3.8 .1-.6 .1 3.3 .1-1 .1 2.3 .1-.4 .1-.5 .1 .2 .1-3 .1 3.2 0-2 .1 1.6 .1-1 .1-2.4 .1 6.9 .1-5.5 .1 3.6 .1-1.6 .1 1.1 .1 .2 .1 1.8 .1 2.7 .1-9.7 0 2.6 .1 2.2 .1 3.3 .1-5.1 .1-1.8 .1 2.3 .1 4.4 .1-2.4 .1-1.6 .1 .7 .1-2.4 .1 4.2 0-.6 .1 3.7 .1-7.3 .1 1 .1 2.2 .1 2.8 .1-5.4 .1 4.7 .1-.3 .1 1.3 .1-1 .1-.9 .1 .3 0-4.5 .1 .8 .1 1.3 .1 1.4 .1-1.1 .1 2.6 .1-3.5 .1 2.8 .1-.9 .1-1.7 .1 2.5 .1 1 0-4.8 .1 5.5 .1-.8 .1-.3 .1-.8 .1-1.2 .1 6.2 .1-5.5 .1-3.8 .1 .4 .1 .7 .1 1.9 .1-.6 0 1.6 .1 2.3 .1-4.1 .1-1.5 .1 1.6 .1 .7 .1-1.8 .1 1.1 .1-1.6 .1 3.1 .1 2.8 .1-4.6 0-.8 .1 3.4 .1-2 .1-1 .1 7 .1-10.5 .1 3.4 .1 2 .1 1.9 .1 .9 .1-9.9 .1 7.4 .1-2.1 0 2.8 .1-.7 .1-1.9 .1 3.2 .1-1.7 .1 .2 .1-1.3 .1-.8 .1 2.1 .1-3.2 .1 3.8 .1-.1 0-1 .1 .7 .1-2.1 .1 7.4 .1-2.2 .1 .8 .1-7.2 .1 1.2 .1 3.1 .1-2.2 .1 4.3 .1-2.9 .1-3.6 0 1.7 .1-3 .1 5.3 .1-3.3 .1 2.1 .1-.4 .1 .1 .1-1 .1-1.1 .1 2.6 .1-.7 .1 1 0-.8 .1 2.2 .1-3.6 .1 .6 .1 .8 .1 .7 .1 1.3 .1 .6 .1 .3 .1-.6 .1-3.5 .1 1 .1 3.8 0-1 .1-4.6 .1-.6 .1 1.6 .1-2.5 .1 5.6 .1-2.2 .1 2.1 .1-5.7 .1 3.6 .1 0 .1 .1 0 2.1 .1-1.2 .1 4.4 .1-3.6 .1 1.1 .1-3.6 .1-1.1 .1 2.2 .1 2.5 .1 .2 .1-3.7 .1 2.1 .1-.1 0 1.7 .1-2.6 .1 0 .1-1.1 .1 3.4 .1-1.8 .1 2.8 .1-3.3 .1 .5 .1 .7 .1-2.5 .1 4.3 0-5.6 .1 2.3 .1-.3 .1 .6 .1 1.9 .1-.2 .1-3 .1 1.9 .1-.7 .1 1.4 .1-2.4 .1 .4 .1 3.8 0-6.3 .1 1.8 .1 .4 .1 1 .1 .7 .1-1.7 .1-3.4 .1 5.2 .1 2 .1-2.1 .1-.2 .1-1.7 0 4.3 .1-1.5 .1-.3 .1-2.5 .1-.2 .1 1.7 .1-1.6 .1 1.8 .1 .1 .1 4.6 .1-2.7 .1 .5 .1-3.1 0 .8 .1 2.2 .1-2.1 .1 .3 .1-1 .1 1.9 .1 .3 .1-3.8 .1 2.9 .1-2.4 .1 3.6 .1-1.2 0 .2 .1 1.2 .1-3.2 .1 4 .1-3.1 .1 4.6 .1-5.4 .1 1.2 .1-2 .1-1.8 .1 5.3 .1-1.4 .1 2.5 0-1.6 .1-.9 .1 0 .1-1.4 .1 .5 .1-.9 .1 3.2 .1-1.6 .1 2.3 .1-1.6 .1 4.9 .1-5 0-.3 .1 1 .1-.1 .1 2.5 .1-2.1 .1-.1 .1-1.5 .1-.4 .1 1.7 .1-.6 .1-.9 .1 2.4 .1-3.7 0-1.9 .1 3.2 .1 1.6 .1-1.3 .1-1.8 .1-.2 .1 5 .1-3.2 .1 2 .1-.5 .1-1.4 .1-.5 0 1.6 .1 1.1 .1-1.3 .1 1.6 .1-5.2 .1 6.2 .1-4 .1 .9 .1 .2 .1 2 .1-1.1 .1-.2 .1 .3 0-.5 .1-.7 .1 1.1 .1-1.7 .1-.5 .1 2.4 .1-2.4 .1 1.3 .1 1.2 .1-2 .1-1.2 .1 2.7 0 2.8 .1-4.8 .1-.4 .1 3.9 .1-1.8 .1-1.1 .1 5.3 .1-5.9 .1 .1 .1-.1 .1-1.3 .1 4.8 .1-3.7 0-2.5 .1 8.4 .1-3.5 .1-2 .1 2.7 .1 2.1 .1-4 .1 .3 .1 1.6 .1-1.8 .1-1.2 .1-.2 0 1.1 .1 3.1 .1-1.7 .1 3.7 .1-2.3 .1-2.2 .1-.8 .1 1.1 .1 0 .1 3.6 .1-1.2 .1-.3 .1-1 0 0 .1-5.1 .1 2.2 .1 3.7 .1-.6 .1-.2 .1 .1 .1-.2 .1 2.9 .1-6 .1 .9 .1 .1 0 1 .1-.6 .1 1.5 .1 3 .1-3.9 .1 .2 .1 2.5 .1 1.7 .1-6.3 .1 4.1 .1-1.5 .1 .9 .1-4.4 0 5.8 .1-4.7 .1 6.7 .1-6.4 .1 2.6 .1 3.3 .1-4.3 .1 .3 .1 2.8 .1-3.6 .1 .7 .1-.9 0 3.4 .1-1.1 .1 .4 .1-2 .1 1.2 .1 .8 .1-4.4 .1 3.6 .1-3 .1 .5 .1 2.8 .1 2.1 .1-3.7 0-.9 .1-.9 .1 1.4 .1-.1 .1 2 .1 .2 .1-7.3 .1 3.8 .1 4.6 .1-3 .1-.3 .1 4.2 0-2.8 .1-1.6 .1-2 .1 .1 .1 3.6 .1 0 .1 .3 .1-1.3 .1-1.2 .1 3.5 .1-1.6 .1 .8 .1 .3 0-.4 .1-4.3 .1 .1 .1 .5 .1 5.8 .1-3.6 .1-3.9 .1 3.7 .1 2.1 .1-2.4 .1 1.5 .1 .3 0-1.2 .1-.4 .1 1.2 .1-.3 .1 1.9 .1-1.8 .1-1.4 .1 1.1 .1 .5 .1 2.4 .1-4.8 .1 4.3 .1-3.4 0 1.9 .1-2.1 .1-.5 .1 2.5 .1 5 .1-1.8 .1-2 .1 0 .1-2.3 .1-3.1 .1 2.5 .1 1.4 0-2.7 .1 2.8 .1-1.9 .1 .9 .1 4.2 .1-5.3 .1-1.4 .1 3.8 .1-2 .1 .5 .1 1.4 .1 .2 .1-2.5 0 3 .1-.2 .1-2.5 .1-.2 .1-1.1 .1 3.9 .1 1.4 .1-4.4 .1 4.8 .1-2.1 .1-.3 .1-3.6 0 3.1 .1 2.3 .1-2.2 .1-2.4 .1 5.7 .1-.9 .1-4.3 .1 1.7 .1 2 .1-1.4 .1-.5 .1 2.2 .1-1.1 0-3.6 .1 2 .1-1.4 .1 2.1 .1 .9 .1-1.5 .1 2.2 .1-2.3 .1 1.2 .1 0 .1-.1 .1 1.3 0-4.2 .1 5.2 .1-3.1 .1 2.7 .1-4 .1 2.1 .1-.8" fill="none" stroke="#4a4a4a" stroke-width="0.85"/>
<path d="M57.9 737.2l.1 .2 .1 .3 .1-.3 .1 0 .1 1.3 .1-.3 0-.1 .1 .8 .1-.3 .1-3 .1 4.5 .1-5.1 .1 3.6 .1-1.9 .1 1 .1 .3 .1-1.2 .1-1.8 0 2.9 .1-.1 .1 .8 .1-4.2 .1 1.4 .1 .1 .1 1.8 .1 3.1 .1-3.9 .1 3.7 .1-1.9 .1-2.6 .1 2.6 0 .1 .1 2.4 .1-4.7 .1 .5 .1 1.5 .1-1.4 .1 3.2 .1-1.1 .1-1.8 .1-1.1 .1 1.4 .1 2 0-1.2 .1-2.6 .1 2.8 .1-1.4 .1-.3 .1 1.6 .1-1 .1 3 .1-2 .1-1 .1-1 .1-1.1 .1 3 0-1.6 .1 1 .1 1.1 .1-.1 .1-1.1 .1-.1 .1 1.2 .1-5.7 .1 4.5 .1-1.1 .1 1.5 .1-5 0 8.2 .1-3.1 .1-.9 .1-1.6 .1 2 .1 1.6 .1-4.2 .1 1.5 .1 1.5 .1 0 .1 0 .1-.7 .1 3 0-3 .1 1.2 .1-1.8 .1 .3 .1 2.3 .1-4 .1 1 .1 2.7 .1 .3 .1-.7 .1-1.6 .1-1.5 0 3.5 .1-.2 .1-2.1 .1 .9 .1 0 .1 .1 .1 .3 .1-3.4 .1 1.3 .1 2.1 .1-2.6 .1-1 .1 2.3 0 .3 .1 1.3 .1-1 .1-.2 .1-1.7 .1 3.6 .1 1.2 .1-1.9 .1-1.4 .1 3.9 .1-3 .1 1 0 .5 .1-2 .1-1.7 .1 4.1 .1-2.6 .1 .6 .1-1.3 .1 1.1 .1 1 .1-2.5 .1 .8 .1 2.4 .1 1.6 0-2.2 .1-1.5 .1-.9 .1 2.2 .1-.3 .1 2.3 .1-2.2 .1-.9 .1 1.1 .1-.8 .1 1.5 .1-.2 0-1.9 .1 3 .1-2.6 .1-1.9 .1 2.9 .1-.1 .1 .5 .1 .8 .1-1.2 .1 1.1 .1-1.7 .1 .6 .1 .9 0-1.9 .1-1.6 .1 .4 .1 1.7 .1-.4 .1 1.7 .1-1.3 .1-1.5 .1-.2 .1-1 .1 4.7 .1-5 0 1.9 .1-1.9 .1 2.5 .1-2 .1 2.1 .1 1.7 .1-2.3 .1 1.4 .1-.8 .1-.9 .1-.4 .1 .2 .1-.6 0 4.2 .1-4.5 .1 3.3 .1-1.5 .1 .8 .1 1.2 .1-3.3 .1 3.1 .1-.8 .1-3.3 .1 6.1 .1-.9 0-4.4 .1 2.3 .1-2 .1 1.3 .1 .8 .1-2 .1 2.4 .1-.3 .1-1.3 .1 2.2 .1 .6 .1 .3 .1-4.3 0-1.6 .1 1.2 .1 3 .1-.2 .1 .8 .1-1.6 .1-1.8 .1 1.9 .1-.1 .1 5.3 .1-5.9 .1 2.5 0-1.5 .1-1.1 .1 .4 .1-1 .1-1.3 .1 6.3 .1-1.2 .1-5.4 .1 2 .1 2 .1-.8 .1-.4 .1-1.8 0 2.3 .1-.5 .1 2.2 .1-4.7 .1 1.7 .1 1.5 .1 1.5 .1-2.2 .1-1.5 .1-2.4 .1 .6 .1 3.8 0 .1 .1 .9 .1-2.4 .1 2.1 .1-2.3 .1 .4 .1-.1 .1 2.3 .1-3.6 .1 2.3 .1 1.7 .1-2 .1-.3 0 .1 .1-1.4 .1-.5 .1-1.8 .1 4 .1-2.2 .1 6.4 .1-7.6 .1 3.3 .1-2.2 .1 2.5 .1-1.3 0-.2 .1 2.1 .1 0 .1 3.9 .1-5.9 .1 1.2 .1 .2 .1-2.5 .1 1.5 .1 .2 .1 3.6 .1-3.5 .1 .7 0-2.1 .1 2.5 .1 1.2 .1-1.7 .1-3.5 .1 4.6 .1-3.7 .1 2.5 .1 3.2 .1-4.5 .1-3 .1 3.2 0 2.6 .1-1.4 .1 1.1 .1-6.4 .1 4 .1 4.9 .1-5.4 .1 .6 .1 2.5 .1-.7 .1-.9 .1-3.1 .1 3.9 0 .4 .1-3 .1 2.7 .1 .7 .1-1.5 .1-1.7 .1 1.2 .1 .9 .1-3.1 .1 .1 .1 5.1 .1-.8 0-.4 .1-1.2 .1-.7 .1 .5 .1-.3 .1-.7 .1 3 .1 1.5 .1-4.2 .1-1.6 .1 1.8 .1 1 .1-1.7 0 1.5 .1 1.7 .1-1.6 .1-1.9 .1 .7 .1-.6 .1 2 .1-1.8 .1-1.5 .1 3 .1 .3 .1-3 0 1.9 .1 2.2 .1-1.3 .1-2.9 .1 1.6 .1-2.6 .1 2.1 .1 .6 .1-1.3 .1 2.8 .1-2.9 .1 2 .1 .3 0-1.1 .1 1.5 .1 1.1 .1-.4 .1-2.5 .1 .4 .1 .4 .1-1.1 .1 2.8 .1-.9 .1-3.5 .1 4.4 0-3.8 .1 2.7 .1-1.4 .1 .5 .1 .8 .1-.6 .1-1.5 .1 2.9 .1 .4 .1-3.1 .1 2.1 .1-.4 .1 .1 0 .4 .1 2.3 .1-2.9 .1 .6 .1 1.5 .1-1.3 .1-1.4 .1-2.6 .1 3.9 .1-3.2 .1 3.1 .1-1.6 0 1.2 .1-1.7 .1 1 .1 1 .1 1.9 .1-4.3 .1 4.3 .1-1.6 .1-4.1 .1 2.6 .1 .3 .1-.1 .1-.2 0 1 .1-1.2 .1 .9 .1 .3 .1-1.4 .1-.3 .1 .5 .1-1 .1-1.6 .1 .2 .1 2.8 .1 2.1 0-3.9 .1 1.8 .1-1.2 .1 2 .1-2.1 .1 3.4 .1-2.3 .1 2.6 .1-5.8 .1 4 .1 3.1 .1-5.8 .1 .5 0-.7 .1 4.3 .1-2.6 .1-1.6 .1 2.6 .1-1 .1 1 .1 .2 .1-3 .1 3.8 .1-1.4 .1-1 0 .9 .1-1.4 .1 4.9 .1-5.4 .1 4 .1-1.7 .1 .3 .1-1.5 .1 1.2 .1 .4 .1-1.9 .1-2.4 .1 4.6 0 .1 .1-.2 .1 1.1 .1 0 .1-1.3 .1-2 .1 2.1 .1 .5 .1-1.2 .1 1.2 .1-6.1 .1 2 0 2.6 .1 3 .1-2 .1 .7 .1-.1 .1 2.2 .1-2.8 .1 .1 .1 .1 .1 1.1 .1-2.9 .1 2.1 .1 2.5 0-2.2 .1-3.2 .1-.6 .1 4 .1-1.7 .1-1.2 .1-.7 .1 2.4 .1-1.3 .1 1.3 .1 2.3 .1-4.7 0 1.7 .1-.8 .1 1 .1 1.2 .1-.7 .1-1.4 .1 2.8 .1-4.9 .1-1.3 .1 7.9 .1-5.6 .1 2.4 .1-1.8 0 .7 .1 .6 .1-1.9 .1 1.4 .1-2.4 .1 2 .1 3.1 .1-2.2 .1-.3 .1 .9 .1 1.2 .1-5.6 0 3.6 .1-.1 .1 2.8 .1-3.9 .1 1.2 .1-2.1 .1-1.1 .1 4.1 .1 .1 .1-3.3 .1 .2 .1 1.3 .1-.7 0 1.8 .1-.5 .1-.1 .1 3.8 .1-5.1 .1-.1 .1 3 .1-.7 .1-1.5 .1-.7 .1 1.2 .1 .9 0-1.6 .1 .5 .1 2 .1-1.2 .1 .1 .1-1.9 .1 3.5 .1-.9 .1-.7 .1-.8 .1-4.1 .1 4.5 .1-2.2 0 .5 .1-.9 .1-.8 .1 2 .1 2.7 .1-1.1 .1-3.2 .1-1.2 .1 1.5 .1-2 .1 3.1 .1 2.6 0-1.6 .1-.4 .1-1.1 .1 .1 .1 3.1 .1-3.7 .1 3.1 .1-1.5 .1-.7 .1-.1 .1 .4 .1 1.8 .1-.7 0-1.9 .1 2.5 .1 1.2 .1 2.5 .1-4.6 .1 1.6 .1-1.6 .1 1.9 .1-1.1 .1-.1 .1-2.4 .1 3.3 0 .5 .1-2.3 .1-1.3 .1 3.1 .1-2.6 .1 .9 .1-.9 .1 4.3 .1-3.5 .1 .6 .1-.9 .1 1.6 .1-1 0 3.7 .1-3.9 .1-2.5 .1 2.1 .1 .2 .1-.5 .1-1.9 .1 3.8 .1 1.4 .1-.7 .1-.8 .1-1.4 0-1.3 .1 2.8 .1 .5 .1-3.5 .1-.3 .1 3.3 .1-2.8 .1 1.8 .1 .5 .1-.7 .1 1.4 .1 1.5 .1-.5 0-1.2 .1-2 .1-.2 .1-.8 .1 3 .1-1.4 .1 2.6 .1-.9 .1-3.7 .1 2.1 .1-3.7 .1 2.2 0 2.1 .1 .4 .1 2.6 .1-6.3 .1 .6 .1-4.9 .1 2.8 .1 3.3 .1 2.5 .1 1.3 .1-2.5 .1-.7 .1 2.7 0-4.1 .1-.5 .1 3.6 .1-1.3 .1 2.1 .1-4.5 .1 3.5 .1 .5 .1 1.5 .1-1.8 .1 1.4 .1-5.3 0 .8 .1 3.5 .1-.7 .1-1.5 .1-.4 .1 2.2 .1-4.5 .1 1.3 .1-2.6 .1 9 .1-2.2 .1-4.4 .1 .9 0 1 .1 1.6 .1-3.2 .1 2 .1-3.6 .1 .4 .1 .4 .1 5.3 .1-4.2 .1-2.8 .1-.1 .1 1.1 0 .2 .1 3.6 .1-4.3 .1-.8 .1 2.8 .1-.2 .1 1.2 .1-.6 .1 .9 .1-1.5 .1 1.2 .1 2.6 .1-1.7 0-2 .1 .3 .1-2.4 .1 .9 .1-.6 .1 2.6 .1-2.2 .1 3.4 .1-.1 .1-3 .1 1.2 .1 2 0-3.4 .1-1 .1 1.3 .1-1.1 .1 .8 .1 0 .1 3.3 .1 2.1 .1-3 .1 5.7 .1-5.3 .1 1.1 .1-2.5 0 1.6 .1-1.4 .1 1.8 .1-1.3 .1-3.5 .1 5 .1 1.4 .1-6.3 .1 1.3 .1 1.5 .1 .8 .1-1.5 0 1.3 .1-2.6 .1 2.5 .1 .6 .1-2.4 .1 2.7 .1-2.7 .1 3.4 .1-1.3 .1-1.4 .1 1.7 .1-3.4 .1 2.2 0-.7 .1 4.4 .1-5.1 .1 .9 .1 4.2 .1-4.6 .1-.2 .1 2.1 .1 .8 .1 .6 .1-2.9 .1-.1 0 .5 .1-4.5 .1 4.1 .1-.4 .1 3.5 .1-3.9 .1-1.3 .1 3.7 .1-6.1 .1 5.4 .1-1.5 .1 1.1 .1 0 0 5 .1-7.6 .1 6.2 .1-7.1 .1 4.8 .1-1.2 .1-6.3 .1 7.2 .1-1.6 .1 2.1 .1-2.2 .1-1.3 0-2.4 .1 8.6 .1-5.3 .1-1.4 .1-.7 .1 3.5 .1-1.9 .1-3.7 .1 3.1 .1-3.7 .1 6.9 .1-1.1 .1-1.5 0 2.1 .1-3.5 .1 3.7 .1-3.1 .1 3.8 .1-1.4 .1-2.4 .1-.7 .1 3.2 .1 1.2 .1-4.4 .1 3.2 0-3 .1-1.9 .1 1.3 .1 4.6 .1-5.9 .1 .2 .1 3.6 .1-.4 .1-4 .1 2.3 .1-.3 .1-1.4 .1 1.1 0-5 .1 3.1 .1 2.6 .1 0 .1 .9 .1-3.4 .1 5.2 .1-4.5 .1 3.1 .1 2.7 .1-6.2 .1 1.2 0 .2 .1 1.3 .1-.7 .1 1.3 .1-4.4 .1-.1 .1 3.1 .1-.2 .1-.7 .1-1.4 .1 1.4 .1 1.5 .1-.6 0-1.2 .1 .9 .1 .5 .1-3.7 .1 1.8 .1-1.2 .1 4 .1-3.9 .1 1.8 .1 .5 .1 .9 .1-.1 0-.5 .1-1.3 .1 .3 .1-4.8 .1 3.4 .1 .5 .1 .7 .1 1.6 .1-.1 .1-2.7 .1 4.2 .1-7.3 .1 .1 0 7 .1-6.3 .1 .2 .1-.2 .1 1 .1-2.3 .1 5.6 .1-.9 .1-2.5 .1 1.2 .1 3.4 .1-5.4 0-.5 .1 2.8 .1-1.5 .1-1.4 .1 7.2 .1-3.8 .1 .7 .1-1.8 .1 2.5 .1 0 .1-3.6 .1-3.9 .1 7.2 0-6.9 .1 1.5 .1-.2 .1-.9 .1 4.1 .1-3.8 .1 6.3 .1-1.8 .1-2.8 .1-1.2 .1 5.2 .1 1.2 0-5.8 .1 .2 .1-1.1 .1 1.8 .1 3 .1-6.2 .1 .8 .1 1.4 .1-5.1 .1 4.7 .1-3.3 .1 4.1 .1 6.8 0-4.5 .1 3.9 .1-6.4 .1-3.7 .1 7.2 .1-6.3 .1 2.5 .1-3.1 .1 1.2 .1 3.4 .1-4.2 .1 1.5 0-2.5 .1-2.8 .1 5.4 .1-4.9 .1 4.4 .1-2 .1 1 .1 2.1 .1-2.2 .1 1.4 .1-2.8 .1 4.2 .1-.4 0-5 .1 .8 .1-.3 .1-.1 .1-1.4 .1 1.4 .1-1.3 .1 4.4 .1-3.6 .1 3.2 .1 1.2 .1-2.8 0-2.6 .1 1.6 .1-4.9 .1 2.8 .1 .6 .1 .7 .1 3.8 .1-4 .1 0 .1-4.9 .1 6.8 .1-2 .1 1.5 0-2.5 .1 5.1 .1-5.9 .1 .7 .1-.7 .1-7 .1 7.5 .1-1.8 .1 1.3 .1-3.4 .1-3.4 .1 1.4 0 3.7 .1 4.4 .1-5 .1 5.8 .1-2.4 .1-1 .1 1.3 .1-3.4 .1 .9 .1 1 .1-3.5 .1 3.1 .1-6.2 0 1.8 .1 3 .1-2.8 .1 3.1 .1-.3 .1-5.1 .1 7.6 .1-6.3 .1-4.6 .1 12.3 .1-14.2 .1 12.9 0 .8 .1-.6 .1-3 .1-2 .1 3.9 .1-5.5 .1-3.3 .1 4.7 .1-3 .1-1.8 .1-3.7 .1 5.5 .1-2.7 0 .4 .1 1.2 .1 1.1 .1-2.5 .1-1.3 .1 6.2 .1-3.2 .1-2.5 .1-.1 .1-.4 .1-4.4 .1 1.6 0 7.3 .1-9.5 .1 7.3 .1 .1 .1-6.5 .1 4.4 .1 4.3 .1-7.9 .1 .3 .1-.5 .1 6.2 .1-7.6 .1 4.5 0-5.3 .1 6.9 .1-1.2 .1 3.2 .1-4.3 .1-6.5 .1 2.6 .1 2.5 .1-7 .1 3.8 .1-2.2 .1 1.2 0 1.3 .1-1.1 .1-1.4 .1-2.7 .1 1.6 .1-1.3 .1 6.8 .1 2.4 .1-8 .1 .3 .1-1.3 .1 4.9 .1-4.4 0 4 .1-4.4 .1 .3 .1 .1 .1-2 .1 2.6 .1-2 .1-2.9 .1-3.3 .1 3.7 .1-1.8 .1 .6 0-4.3 .1-1.9 .1 9.8 .1-5.2 .1 1.1 .1-5.1 .1 14.7 .1-7 .1 3.8 .1-12 .1 3.8 .1-1.8 .1 .7 0 .2 .1-.9 .1 2.9 .1 5.8 .1-9.3 .1 1.2 .1 1.6 .1-.2 .1-7.7 .1 7.6 .1 .9 .1-7 0-3.4 .1 10.4 .1-1.5 .1-.1 .1-6 .1-1 .1-3.7 .1 5.4 .1 .5 .1 1 .1-7.2 .1 6.5 .1 .6 0-2.7 .1-1.1 .1-2.1 .1 3.8 .1-9.9 .1-1.1 .1 12 .1-5.5 .1 4.3 .1-3.3 .1 3.5 .1-4.2 0-2.6 .1 .1 .1 5.8 .1 2.4 .1-1 .1-13 .1 5.4 .1-1.4 .1-6.1 .1 9.9 .1-6.3 .1 4.2 .1-4 0 8.4 .1-6.6 .1-1.8 .1-1.1 .1 6.2 .1-5.4 .1-5.2 .1 3.8 .1-4.5 .1 .5 .1 1.4 .1 2.3 0-2.3 .1 4 .1-7.3 .1 1.1 .1-4.1 .1-5.1 .1 5.8 .1 .8 .1 1.3 .1-3.3 .1-2.7 .1 6.9 .1 4 0 .1 .1-10.9 .1 2 .1-.7 .1 9.5 .1-5.3 .1 4.1 .1-2.3 .1-2.9 .1 .1 .1-10.6 .1 12.5 0-3.3 .1 .2 .1-4.1 .1-3.3 .1 6.6 .1 3.6 .1-6.1 .1-4.1 .1 6.4 .1-9.8 .1 8.8 .1-2.1 .1-1.3 0-11.3 .1 4.8 .1 1.6 .1 6 .1 .1 .1-2.3 .1-11.1 .1 1 .1 5 .1 3.7 .1 4.6 .1-6.5 0-5 .1-.6 .1 .5 .1 4.8 .1-6.2 .1 2.9 .1-5.3 .1 2.6 .1-2.9 .1 1.8 .1 3.5 .1-8.3 .1 10.3 0-8.6 .1 5 .1-.7 .1-3.5 .1 3.5 .1 2.1 .1-.8 .1 .6 .1-6 .1-1.7 .1 1.6 .1 6.8 0-8.6 .1-4.3 .1 9.9 .1-1.5 .1-9.3 .1 5 .1-6.5 .1 6.7 .1 5.1 .1-7.3 .1-.2 .1-2.1 .1 5.4 0-2.3 .1-12.7 .1 12.6 .1-11 .1 13.2 .1-7.1 .1-1 .1-2.8 .1 4 .1 3 .1-4.1 .1 7.7 0 4.8 .1-5.1 .1-16 .1 3.4 .1-5.4 .1 6.6 .1 9.6 .1-2.7 .1-6.9 .1 5.6 .1 .3 .1 .4 .1-1.9 0 5.6 .1-12.1 .1 5.5 .1-10.3 .1-2.3 .1 8.5 .1-5.9 .1-.5 .1 4.3 .1 1.7 .1-7.7 .1 3 0 4.1 .1 1.4 .1-2.8 .1-5.1 .1 1.1 .1 6.4 .1-2.5 .1-1.8 .1 2.7 .1-1.8 .1 4.3 .1-1 .1-5.9 0 .1 .1 2.6 .1-12.9 .1 11.9 .1-4.7 .1 2 .1 3.7 .1-6.1 .1-2.3 .1 5.5 .1-2.7 .1-12.3 0 19.2 .1-3.7 .1-4.2 .1 2.9 .1 4.1 .1-1.9 .1-1.4 .1 .1 .1-1.8 .1-8.1 .1 7 .1 3 .1-5.6 0 .1 .1 8.9 .1-2.5 .1 2.4 .1-7.4 .1-2.8 .1 5.5 .1-7.6 .1 9.3 .1-1.4 .1-1.3 .1-1.3 0-7.8 .1 14.4 .1-8.7 .1 2.5 .1-5.8 .1 13.1 .1-1 .1-14.8 .1 2.3 .1 .9 .1 6.3 .1-6.2 .1 5.5 0 5.7 .1-4.9 .1 .7 .1 4.1 .1-2.4 .1 .7 .1-6.3 .1-2.2 .1-.7 .1 .2 .1 11.2 .1-8.4 0-1.1 .1 2.1 .1 7.1 .1 10.3 .1-15.7 .1 5.2 .1-8.8 .1 12.3 .1-10.3 .1 5.2 .1 4.8 .1-4.4 .1-1.4 0-4.9 .1 .3 .1-2.1 .1 2.7 .1 6.4 .1 0 .1-2.8 .1 2.7 .1 6.9 .1 2.3 .1-14.3 .1 3.5 0-9.2 .1 12.9 .1-7.7 .1 4.7 .1-1.5 .1 2.4 .1-5.1 .1 3.3 .1 5.2 .1-1.6 .1 .9 .1-1.3 .1-.5 0 3.5 .1 1 .1-2.6 .1 9.2 .1-10.7 .1 .4 .1 17.8 .1-9.8 .1-5.1 .1 11.4 .1-13.2 .1-2.4 0 2.9 .1-2.1 .1 5.5 .1-4.4 .1 1 .1 4.5 .1-.8 .1 9 .1-1.2 .1-11.4 .1 .2 .1 9.5 .1 3.8 0 2.6 .1-15.1 .1 4.3 .1-7.4 .1 3.5 .1-3.3 .1 6.2 .1 7.1 .1-.7 .1-6.7 .1 12.7 .1-9.4 0 5.1 .1-7.8 .1 9.2 .1 1.3 .1-7.9 .1 20.6 .1-20.3 .1 4 .1 4.7 .1-5.7 .1 5.9 .1-5 .1 3 0-2.8 .1 8.5 .1-1 .1-11.6 .1 7.7 .1 2.7 .1 3.8 .1-1.5 .1-3.1 .1 7.1 .1-5.1 .1 1.4 0 8.4 .1-8.9 .1-5.3 .1 8.1 .1-.6 .1-1.8 .1 4.4 .1 5.6 .1-7.8 .1 2.6 .1 1.3 .1-9 .1 6.3 0 4.3 .1 .1 .1-10.1 .1 4 .1 12.2 .1-10.5 .1 5.4 .1 .8 .1-7.4 .1 2.3 .1 7.4 .1-3.4 0-2.5 .1 3.7 .1-2 .1 5.4 .1-8.5 .1-.3 .1 9.7 .1 3.8 .1-3.9 .1-5.5 .1 3.3 .1 1.5 .1-.6 0 7.6 .1-5.9 .1 .6 .1 2.7 .1-5.8 .1 6.6 .1 .3 .1-5.4 .1 .7 .1 2.8 .1-.4 .1-.3 0 .6 .1 6 .1-7.4 .1-4.6 .1 7.3 .1 3.1 .1-5.7 .1 2.6 .1 6.2 .1-2.4 .1 2.4 .1-6.4 .1 10.2 0-10.4 .1 8.4 .1-3.7 .1 3.4 .1-3.1 .1-2.8 .1 2.5 .1 8 .1-3.6 .1-1.3 .1-6.8 .1 10.1 0-.1 .1 1.9 .1-2.6 .1-2.6 .1 7.1 .1-9.4 .1 .9 .1 2.2 .1 1 .1-6.9 .1 14.4 .1-1.8 .1-10.4 0 13.8 .1-5.8 .1 2.2 .1 3.4 .1 .3 .1-2.6 .1-1.6 .1-.5 .1-.1 .1 2.4 .1 .4 .1-1.9 0 5.2 .1 3 .1-8.2 .1 11.7 .1-10 .1-2.4 .1 10 .1 4.1 .1-5 .1-4.2 .1 5.2 .1-7.3 .1 1.7 0 6.6 .1-6.4 .1 8.6 .1-3.4 .1-2.3 .1-3.9 .1 2.3 .1-2.3 .1 11.3 .1-17.2 .1 15.6 .1-4 0-4.5 .1 4.1 .1-2.2 .1 9.3 .1-.2 .1-2.2 .1 .7 .1-2.2 .1 1.8 .1 3.4 .1-4.8 .1 6.2 .1-2.4 0-3.4 .1 4.7 .1-3 .1-2.1 .1-2.8 .1 1.3 .1 1.4 .1 1.6 .1 6.6 .1-1.2 .1 .3 .1-.9 0-1.3 .1 3.2 .1-1.6 .1-5.3 .1 5.8 .1 5.5 .1-5.6 .1-.3 .1 1 .1-8.5 .1 4.5 .1-2.4 .1 8.2 0-4.5 .1 2 .1 1.4 .1 2.8 .1-3.4 .1 7.6 .1-9.7 .1-6.1 .1 4.7 .1 12.4 .1-7.5 .1 3.4 0-.3 .1-.9 .1-4.7 .1 1.7 .1 5.5 .1-4.5 .1 1.6 .1-6.1 .1 11.9 .1-4.3 .1 2.9 .1-2.8 .1 6.8 0-3.5 .1-2.5 .1 1.8 .1 1.2 .1-2.3 .1 1.6 .1 1.4 .1-2.1 .1-.7 .1-.8 .1 6.9 .1-4.1 0-4.9 .1 8.6 .1-4.9 .1 2.2 .1-4.9 .1-.3 .1 3.3 .1 2.6 .1 3.6 .1-3.2 .1 1.2 .1-2.6 .1-4.6 0-1 .1 5.2 .1 .7 .1 1 .1-1.2 .1 1.7 .1-5.9 .1 8 .1-2.6 .1 2.4 .1-4.6 .1-2.5 0 3.7 .1 1.6 .1 .5 .1-1.4 .1 3.3 .1-6.3 .1-.2 .1 2.5 .1 .7 .1 3.8 .1-6.5 .1 9.7 .1-1.8 0-8.4 .1 7.7 .1 1.3 .1 2.7 .1-7.9 .1-.3 .1 3 .1 5.6 .1-4.4 .1 2.2 .1-4.9 .1-1.5 0 3.2 .1 .1 .1-3.1 .1-.3 .1 8.5 .1-4.6 .1 4.8 .1-1.1 .1-5.4 .1 6.6 .1-2.6 .1-3.9 .1 2.4 0 6.1 .1-4.3 .1 .5 .1 2 .1-8.2 .1 5.7 .1 .2 .1-2.7 .1 2.6 .1 4.2 .1-3.6 .1-1.1 0 .9 .1-2.4 .1 .6 .1 1.1 .1 2 .1-.5 .1-5.1 .1 10 .1-7.5 .1 1.9 .1 3.3 .1-1.8 .1-1.6 0 5.6 .1-4.2 .1-1 .1 4.1 .1-2.7 .1-3.3 .1 3.3 .1 3 .1 2 .1 .6 .1-7.3 .1 3.3 0-.2 .1 .4 .1 1.5 .1-6.6 .1 2.9 .1-2 .1 7.3 .1-4.8 .1 0 .1 4.8 .1-.6 .1 0 .1-4.8 0 2.2 .1 2.5 .1-3.6 .1 3.7 .1-2 .1 .6 .1 2.1 .1-4.6 .1 2.4 .1 6.2 .1-5.4 .1-4.3 0 9.8 .1-8.1 .1 1.8 .1 3.8 .1-3 .1 3 .1 1 .1-4.8 .1 .3 .1 5.5 .1-3.2 .1-1.4 .1 4.2 0-6.7 .1 4.7 .1-2.8 .1-.6 .1 4.1 .1-3.2 .1 .7 .1-.7 .1 2.2 .1-3.5 .1 .7 .1-2 0 1.3 .1 6.1 .1-1.9 .1-2.4 .1-1.4 .1 4.3 .1-1.7 .1-.7 .1 1.1 .1-2.7 .1 5.1 .1-3.7 .1 3.3 0-3 .1 3.4 .1-1.5 .1-2.9 .1 4.7 .1-2.5 .1-1.3 .1 1.9 .1 .4 .1-.6 .1 2.2 .1-3.9 0 .1 .1-2.4 .1 3.6 .1-1.9 .1 3.9 .1-2.3 .1 3.4 .1-2.7 .1 1.4 .1-3 .1 7.2 .1-4.4 .1 .4 0-2.3 .1 3.4 .1-.7 .1-4 .1 4.6 .1-.5 .1-3.6 .1 7.7 .1-5.9 .1 .2 .1 .3 .1 4.9 0-.9 .1-1.3 .1 .1 .1-3.5 .1 2.6 .1-4.3 .1 3.4 .1-1.4 .1 3 .1-.1 .1-2.3 .1-1 .1 3.6 0-4.5 .1 3.6 .1-4.1 .1 6.5 .1-2 .1-2.3 .1 1.7 .1 1.2 .1-2.7 .1-.7 .1 3.2 .1-2.7 0 2.8 .1 .9 .1-4.8 .1 4.3 .1-.1 .1-2.8 .1 4 .1 0 .1-1.6 .1-.7 .1-1.9 .1 2.6 .1 1.1 0 1.5 .1-2.2 .1 .4 .1-3.6 .1 6.2 .1 .5 .1 .2 .1-3.6 .1-1.5 .1-2.7 .1 7.4 .1-4 0 1.8 .1-5 .1 2.9 .1-2.6 .1 3.5 .1-2.4 .1 1.6 .1 2.3 .1-3.5 .1 2.8 .1 4.4 .1-4.8 .1 2.6 0-3.9 .1-2.2 .1 2.8 .1-.6 .1 4 .1-.9 .1-.4 .1-5.7 .1 5.4 .1-1.5 .1 4.7 .1-2.9 0-1.4 .1 .6 .1 .4 .1-1.6 .1-.1 .1 3.8 .1 .3 .1-4.1 .1-.6 .1 4.9 .1-4.5 .1 4.6 .1-2.7 0-3.1 .1 6.4 .1-3.5 .1 .5 .1 2 .1-4.1 .1 3.7 .1-.5 .1 .9 .1-3.3 .1-.2 .1-1.8 0 3.6 .1 1.3 .1-5.1 .1 4.7 .1-2.8 .1-2 .1 1.8 .1 5.7 .1-1.6 .1-.6 .1-3.5 .1 3.6 .1-3.4 0 1.2 .1 .2 .1 .4 .1 1.6 .1-4.5 .1 2.7 .1-3 .1 5.3 .1 1.7 .1-6.7 .1 5.6 .1-2.7 0 1.1 .1-.5 .1 .4 .1 1.7 .1 .2 .1-3 .1 2.1 .1-5.3 .1 3.6 .1-2.8 .1 4 .1-2.7 .1 3.1 0 .7 .1-1.5 .1 0 .1-6 .1 8.4 .1-1.4 .1-2.9 .1 1.9 .1-.6 .1-1.3 .1 1.9 .1 1.3 0 1.4 .1-2.7 .1-1.3 .1 .7 .1-2 .1 3.4 .1-1.5 .1 2.4 .1 2.4 .1-5.3 .1 2.2 .1-2.3 .1 2.7 0 2 .1-1.4 .1-1.2 .1 .8 .1-.8 .1-1.8 .1 1.3 .1-1 .1 1.3 .1 1.1 .1 .7 .1 2.5 0-5.8 .1-1 .1 4.4 .1-.1 .1-.2 .1-2.5 .1 .6 .1 .7 .1-.4 .1 3.4 .1-3.2 .1 .2 .1-1.4 0 2.5 .1-.4 .1-1.5 .1-5.1 .1 6.8 .1-5.4 .1 6.1 .1-2 .1 2.1 .1-4.8 .1 2.6 .1-.1 0-1.7 .1-.6 .1 4.1 .1-1.8 .1 1.5 .1-3.4 .1 6.8 .1-8.9 .1 5 .1 3.8 .1-4.8 .1 2.3 .1-1.8 0-.1 .1-1.9 .1 5.9 .1-4.5 .1-1.6 .1 5.1 .1-4.2 .1-.1 .1 2.8 .1 2.8 .1-4.2 .1 1.3 0-4.2 .1 3.7 .1-1.9 .1 .8 .1 .3 .1 2.9 .1-1 .1-1.7 .1 .4 .1 .1 .1-1.8 .1 1.5 .1-1.3 0 1.3 .1-.6 .1 1.8 .1 2 .1-4.7 .1 0 .1 .4 .1 3 .1-3.9 .1 2.1 .1-.2 .1 1.8 0-.4 .1 .3 .1-2 .1 2.1 .1-1.3 .1 1.1 .1 1.5 .1-2.7 .1-.1 .1 .1 .1 6.1 .1-8 .1 2.1 0 1.9 .1-5.7 .1 3.8 .1-1.4 .1 1.2 .1 4.9 .1-7 .1 4.7 .1-4.4 .1 2.4 .1 1.5 .1 3.1 0-3.9 .1 1.1 .1-2.1 .1 2.3 .1-3.6 .1 2.5 .1-.1 .1-4.9 .1 2.4 .1 2.9 .1-2 .1 3.9 .1-1.7 0-1.1 .1 1.1 .1 .6 .1-3.3 .1 2.5 .1 .4 .1-.4 .1 .1 .1-2.8 .1 1 .1 3.5 .1-5.5 0 .5 .1 2.7 .1 1.4 .1-2 .1 1.2 .1-2.1 .1 1.1 .1-2.6 .1 5.7 .1-2 .1-1.7 .1 1.5 .1-.1 0 1.4 .1-5.9 .1 4.1 .1-1.7 .1 2.8 .1-.6 .1-.7 .1-3.3 .1 .5 .1-1.3 .1 1.1 .1 0 0 3.3 .1 1 .1-3.9 .1 3.9 .1-2.4 .1 2.3 .1 .8 .1-2.1 .1 1.8 .1-1.1 .1-2.2 .1 2 .1-2.3 0 2.8 .1-1.5 .1 2.6 .1-4.4 .1 6.4 .1-4.4 .1-.5 .1 6 .1-1.8 .1-.2 .1-2.8 .1 .4 0 .1 .1-1.8 .1-3.1 .1 6.3 .1-2.6 .1 .6 .1-2 .1 6.1 .1-.9 .1-1.1 .1 .1 .1-2.5 .1 1.3 0 3 .1-2.4 .1 1.6 .1-1.6 .1-1 .1 1.1 .1-3.8 .1-1.9 .1 3.3 .1 3.9 .1-5.7 .1-1.2 0 4.3 .1-1 .1-1.4 .1 1.7 .1-2 .1 1.4 .1 2.2 .1-.2 .1-.5 .1 .8 .1-3.7 .1 1.9 .1 1 0-1.9 .1 1.4 .1-1.8 .1-1.1 .1 2.7 .1 1.4 .1 1.2 .1-5.6 .1 2.7 .1 1.8 .1-.9 .1 1.9 0-4.6 .1 1.9 .1 1.3 .1 2.1 .1-6.7 .1 3.7 .1 4.4 .1-3 .1-1.1 .1-.3 .1 2.3 .1-4.1 .1 1 0 1 .1 1.4 .1 2.1 .1-2.5 .1-.4 .1 1.8 .1-2.8 .1-.9 .1 2.4 .1-.1 .1-.7 .1-3.2 0 .5 .1 5.7 .1-2.1 .1-5.7 .1 5.4 .1-3.9 .1 2.4 .1-1.4 .1 3 .1-.9 .1-.8 .1 1 .1 .1 0-2.7 .1 2.9 .1-2.7 .1 3.6 .1-.6 .1-1.9 .1 .4 .1-.8 .1 1.7 .1 .2 .1 .8 .1 2 0-2.1 .1-2.7 .1 2.1 .1-.5 .1-1.9 .1 3.9 .1-2.3 .1 1.7 .1-3.1 .1 4.8 .1-2.1 .1 .3 .1-.3 0 .4 .1-4.4 .1 3.8 .1-.1 .1 2.4 .1-.2 .1-1.1 .1 .9 .1-3.2 .1 2 .1-.2 .1-.5 0 1.4 .1 .6 .1-1 .1-1.6 .1 .5 .1 1.4 .1-4.4 .1 2.2 .1-.5 .1-1.6 .1 4.4 .1-3.3 .1 1.2 0 0 .1 3.3 .1-1.3 .1-1.5 .1 .1 .1-2.9 .1 3.5 .1-1.1 .1 1 .1 1.8 .1-1.7 .1-.8 0-2.9 .1 .8 .1 3.3 .1 .6 .1-1.6 .1 1 .1-5.4 .1 2.9 .1 1.6 .1 .9 .1 .9 .1-1.7 .1 4.4 0-3.9 .1 .2 .1-3.6 .1 5.9 .1-4.7 .1 2.2 .1-2 .1 2.7 .1-2 .1-.8 .1-3 .1 5.9 0-1.2 .1 0 .1 .9 .1-.9 .1-.2 .1 .6 .1 2.5 .1-3.5 .1 3 .1-2.4 .1-1.9 .1 4 .1-2 0-.6 .1 .5 .1 .7 .1-.8 .1-1.2 .1 3 .1-1.5 .1-1.5 .1 2.3 .1 1.1 .1-3.5 .1 .1 0-.4 .1 1.7 .1 1.1 .1-3.8 .1 .5 .1 .8 .1 2.3 .1-1.1 .1 1.7 .1 .3 .1-2 .1-.3 .1-.5 0 .8 .1-3.4 .1 5.4 .1-4.1 .1 3.1 .1-2.4 .1 3.3 .1-5.5 .1 1.3 .1 5.4 .1-5.1 .1 1.9 0-1.2 .1 1.6 .1 .2 .1 2.2 .1-1.6 .1-.8 .1 2.9 .1-1.2 .1-1.7 .1-.8 .1 1.6 .1-3.2 .1 3.3 0-2 .1-1.2 .1 3.7 .1-3.4 .1 2.3 .1 1.2 .1-4.3 .1 0 .1 3.4 .1-2.4 .1 .1 .1 1.8 0-3.9 .1 4.1 .1 .9 .1-1.2 .1 .3 .1 .5 .1-.2 .1 1.8 .1-3.4 .1 3.5 .1-4.3 .1 .7 .1 1.9 0 0 .1 .4 .1-1.1 .1-3 .1 2.4 .1 1.4 .1-3.8 .1 3.7 .1-.1 .1-4.3 .1 2.6 .1-.9 0 1 .1 .1 .1-.2 .1-.2 .1-2.5 .1 5.9 .1 2.1 .1-3.6 .1 2 .1-2.8 .1 2.4 .1-2.2 .1-1.8 0 2.8 .1 .4 .1-2.7 .1 2.7 .1-1.1 .1 .1 .1 2 .1-3.9 .1 3.5 .1-3.4 .1 .9 .1 2.5 0-1.2 .1-2.1 .1 2 .1-4.3 .1 5.5 .1-3.8 .1 5 .1-2.5 .1-2.1 .1 5 .1-3.7 .1 2.3 .1 .4 0-1 .1-.3 .1-.1 .1 .2 .1 .5 .1 3 .1-6.9 .1-1.3 .1 2.9 .1 1.3 .1 1.2 .1-2.2 0 0 .1 2.1 .1-1.3 .1-1.6 .1 .8 .1 .6 .1-.3 .1 1.5 .1-1.2 .1-.2 .1 1.4 .1-1 .1-1.8 0-.2 .1 5.5 .1-1.2 .1-4.2 .1 1 .1-.1 .1 3.2 .1-2.5 .1-.9 .1 .3 .1 2 .1-.3 0-1.5 .1 .2 .1-1.9 .1 6.1 .1-2.8 .1-3.2 .1 4.1 .1-2.1 .1-2.3 .1 4.2 .1-2.3 .1-2.7 .1 5.5 0 1.2 .1-5.2 .1 2.6 .1-.7 .1-.2 .1-2 .1 2.6 .1-2.2 .1 .4 .1 1.3 .1-1.8 .1 1.3 0 .7 .1-5.4 .1 8.7 .1-1.5 .1-.2 .1-1 .1-1 .1 .6 .1-4.2 .1 4.7 .1 1 .1-1.9 .1 .8 0 .1 .1-2.4 .1 1.1 .1-1.4 .1 3.7 .1-2.8 .1 1 .1 1.1 .1 1.6 .1-2.5 .1 1.8 .1-3.2 0 .5 .1-.1 .1-3.9 .1 2.6 .1 5.6 .1-4.5 .1 .7 .1 0 .1 1.2 .1-2.4 .1 6.4 .1-2.5 .1-3.4 0 .8 .1-1.3 .1 2.3 .1 .2 .1-2.2 .1 1 .1 3.3 .1-4.6 .1 3.5 .1-3.4 .1 1.2 .1-.7 0-.7 .1 3.5 .1-2.9 .1 1.2 .1 .4 .1-.5 .1 .9 .1-.9 .1-.4 .1 1.6 .1-3 .1 1.7 .1 2.1 0-2.7 .1-.1 .1 3.3 .1-2.9 .1 1.1 .1-1 .1 .7 .1-1 .1 .4 .1 4.2 .1-4 .1-.8 0-.3 .1-.9 .1 1.5 .1-1.6 .1 .8 .1 2.2 .1 .4 .1-3.3 .1 .9 .1 4.2 .1-1.2 .1-3.7 .1 1.7 0 3.2 .1-3.7 .1-.9 .1 .6 .1 1.2 .1 .2 .1 .6 .1 0 .1-1.4 .1-3.8 .1-.1 .1 4.7 0 2.2 .1-2.3 .1 .3 .1-.1 .1 2.5 .1-2.8 .1 1 .1-1.2 .1 2.8 .1-2.7 .1 2.1 .1-.6 .1-.4 0-.1 .1 0 .1 0 .1 .1 .1 .1 .1-.2 .1-.3 .1-3.8 .1 1.6 .1 2.6 .1 1.3 .1-4.3 0 2 .1-.6 .1-1.4 .1 5.2 .1-2.2 .1-1.3 .1-2.1 .1 2.5 .1-.2 .1 .2 .1 0 .1-.3 .1 1.2 0 .2 .1-.5 .1-1.7 .1-1 .1 1.8 .1 .7 .1-2.6 .1 1.2 .1-.3 .1 1.4 .1 .5 .1-1.5 0 1.1 .1-2.2 .1 3.4 .1-2 .1 .5 .1 1.8 .1-1.1 .1 1.1 .1-1.1 .1-.2 .1-4.9 .1 6.2 .1-2.8 0 1.9 .1-1.4 .1 1.2 .1 .7 .1-3.7 .1 .5 .1 4.8 .1-2.7 .1 .4 .1 2.1 .1-3 .1-.5 0 .7 .1-.7 .1-2.2 .1 3.8 .1-2.9 .1-1.5 .1 8.5 .1-4.5 .1-2.7 .1 1.8 .1 1.6 .1-3.5 .1 .9 0 4.2 .1-4 .1 1.6 .1-.6 .1 2.3 .1-2.9 .1 .7 .1 1.8 .1-1 .1-2.9 .1-.2 .1 5.1 0-3.4 .1 1.4 .1 .3 .1-1.3 .1-2.1 .1 1.6 .1 2.6" fill="none" stroke="#e8383f" stroke-width="0.85"/>
<path d="M57.9 737.5l.1-.6 .1-1.1 .1 1.9 .1-.3 .1-.2 .1-.7 0 4.1 .1-5.3 .1 1.7 .1 .5 .1 1.8 .1-2.2 .1-2.8 .1 4.2 .1 1.7 .1-3.4 .1 .7 .1 .1 0 2.4 .1-3.1 .1-.4 .1 8.1 .1-7.3 .1-1 .1 2.7 .1 2 .1-3.6 .1-3.4 .1 2.9 .1-3.1 .1 3.2 0 .9 .1 .9 .1-3.6 .1 4.5 .1-1.2 .1-.3 .1-1.2 .1 .4 .1 2.5 .1-.5 .1-4.7 .1 2.6 0 .2 .1 .6 .1-1.1 .1 1.7 .1-3.1 .1 .5 .1 1.4 .1-1.5 .1 1.7 .1 .5 .1-2.4 .1 1.8 .1 1.2 0-4 .1 3 .1-1.1 .1-1.8 .1 4.6 .1-1.5 .1-2.2 .1 2.1 .1 .3 .1-.5 .1 .2 .1 0 0-1.1 .1 .5 .1-2.7 .1 2.3 .1-2.3 .1 2.6 .1-2.7 .1 3.1 .1-2.2 .1 1.7 .1-2.4 .1 4 .1-.6 0-1.4 .1 2.3 .1-4.1 .1 2.8 .1-1.2 .1-.8 .1 .7 .1 2.2 .1 1 .1 .5 .1-1.3 .1-.2 0 .1 .1-2.1 .1 3 .1 .4 .1-3 .1-2.6 .1 4.5 .1-1.4 .1-.1 .1-1.9 .1 .4 .1 2.2 .1-2.3 0 1.4 .1-1.2 .1-1.7 .1 6.7 .1-1.3 .1-.1 .1-.2 .1-2.3 .1 0 .1-2.7 .1 .6 .1 1.8 0 .7 .1-1.3 .1 .4 .1 1.5 .1-2 .1 2 .1-.6 .1 0 .1 .8 .1 .1 .1-1.2 .1 .3 .1 1.8 0-4.8 .1-.1 .1 .1 .1 .8 .1 2.1 .1 1.5 .1 .1 .1 1.2 .1-2.4 .1 2.3 .1-3 .1-.3 0 1.4 .1 0 .1-.8 .1-1.1 .1 1.5 .1-3.4 .1 4.3 .1-.4 .1-.2 .1-.5 .1-.7 .1-.6 .1 1.5 0-3.2 .1 5.7 .1-3.5 .1 .4 .1 2.3 .1 .1 .1-2.5 .1-1.8 .1 1.3 .1 .8 .1 .4 .1 .3 0-.2 .1-1.7 .1-.7 .1 .8 .1 2.1 .1-2.1 .1-.8 .1 4.8 .1-3.6 .1 1.4 .1-1.1 .1 2.3 .1-.3 0-1.6 .1 .7 .1-.1 .1 .7 .1-2.2 .1-1.1 .1 3.4 .1-2 .1 1.1 .1-1.1 .1-1.4 .1 1.4 0 .6 .1 1.5 .1-3.6 .1-.8 .1 5.9 .1-4.2 .1 1.3 .1 1.8 .1-5 .1 2 .1-2.6 .1 4.8 .1-.6 0 1.7 .1-2.6 .1 2.9 .1-2.2 .1-2.4 .1 1 .1-.8 .1 1.4 .1-1 .1 1.4 .1 1.9 .1-2.9 0 .9 .1 1.2 .1 .6 .1-3.9 .1 4.8 .1-1.4 .1-2 .1-.4 .1 .6 .1 2.9 .1-4.3 .1 2 .1 2.2 0-4.2 .1 1.9 .1 2.9 .1 1.4 .1-4.2 .1 .8 .1-1.5 .1 .2 .1 1.6 .1-2.1 .1 .4 .1 2.1 0-3.1 .1 1 .1 .7 .1-.9 .1 1.9 .1 0 .1-1.2 .1 1.4 .1-4.1 .1 2.1 .1-.8 .1-1.8 .1 .6 0-1.1 .1 4.9 .1-4.2 .1 3.5 .1-.4 .1-.7 .1 .2 .1 .2 .1-.6 .1-2 .1 6.2 .1-1.2 0-.3 .1-2.7 .1 .3 .1-.5 .1-2.5 .1 3.1 .1 2.5 .1-3.2 .1-2.3 .1-.3 .1 3.5 .1-.4 .1-.3 0-.5 .1 1.3 .1 .5 .1-3.4 .1 0 .1 2.6 .1 1 .1 .1 .1 .8 .1 .2 .1-1.6 .1 .7 0-1.7 .1 1.4 .1 .6 .1-.9 .1 3.6 .1-4.8 .1 1 .1-2.8 .1 3.1 .1-.5 .1 1.3 .1-5.1 .1 3.1 0-1.6 .1 2.6 .1-1.6 .1 2.6 .1-.5 .1-.6 .1 1 .1-2.7 .1-.2 .1-.6 .1 3.6 .1-.6 0-.9 .1-1.2 .1 3.2 .1-1.6 .1-2.2 .1 1.5 .1 .4 .1 1.7 .1-1.3 .1-1.8 .1-.5 .1 4.5 .1-3.5 0 1.3 .1 1 .1-4.8 .1 2 .1 3 .1-.1 .1-2 .1 2.8 .1-2.2 .1-1.2 .1 3.1 .1-2.5 0-.5 .1 1.9 .1-1.8 .1-.5 .1 .4 .1 1.9 .1-2.6 .1 2 .1-.9 .1 .2 .1 .1 .1 3.5 .1-5.3 0 1 .1 .6 .1-.8 .1 1.7 .1-.5 .1-1.1 .1 4.6 .1-2.5 .1-.2 .1-.5 .1 .4 .1 .4 0-1.8 .1-.9 .1 .6 .1-1 .1 .9 .1-1.7 .1-.2 .1 3.5 .1 .6 .1-.4 .1-.4 .1-1.8 .1 .3 0 .5 .1 1.5 .1-.4 .1-.4 .1-.7 .1 5.5 .1-5.6 .1-.4 .1 2.1 .1-3.7 .1 1.1 .1 .1 0 4 .1-4.2 .1 1.1 .1 0 .1 4.3 .1-1.3 .1-2.2 .1 1.8 .1-4.6 .1 4.2 .1-3.2 .1 .6 .1-4.2 0 4.8 .1-2.5 .1 3.3 .1 1.2 .1-2.6 .1-1.6 .1 3.1 .1-2.7 .1 .8 .1 1 .1-.4 .1 .1 0 1.3 .1-1.3 .1-.5 .1 2 .1 3.3 .1-5.7 .1 2.3 .1-2.2 .1 2.5 .1-2.2 .1 1.1 .1 .2 .1-.5 0-.7 .1 3.7 .1-5.3 .1 .4 .1 1.2 .1 3.4 .1-4.3 .1 1.4 .1-2.9 .1 3.7 .1-.4 .1-2.1 0 5.5 .1-3.1 .1-.4 .1 3.8 .1-2.5 .1-2 .1-.2 .1-2.4 .1 1.3 .1 4 .1-3.8 .1 .8 .1 .4 0 2.2 .1-5.3 .1 .2 .1 2.6 .1 1.9 .1 .6 .1 0 .1-3.6 .1 4.6 .1-5.1 .1 2.4 .1-1 0-.7 .1-2.9 .1 2.9 .1 1.6 .1-1 .1 .4 .1 .2 .1-.1 .1 1.9 .1-2.3 .1 3 .1-4.5 .1 2.7 0 1.4 .1-3.3 .1 0 .1 1 .1 2.9 .1-.4 .1-3.3 .1-3.1 .1 3.6 .1-.1 .1-.5 .1 2.6 0-3.6 .1 3.1 .1-1.2 .1 1.6 .1 .7 .1-.8 .1 .3 .1-1 .1-3.5 .1 2.2 .1 1.6 .1-1.8 .1 1.8 0-3.1 .1 .6 .1 2.1 .1-.6 .1-.2 .1 1.9 .1 .2 .1-1.8 .1 1.4 .1-1.6 .1-1.6 .1 1.9 0-1.4 .1-2.2 .1 4 .1-3.4 .1 4.1 .1 .5 .1-2.4 .1 .6 .1 2.4 .1-5 .1 .8 .1 3.3 .1-1.4 0-.3 .1 2.1 .1-2.8 .1 3 .1 .7 .1-5.8 .1 3.8 .1 .2 .1-1 .1 .9 .1-5.2 .1 3.1 0-.7 .1-.1 .1-2.3 .1 8 .1-5.6 .1 1.1 .1 .2 .1-2 .1 1 .1 4.3 .1-3.7 .1 .8 .1-2.4 0 5.9 .1-5 .1 .9 .1-1 .1 .5 .1 4.6 .1-5.2 .1 1.4 .1 1.4 .1-3.2 .1 1.8 .1-3.2 0 1.1 .1 4 .1-3.5 .1 1.4 .1 .1 .1 .2 .1-2.2 .1 3.4 .1-2.3 .1 3.6 .1-3.4 .1 2.9 .1 0 0-2.3 .1 2 .1-4.1 .1 4 .1-5 .1 1.5 .1 1.3 .1-1 .1 .8 .1-4.1 .1 3.5 .1 2 0-1.8 .1 1.3 .1-.5 .1 1 .1-.1 .1-2.6 .1 1.6 .1-1.5 .1 2 .1-.4 .1 .7 .1-3.3 .1-.7 0 3.2 .1-1.8 .1 4.3 .1-.3 .1-3.8 .1 4.7 .1-8.6 .1 3.4 .1-1.4 .1 3.4 .1 2.4 .1-.9 0-.1 .1-3.2 .1 3.5 .1-.4 .1-4.5 .1 5.2 .1-1.1 .1-3.8 .1-2.2 .1 7.9 .1 1.5 .1-3.3 .1-1.8 0 .5 .1 1 .1 1.4 .1-4.1 .1 2.6 .1 .2 .1-1.3 .1-2.8 .1 2.5 .1-4.7 .1 5.6 .1-1.8 0 5.3 .1-2.9 .1-1.2 .1 1.3 .1 .1 .1-.4 .1 .7 .1-.8 .1-1.2 .1-.6 .1 2.8 .1-1.7 .1 1.1 0-3.3 .1-1.7 .1 3 .1-.4 .1 1.3 .1-1.5 .1 1.4 .1 2 .1-4.9 .1-2 .1 3.1 .1 1.3 0-1 .1-2.4 .1 4.2 .1-2.4 .1 1.1 .1 4.6 .1-3.6 .1-1.8 .1 .4 .1 .9 .1 2.2 .1-3 .1 .2 0-.8 .1-2.5 .1 3.5 .1-2.1 .1 1.1 .1-4.5 .1 4.5 .1-4.3 .1 7.2 .1 .4 .1-3.4 .1 1.2 0-2.9 .1 1 .1-.1 .1 3.2 .1-1.5 .1-1.8 .1 2.8 .1-1.2 .1-2.4 .1 2.5 .1-.6 .1-2 .1 1.5 0 3.9 .1-3.2 .1 .1 .1-.6 .1-4 .1 2.3 .1 2 .1 1.6 .1-3.1 .1 1.3 .1-2.3 .1 2 0-1.4 .1 3.7 .1-1.3 .1-.5 .1 1.8 .1-2.6 .1 1.6 .1 0 .1 .6 .1-1.3 .1 3.2 .1-5.2 .1 .9 0-.3 .1-1.4 .1 1.9 .1 1.2 .1-3.4 .1 3.5 .1-1.1 .1 4.8 .1-3.4 .1-1.1 .1-1.4 .1 .2 0-.9 .1 3.1 .1 0 .1-1.6 .1 2.1 .1-.9 .1-1 .1 4.3 .1-.9 .1-4.2 .1 2.4 .1-3.1 .1 2.5 0 1.2 .1-3.5 .1 1.8 .1-1.4 .1 2.2 .1 .2 .1-1 .1 1 .1-1.3 .1 1.7 .1-2.9 .1-1 0 .6 .1 3.7 .1-5.3 .1 6.3 .1-4.2 .1 .2 .1-1.5 .1 3 .1-.4 .1-3.5 .1 0 .1 4.5 .1-1.6 0 1.1 .1 3.8 .1-8 .1 3.8 .1-1.6 .1-.4 .1 3.3 .1-4.8 .1 3.3 .1 1.7 .1-3.9 .1 .3 0 1.5 .1-1.1 .1-3.8 .1 2.1 .1 1.4 .1 .8 .1-4.9 .1 5 .1 3.3 .1-7.1 .1 3.8 .1 3.6 .1-1.7 0-.1 .1 1.8 .1-3.3 .1-.4 .1-5 .1 3.8 .1 1.1 .1-1 .1-.9 .1-1.8 .1-.8 .1 7.3 0-1.1 .1-3.3 .1-4.5 .1 5.4 .1-3.6 .1 3.7 .1-.1 .1-.7 .1-3.8 .1 4.2 .1-1.3 .1-.7 .1-1.4 0 1.9 .1-2 .1-1.9 .1 2 .1 2.7 .1-.6 .1-1.1 .1 1.2 .1 1.9 .1-.4 .1-1 .1 3.2 0-11.4 .1 4.7 .1 3.3 .1 .3 .1-4.6 .1 6.1 .1-1 .1-4.9 .1 2.5 .1-2 .1 1.5 .1 .2 .1 1.4 0-2.7 .1 .5 .1-.1 .1 1.5 .1-4 .1 2.7 .1-1.4 .1 4.2 .1 1.1 .1-5.8 .1 3.2 .1 .4 0-3 .1-2.4 .1 3.8 .1 0 .1-1.9 .1-.4 .1 1.1 .1 4.5 .1-6.4 .1 3.7 .1-7.1 .1 6.8 .1-2.4 0 .6 .1-.7 .1-5.8 .1 6.7 .1-3.3 .1 2.5 .1 .8 .1-2.9 .1 1 .1 1.2 .1 1.9 .1-3.7 0-7.6 .1 8.8 .1-2 .1 3 .1-10.5 .1 12.4 .1-2.2 .1 3.2 .1-6.7 .1 1.3 .1-.9 .1 1.1 .1-4.2 0 .3 .1 .5 .1 9.9 .1-4.7 .1-2.8 .1-2.2 .1 9.4 .1-11.5 .1 3.2 .1-3.5 .1 7.2 .1-1.1 0 .6 .1-1.3 .1 .3 .1 2.5 .1-8.3 .1 1.9 .1 3.6 .1 3.2 .1-8.8 .1 9.2 .1-3.4 .1 .4 .1-1.6 0-3.4 .1-1.3 .1 1.4 .1 3.9 .1-6.9 .1 .1 .1 1 .1-4.5 .1 9.4 .1-1 .1-.1 .1-.6 0-3.7 .1 1.1 .1 1.6 .1-4.6 .1 3.3 .1 1.2 .1 .1 .1 1.8 .1-3.3 .1 1.7 .1-2.3 .1-1.6 .1-.4 0 2.5 .1-7 .1 8.7 .1-5.6 .1 1.8 .1-.9 .1 2.7 .1 .1 .1-4.4 .1 6.8 .1-5.6 .1 4.5 0 .9 .1-5.8 .1 1.7 .1-7.6 .1 10.8 .1-5.9 .1 0 .1-.4 .1 1.7 .1 3.3 .1-7.3 .1-.3 .1 .9 0 .2 .1-3.1 .1 .5 .1 .7 .1 3.8 .1-5.2 .1 5.6 .1-4.1 .1 4.1 .1-2.8 .1-3.2 .1 3.2 0-4.2 .1 4.3 .1-7 .1 5.5 .1-8.9 .1 5.7 .1 2.2 .1 3.2 .1-2.5 .1-7.8 .1 10 .1 .8 .1-6.2 0-3.3 .1 5 .1 1.4 .1-2.4 .1-.2 .1-4.6 .1-2.8 .1 6.4 .1 2 .1 1 .1 1.5 .1-5.7 0 4.7 .1-7.8 .1 2.9 .1 1.3 .1-7.5 .1 10.4 .1-9.1 .1 2.4 .1-.8 .1 .7 .1 3.5 .1-6.2 .1-2.3 0 10.8 .1-7.6 .1 .5 .1 .3 .1-2.7 .1 1.8 .1 .5 .1-5.9 .1 7.3 .1-2.2 .1-.3 .1 1.1 0-1.3 .1-7.1 .1 7.6 .1-12.1 .1 14.2 .1 2.8 .1-6.5 .1 1.8 .1-9.4 .1 2.5 .1 5.3 .1-3.5 .1 .1 0-11.1 .1 8.8 .1-.8 .1-1.3 .1 .8 .1 .5 .1 2.9 .1-3.8 .1-.8 .1 5.4 .1-5.6 .1 4.7 0 1.3 .1-6.4 .1-2.6 .1-1.9 .1 5.3 .1 3.1 .1-2.5 .1-2.7 .1-.9 .1-2.6 .1 2.2 .1-5.2 .1 6.2 0-4.6 .1-1.1 .1 .7 .1-1 .1 6 .1-8.1 .1 5.1 .1-1.6 .1 2.9 .1-5.8 .1 2.8 .1 .6 0-5.8 .1 5.4 .1-4.9 .1 .4 .1-1.8 .1 1.5 .1 4.8 .1-5.9 .1-1.3 .1-6.5 .1-.4 .1 3.6 .1-.8 0 14.2 .1-8.8 .1 2 .1-7.4 .1-.2 .1-.4 .1-.6 .1 .5 .1 1.6 .1 1.6 .1-5.8 .1 2.5 0-4.8 .1 5.9 .1-1.1 .1 1.8 .1-6.6 .1 5.9 .1 6.2 .1-7 .1-.9 .1-3.4 .1 1.1 .1-7.4 .1 3.6 0-3.2 .1-2.3 .1 1.1 .1 .1 .1 5.7 .1-4.5 .1 2 .1-4.3 .1 5.5 .1-5.9 .1 4.7 .1-5.9 0-2.6 .1-.5 .1 6.9 .1-8.2 .1 13.2 .1-8.9 .1 6.7 .1-6.9 .1 5 .1-5.6 .1 2.6 .1-9.5 .1-4.5 0 5.5 .1-1.2 .1 2.1 .1 2.1 .1 .2 .1 3.9 .1-2.2 .1-7.8 .1 5.2 .1-4.2 .1 5.5 .1-15.3 0 3.9 .1 6.3 .1-9.6 .1 5.9 .1-3.2 .1 5.4 .1 1 .1-9.3 .1 2.7 .1-.8 .1-1.4 .1 3.8 .1 2.3 0-4.4 .1 9.7 .1-9.2 .1-5.5 .1 6.1 .1-10.6 .1 10.3 .1 2.8 .1-8.2 .1 3.2 .1-4.3 .1 5.7 0-6.3 .1 1.7 .1-1.1 .1-3.9 .1 8 .1-3.4 .1-6.7 .1-1.1 .1 2.1 .1 8.6 .1-7 .1 2.6 .1-.9 0 5.7 .1 2.3 .1-15.7 .1 .4 .1 10.8 .1-5.9 .1-2.5 .1 2.8 .1-5.9 .1 4.1 .1 4.6 .1-5.3 0-4.8 .1 6.5 .1-8.9 .1-2 .1 1.9 .1-.2 .1 2.9 .1-3.7 .1 6.1 .1 7.8 .1-8.8 .1-11.4 .1 1.7 0 10.4 .1-4.7 .1 2.1 .1 2 .1-4.8 .1-6.2 .1 3.4 .1 1.2 .1 9.6 .1-23.1 .1 17.1 .1-6.6 0-4.5 .1 2.9 .1-3.8 .1 16.2 .1-8 .1-1.4 .1 3.1 .1 .9 .1-13.3 .1 11 .1-12.9 .1 .7 .1 6.2 0 5.2 .1-4.6 .1 .3 .1-.7 .1 .3 .1-4.7 .1 1.4 .1-1.6 .1-.5 .1-7 .1-4.6 .1 10.4 0 .2 .1 .1 .1-6.4 .1 1.1 .1 2.8 .1 1.1 .1-4.2 .1-2.8 .1 7.6 .1-4.9 .1 11.8 .1-6.5 .1-6.5 0 10.9 .1-.7 .1-9.8 .1 11.8 .1-9.3 .1-13.3 .1 9.1 .1-7.9 .1 .8 .1 12.4 .1-3.3 .1-3.4 0-4.2 .1-2.1 .1 3.4 .1 2.2 .1 7.4 .1-11.8 .1 8.7 .1-8.8 .1-2.2 .1 15.1 .1-19.2 .1 11.9 .1-7.2 0 .6 .1-5.3 .1 3.5 .1-2.6 .1 4.2 .1 8.8 .1-3.5 .1-5 .1-1.6 .1 4.3 .1 4.7 .1 2.8 0-7.6 .1-16.4 .1 17.3 .1 2 .1-6.3 .1-.8 .1 3.3 .1 11.8 .1-7.5 .1-.4 .1-7.1 .1 6.9 .1-2.2 0 4.8 .1-3.2 .1-15.5 .1 7.6 .1 2.2 .1 7.1 .1 2.1 .1-12.6 .1 5.7 .1-3.4 .1 1.6 .1 1 0 14.6 .1-19 .1-4.8 .1 9.4 .1 1.4 .1-2.1 .1 2.6 .1 8.9 .1-8.2 .1-1.9 .1-6 .1 11.5 .1-3.7 0-1.8 .1-2.4 .1-8.2 .1 7.4 .1 0 .1 10.4 .1-15.5 .1 18.6 .1-17 .1 2.8 .1 4.4 .1 6.6 0-8.7 .1 5.7 .1-10 .1 24 .1-16.6 .1 15.2 .1-14.8 .1 2.3 .1-6.2 .1 11.2 .1-.6 .1 6.7 .1-9.3 0-3.2 .1 2.6 .1 4.2 .1-3.9 .1-4.1 .1 1.6 .1 12.8 .1-7.8 .1 2.4 .1 10.7 .1-18.4 .1 1.8 0 7.8 .1-8.3 .1 1.8 .1 4.3 .1-4 .1 3.1 .1 2.9 .1-9.1 .1 14.5 .1-18.6 .1 9.3 .1 4 .1-4.3 0 7.8 .1-2.6 .1-12.6 .1 8.6 .1 3.7 .1 .4 .1-5.5 .1 .4 .1 7.1 .1-7.8 .1 6.8 .1 .5 0-3.9 .1 8.4 .1 4.8 .1-7.2 .1-5.1 .1 6.7 .1-5.9 .1-1.4 .1 8.7 .1-1.5 .1 1.2 .1-3.8 .1 1.3 0 2 .1-5.8 .1 5.5 .1 1 .1 5.8 .1-3.8 .1-6.2 .1 3.7 .1 3.5 .1 1.5 .1 4.8 .1-.6 0-8.7 .1 5.6 .1 .2 .1-5.7 .1 9.1 .1 .8 .1-9.3 .1 4.5 .1 11.8 .1-7.6 .1 4.3 .1-.9 .1-.9 0 7.5 .1-4.2 .1-12.4 .1 10.7 .1 1.8 .1-6.7 .1 12.1 .1-5.2 .1-7.2 .1 6.9 .1-1.2 .1 3.2 0-2.3 .1-1.3 .1 4.7 .1-.8 .1-.3 .1 11 .1-13.3 .1-4 .1 5.4 .1 3.3 .1 3.4 .1-3.1 .1-7.3 0 2.7 .1 11.1 .1-10.3 .1 11.2 .1 .2 .1-2 .1-3.2 .1 4.5 .1-5.4 .1 3.8 .1-5.6 .1 14.5 0-6.6 .1-2.2 .1-3.6 .1 17.5 .1-8.3 .1 8.7 .1-10.9 .1 5.1 .1-3.7 .1-2.7 .1 1.1 .1 5.4 .1-3.3 0-11 .1 16.9 .1-4.4 .1 5.3 .1-5.6 .1 7.9 .1-5.9 .1 9.9 .1-7.2 .1-10.1 .1 17 .1-2.1 0-6.3 .1 9.5 .1 6 .1-2.7 .1-7.8 .1-3.6 .1 4.9 .1 .5 .1-4 .1 5.4 .1-5.7 .1-.2 .1 8.3 0-6.5 .1 2.9 .1 4 .1 0 .1-4.4 .1 10.5 .1 2 .1-11.6 .1-3 .1 7.7 .1-2.9 .1 12 0-1 .1-2.9 .1-.4 .1-1.8 .1 3.1 .1-1.4 .1 1 .1-3.1 .1-1.5 .1 1.2 .1-1.8 .1 7.1 .1 1.5 0 6.4 .1-.5 .1-10 .1 1.7 .1 2.2 .1 1.9 .1 4.2 .1 4.4 .1-6.3 .1-1 .1 9.9 .1-15.7 0 8.6 .1-4.2 .1-3.2 .1-.4 .1 7.7 .1-4.8 .1 .6 .1 3.8 .1-.7 .1 5.2 .1-4.3 .1 4.1 .1-1.4 0-1 .1-3 .1 5.1 .1 .4 .1 1 .1-12.3 .1 12.9 .1-3.2 .1 8.2 .1-5.8 .1 5.2 .1-2.2 0-4.8 .1-3.5 .1 6.4 .1-1.4 .1 2 .1 2.8 .1-1.8 .1-3.1 .1 3.3 .1 2.5 .1 .7 .1-3.4 .1 3.5 0-4.5 .1 9.2 .1-8 .1 6.3 .1-2.5 .1-8 .1 4.3 .1 6.2 .1-.2 .1-4.5 .1 .1 .1 3.9 0-2.6 .1 4.6 .1 9 .1-14 .1 6.1 .1-3.7 .1 3.1 .1 .7 .1 2.5 .1-5.8 .1 0 .1-1.3 .1 2.3 0 1.3 .1 3.7 .1-1.8 .1-1.1 .1 10.8 .1-4.6 .1-3.3 .1-3.3 .1-1.8 .1-.9 .1 9.1 .1-2.7 0 2.3 .1 1.3 .1-1.4 .1-1.4 .1-2.2 .1 8.4 .1-4.6 .1 3.3 .1-8.2 .1-.8 .1 7.9 .1 1 .1-4.4 0-.9 .1 7 .1-1.8 .1-2.2 .1 4.8 .1-8.5 .1 5.2 .1 .1 .1 4.5 .1-8 .1 9 .1-1.9 0-.2 .1-1.4 .1 4.6 .1-2 .1-4.4 .1 2.3 .1-.3 .1-2.7 .1 2 .1-1.7 .1 3.5 .1 3.3 .1-8.3 0 11.3 .1-.9 .1-.5 .1-11.4 .1 7.7 .1-3.1 .1 8.8 .1-1.3 .1-4.4 .1 2.7 .1-1.7 .1-1.4 0 1.8 .1 .2 .1-.2 .1 1.5 .1-1.5 .1-1.9 .1 6.2 .1-3.7 .1-1.7 .1 3.6 .1-.2 .1-6 .1 2.5 0-3.5 .1 1.5 .1 7.1 .1 1.3 .1-1.1 .1-3.5 .1 13.6 .1-10.7 .1-3.5 .1 3.8 .1-.7 .1 1.9 0 4.6 .1-8 .1 4 .1-2.2 .1 1.5 .1-5.8 .1 4.7 .1 .3 .1 1.8 .1 2.3 .1-3.6 .1-1.9 .1 3.4 0 6.7 .1-4 .1-8.1 .1 7.7 .1-2.1 .1 6.4 .1-3.9 .1 1 .1-4.8 .1 .6 .1 .4 .1-1.3 0 4.6 .1-6.4 .1 6 .1-3.4 .1-3.4 .1 7.9 .1-2.5 .1 1.6 .1-.6 .1-.4 .1 1.2 .1-.1 .1-1.9 0 6 .1-1.6 .1-.5 .1 2.6 .1-4.9 .1 2.5 .1 1.2 .1 1.6 .1-1.3 .1-3.7 .1 5.1 .1-6.2 0 .9 .1 1.1 .1 5.8 .1-2.6 .1-5 .1 4.1 .1 1.2 .1 0 .1-3 .1 6.4 .1-8 .1 2.3 .1 3.7 0-4.5 .1 9.4 .1-4.1 .1-4.2 .1-3.2 .1 7.6 .1 .7 .1-3.6 .1-.4 .1 2.5 .1 .2 .1-6.4 0 6.9 .1 2 .1-3.2 .1-4.7 .1 1.8 .1 2.1 .1 3.6 .1-3.3 .1-8 .1 6.3 .1-1.1 .1 7.3 .1-3.2 0 .5 .1-6.1 .1 5.6 .1-.6 .1 1.3 .1 6.4 .1-10.7 .1 8.3 .1-3.5 .1 2.8 .1-2.6 .1-.3 0 .3 .1-5.2 .1 7.2 .1-2.4 .1-2.2 .1 2.7 .1 .3 .1-6.5 .1 3.2 .1 4.4 .1-2.9 .1 3.2 .1-3.5 0 5 .1-5.8 .1 1.2 .1 .2 .1 .9 .1-.5 .1 3 .1-2.4 .1-1.4 .1 .5 .1 3.7 .1-3.9 0 4.7 .1-1.2 .1 .4 .1-.5 .1-1.2 .1-2.1 .1-.9 .1 1.7 .1 3.1 .1-3.8 .1-.5 .1 4.5 .1 1.2 0-2.6 .1-5.3 .1 5.8 .1-.3 .1-2.2 .1 4.9 .1-.2 .1-2.4 .1-2.4 .1 3 .1 1 .1 2.6 0-8.2 .1 7.3 .1-6.5 .1 5.2 .1-4.7 .1-1.3 .1 6.6 .1-3.7 .1-.3 .1-1.2 .1 3.9 .1-3.8 .1 2.9 0 2.8 .1-4.9 .1-.6 .1 3.2 .1 .3 .1-2.2 .1-2.2 .1 7.4 .1-5.7 .1-2.4 .1 7.3 .1-3.6 0 1.4 .1-.7 .1-2.2 .1 7.1 .1-2.6 .1 2.2 .1-2.6 .1-5.4 .1 7.3 .1-1.4 .1 .4 .1-2.4 .1 1.8 0 1.2 .1 0 .1-1.5 .1 2.7 .1 2.9 .1-8.7 .1 2.6 .1 1.8 .1-1 .1-2.1 .1 3.9 .1-2.1 0 1.4 .1-4.3 .1 8.9 .1-2.4 .1-6.8 .1 6.4 .1-1 .1 1.1 .1 2.7 .1-5.3 .1-1.9 .1 1 .1 3.7 0-1.6 .1-5.2 .1 4.4 .1 1.9 .1-4.4 .1 2.9 .1 3.8 .1-2.4 .1-4.2 .1 2.7 .1-.2 .1-1.7 0 3.4 .1 1.8 .1-3.5 .1 1.5 .1-1.5 .1 1.8 .1 .1 .1 1.6 .1-4 .1-3.9 .1 7.5 .1-5.6 .1 1.2 0 3.2 .1 .9 .1-3.7 .1 2.2 .1-.2 .1 .5 .1-5.5 .1 8.2 .1-4.7 .1-3.4 .1 4.1 .1-4.6 0 5 .1-.3 .1-1.4 .1 3.5 .1-1.7 .1-1.3 .1 2.9 .1-2.6 .1-1.4 .1 5.3 .1-2.4 .1-1.2 .1 2.6 0-3.9 .1-.5 .1 4.2 .1-1.9 .1 2.1 .1-1.2 .1-1.3 .1 1.5 .1-.8 .1 1.5 .1-3.8 .1 .7 0 3.6 .1-2.7 .1-4.7 .1 7.1 .1-4.2 .1-2.9 .1 6.6 .1-2.3 .1 6.8 .1-8.1 .1 1.7 .1-.4 .1 1.5 0-1.7 .1-.4 .1 1 .1 2.3 .1-.3 .1-.4 .1 .6 .1 1.4 .1 1 .1-2.6 .1 1.9 .1-1.2 0 2.1 .1 .2 .1-2.1 .1-.4 .1-5.4 .1 5.1 .1-2.5 .1 1.2 .1 .5 .1 1.4 .1-2.1 .1 .3 .1 4.3 0-4.6 .1 2 .1 3.1 .1-1.8 .1-3.3 .1-.5 .1 2.4 .1-2.9 .1 .9 .1 5.3 .1-1 .1-3.2 0 2.8 .1-.6 .1-2 .1 1.3 .1 .9 .1 1.6 .1-7.6 .1 7.7 .1-2.2 .1-3.3 .1 2.7 .1 1.9 .1 .4 0-5 .1 .8 .1 6.1 .1-1.3 .1-4.4 .1-2.1 .1 4.8 .1-3.3 .1 5.6 .1 .2 .1-.9 .1-3.8 0 .6 .1-1.1 .1 5.5 .1-7.5 .1 4.6 .1-6.7 .1 5.3 .1 4.5 .1-3.9 .1 1.8 .1-5.2 .1 2.9 .1-2.2 0 4.5 .1 0 .1-2 .1 .2 .1 2.2 .1-3.2 .1-1.4 .1 3.4 .1 .3 .1 0 .1-2.2 .1 1.5 0-1.2 .1-1.5 .1 3.1 .1 0 .1 .1 .1-3.9 .1 3.5 .1-.4 .1 .8 .1-2.5 .1 1 .1 3.4 .1-4.5 0 1.2 .1-1.7 .1 1.5 .1 1.3 .1 2 .1-4.3 .1-.5 .1 4.6 .1-1.7 .1-1.2 .1 1.4 .1-1.1 0 1.6 .1 .6 .1-4 .1 6.3 .1-5 .1 3.1 .1-1.8 .1 1.6 .1-1.8 .1 1.7 .1-1.9 .1 3.7 .1-.8 0-2 .1-1.6 .1 3.2 .1-6 .1 5 .1-2.4 .1 5.5 .1-1.7 .1 0 .1 .4 .1 .9 .1-2.4 0 .9 .1-5.3 .1 3.6 .1-.7 .1 5.1 .1-7.6 .1-.1 .1 5.6 .1-.1 .1-.6 .1-4.6 .1 5.9 .1-.7 0 1.2 .1-3.9 .1-1.2 .1 3.9 .1-4.5 .1 2.1 .1 2.1 .1-2.9 .1-1.5 .1 0 .1 1.6 .1-1.7 0 2.8 .1-.6 .1-3.1 .1 4 .1 1.5 .1 .9 .1-1.5 .1 2.9 .1-2 .1 .5 .1-2 .1 2.5 .1-2.7 0-.2 .1-1.6 .1-.5 .1-1.1 .1 3.8 .1 2.4 .1-4.5 .1 .8 .1 1.7 .1-2.6 .1-2.4 .1 3.4 0 1.6 .1-1.3 .1 2.4 .1-6 .1 6.6 .1-.4 .1-4.2 .1 2.5 .1 2.2 .1-4.5 .1-.4 .1 5.8 .1-4.7 0-.7 .1-1.8 .1 2.9 .1-.6 .1 1.3 .1-1.2 .1-2.1 .1 2.1 .1 2.8 .1-1.1 .1-4.2 .1 6.6 0-1.3 .1 .1 .1-4 .1 4.5 .1-.9 .1-.8 .1-1.2 .1-.1 .1 3.6 .1 0 .1 .6 .1-5.2 .1 2.8 0-.8 .1 .3 .1 3.1 .1 .3 .1-1 .1-6.3 .1 4.8 .1-1.8 .1 3.1 .1-7.3 .1 5.1 .1 3.4 0-2.2 .1-1.7 .1-1.3 .1 2.7 .1-2 .1 .8 .1 .1 .1 1.3 .1-1.6 .1-1.4 .1 2.2 .1 .7 .1-6.3 0 4.2 .1 .1 .1 4.3 .1-5.1 .1 5.4 .1-5.6 .1 1.7 .1 1.7 .1 .4 .1-1.7 .1 1.1 .1 2.7 0-5.6 .1 5.2 .1-2.7 .1 .7 .1-4.1 .1 6.2 .1-5 .1 1 .1 6.7 .1-2.9 .1-1.4 .1 .7 .1-2.5 0-.7 .1-1 .1 3.6 .1-2.5 .1 1.5 .1-1.4 .1 1.1 .1-.1 .1 .7 .1-1.7 .1 .8 .1 2.2 0 2.2 .1-6.1 .1 .5 .1 1.6 .1-2.4 .1 2.4 .1 .1 .1 .6 .1-3.3 .1-1 .1 3.9 .1 .9 .1-3.4 0 .4 .1 .5 .1 4.1 .1-3.4 .1 .2 .1 1 .1-1.5 .1 1.2 .1-1.1 .1 .9 .1 .5 .1-3.9 0 3.4 .1-1.2 .1-.7 .1 3.7 .1-1.5 .1 1.4 .1-1.4 .1 2 .1-4 .1 1.7 .1 2.4 .1-3.3 .1 2.9 0 .9 .1-3.6 .1 .7 .1 1.5 .1-2.8 .1 .5 .1 .6 .1-1.7 .1 1.4 .1-1.8 .1 1.8 .1 0 0 6.1 .1-4.8 .1-4.3 .1 4.8 .1-.9 .1 .7 .1 2.6 .1-4.6 .1-2.5 .1 .4 .1 3.7 .1 1.3 .1-.7 0-2 .1 1.7 .1-2.2 .1 .9 .1 3 .1-.2 .1-3.8 .1 0 .1 1.6 .1-2.8 .1 3 .1 .4 0-.5 .1-1.1 .1 5.5 .1-4.7 .1 0 .1 1.9 .1 0 .1-3.9 .1 3.2 .1-.3 .1-2.3 .1 4.1 .1-7 0 6.1 .1-.2 .1 1.5 .1-1.5 .1 .6 .1-.9 .1 1.2 .1 2.5 .1-6.8 .1 .8 .1 .2 .1 .2 0-.1 .1 2.5 .1-6.8 .1 6.6 .1 1.2 .1-6.2 .1 4.7 .1-.9 .1 2.1 .1-1.5 .1-1.3 .1 .3 .1 2.9 0-3.7 .1 2.9 .1 1.5 .1-4.7 .1 1.1 .1 1.1 .1 1 .1-2.9 .1 2 .1 .8 .1-2.4 .1 .5 0 2.9 .1-4.7 .1 5.5 .1-1.6 .1-2.2 .1 .9 .1-1.7 .1 .4 .1 5.6 .1-7 .1 3.5 .1-.9 .1 1.4 0 .6 .1-3.2 .1 .3 .1 .4 .1 1.7 .1-4.2 .1 2.3 .1-.4 .1 .9 .1-.3 .1-1.7 .1 .3 0-.2 .1 1.9 .1 0 .1 2.4 .1-1.8 .1 .7 .1 .5 .1-1.5 .1-.2 .1 1.5 .1 1.9 .1-2.7 .1-.5 0-.6 .1 2.3 .1 .8 .1 1 .1-3.4 .1 1.1 .1-2.2 .1 3.7 .1-5.1 .1 2.8 .1 .1 .1-.7 0-1 .1-.2 .1 5 .1-2.4 .1-1.9 .1-.2 .1 .6 .1 2.1 .1-2.4 .1 1.1 .1-.3 .1-2.3 .1 2.5 0-1 .1-1.9 .1 .9 .1 4.1 .1-.3 .1 1.7 .1-5.6 .1 2.3 .1 .6 .1-.8 .1 2 .1-3.2 0 2.7 .1-3.3 .1 1.2 .1 .6 .1-1.1 .1 1.4 .1-.3 .1-2.3 .1-.9 .1 2.1 .1-1.5 .1 5.4 .1-3.1 0 .3 .1 .8 .1-1.8 .1-2.6 .1 2.6 .1-1.1 .1-.5 .1 .1 .1 2.3 .1 1.3 .1-3.2 .1 .5 0 2.4 .1-3.8 .1 4.5 .1 .7 .1-2.1 .1 2.3 .1-2.1 .1-.2 .1 .9 .1-1.1 .1 2.4 .1 1.8 .1-5.6 0-.2 .1 .2 .1 2.3 .1-1.6 .1 1.4 .1-2.7 .1 4.3 .1-2.7 .1 1.4 .1-2.1 .1 1.1 .1 3.4 0-2.7 .1 1.2 .1-2.5 .1-.8 .1 3.7 .1-2.9 .1 2.6 .1-.9 .1-1.2 .1-1.9 .1 1.4 .1-.3 .1 2 0-.6 .1-1.4 .1 .9 .1 0 .1-.5 .1-2.2 .1 .5 .1-.1 .1 1.9 .1 2 .1 .8 .1-2.4 0 2 .1 1.7 .1-2.9 .1-4.5 .1 4 .1-.3 .1 .4 .1-.4 .1 2.7 .1-2.9 .1-.9 .1 .9 .1 0 0 .5 .1-1.3 .1 3.3 .1 1.5 .1-2.6 .1-.8 .1-1.1 .1 2.4 .1-1.6 .1 .3 .1-1.3 .1 2.1 0-1.9 .1-.2 .1 1.8 .1-.2 .1 .5 .1 .5 .1-.2 .1 .8 .1-3.1 .1 .5 .1 1 .1-.4 .1 .1 0-2.6 .1 1.1 .1 2.1 .1-1.7 .1 4.1 .1-2.1 .1 .5 .1-1.9 .1 1.6 .1 .4 .1-.1 .1 1.2 0-.2 .1-.6 .1-2.3 .1 .2 .1-.9 .1-1.6 .1 1.4 .1 4.7 .1-2 .1-3.8 .1 2.4 .1-.4 .1 .3 0 2.8 .1-3.1 .1 1 .1 1.4 .1-2.3 .1-2.4 .1 3.3 .1 2 .1-2 .1 1.3 .1 2.7 .1-3.4 0-1.5 .1 2.3 .1-1.5 .1 .1 .1 .6 .1-.1 .1-.1 .1-.1 .1-.2 .1-1.2 .1 1.8 .1 .6 .1-2.3 0 2 .1-4.8 .1 4.1 .1-3.9 .1 3 .1-.1 .1-1 .1 .8 .1 1 .1 .4 .1 1 .1 0 0-3.1 .1 5.7 .1-7.2 .1 1.4 .1 2.1 .1-3.5 .1-.2 .1 1.3 .1 6.1 .1-.7 .1-4.6 .1 3.2 .1-2.7 0 1.4 .1-1.4 .1 1.3 .1-.6 .1 2.9 .1-2.8 .1 1.5 .1-3.4 .1 3 .1-1.9 .1-.2 .1 1.2 0 1.2 .1-1.7 .1 .5 .1-1.5 .1 2.9 .1 .4 .1-3.2 .1 .8 .1-1.6 .1-.3 .1 5.5 .1-3.6 .1 .2 0 .1 .1-1.4 .1-1.8 .1 3.7 .1-.1 .1-1.3 .1-.2 .1 1.5 .1-1.7 .1-.8 .1 3.2 .1-3.1 0 3.6 .1-3.6 .1 3.8 .1-.1 .1 .9 .1-1.8 .1-.5 .1 .2 .1 .4 .1-.2 .1 .4 .1-.1 .1-.9 0 1.2 .1-1.2 .1 2.1 .1 .4 .1-3.6 .1 2.7 .1-1.5 .1 1.9 .1 .8 .1-.2 .1-.8 .1-3.7 0 3.4 .1-1.6 .1 1.1 .1-.9 .1 2.3 .1-3.9 .1 1.5 .1 1.1 .1-2.2 .1 4 .1-1.3 .1-1.9 .1-2.1 0 3.6 .1-4 .1 1.1 .1 3.5 .1-2.3 .1-1.1 .1 3.6 .1-4.2 .1 5.2 .1-5 .1 .4 .1-.9 0 1.4 .1 1 .1 3.1 .1-5.7 .1 1.9 .1-.3 .1 2.4 .1 2.8 .1-4.6 .1 2.4 .1-1.5 .1-1 .1 3.2 0-3 .1 2.1 .1-.4 .1-2.2 .1 3.8 .1-1.6 .1-.5 .1-2.2 .1 1.9 .1-1.2 .1 3 .1 .7 0-2.3 .1-3 .1 1.8 .1 1.7 .1 .3 .1-3.4 .1 1.2" fill="none" stroke="#2f6fc4" stroke-width="0.85"/>
</g>
<rect x="57.9" y="539.2" width="257.60" height="216.40" fill="none" stroke="#262626" stroke-width="1.15"/>
<line x1="76.30" y1="755.6" x2="76.30" y2="759.1" stroke="#262626" stroke-width="1.1"/>
<text x="76.30" y="776.10" text-anchor="middle" class="tk">690</text>
<line x1="131.50" y1="755.6" x2="131.50" y2="759.1" stroke="#262626" stroke-width="1.1"/>
<text x="131.50" y="776.10" text-anchor="middle" class="tk">720</text>
<line x1="186.70" y1="755.6" x2="186.70" y2="759.1" stroke="#262626" stroke-width="1.1"/>
<text x="186.70" y="776.10" text-anchor="middle" class="tk">750</text>
<line x1="241.90" y1="755.6" x2="241.90" y2="759.1" stroke="#262626" stroke-width="1.1"/>
<text x="241.90" y="776.10" text-anchor="middle" class="tk">780</text>
<line x1="297.10" y1="755.6" x2="297.10" y2="759.1" stroke="#262626" stroke-width="1.1"/>
<text x="297.10" y="776.10" text-anchor="middle" class="tk">810</text>
<line x1="103.90" y1="755.6" x2="103.90" y2="758.1" stroke="#262626" stroke-width="1.1"/>
<line x1="159.10" y1="755.6" x2="159.10" y2="758.1" stroke="#262626" stroke-width="1.1"/>
<line x1="214.30" y1="755.6" x2="214.30" y2="758.1" stroke="#262626" stroke-width="1.1"/>
<line x1="269.50" y1="755.6" x2="269.50" y2="758.1" stroke="#262626" stroke-width="1.1"/>
<line x1="53.9" y1="741.17" x2="57.9" y2="741.17" stroke="#262626" stroke-width="1.1"/>
<line x1="53.9" y1="669.04" x2="57.9" y2="669.04" stroke="#262626" stroke-width="1.1"/>
<line x1="53.9" y1="596.91" x2="57.9" y2="596.91" stroke="#262626" stroke-width="1.1"/>
<line x1="55.9" y1="705.11" x2="57.9" y2="705.11" stroke="#262626" stroke-width="1.1"/>
<line x1="55.9" y1="632.97" x2="57.9" y2="632.97" stroke="#262626" stroke-width="1.1"/>
<line x1="55.9" y1="560.84" x2="57.9" y2="560.84" stroke="#262626" stroke-width="1.1"/>
<line x1="55.9" y1="755.60" x2="57.9" y2="755.60" stroke="#262626" stroke-width="1.1"/>
<text x="45.10" y="747.17" text-anchor="end" class="tk">0</text>
<text x="51.90" y="675.04" text-anchor="end" class="tk">100</text>
<text x="51.90" y="602.91" text-anchor="end" class="tk">200</text>
<line x1="69.1" y1="555.8" x2="95.6" y2="555.8" stroke="#555" stroke-width="1.3"/>
<text x="100" y="559.6" class="ann" style="fill:#222">Bright</text>
<line x1="69.1" y1="575.3" x2="95.6" y2="575.3" stroke="#f04a4a" stroke-width="1.3"/>
<text x="100" y="579.1" class="ann" style="fill:#222">Dark1</text>
<line x1="69.1" y1="594.8" x2="95.6" y2="594.8" stroke="#3a78d0" stroke-width="1.3"/>
<text x="100" y="598.6" class="ann" style="fill:#222">Dark2</text>
<text x="198.9" y="795" text-anchor="middle" class="lab">Wavelength (nm)</text>
<text transform="translate(15.2,647) rotate(-90)" text-anchor="middle" class="lab">Intensity (counts)</text>
<g clip-path="url(#cfl)">
<path d="M417.6 702.8l.1 9.3 .1-7.5 .1 12.5 .1 9.8 .1-8.2 0-10 .1-3.7 .1 19.3 .1-2.9 .1-11.2 .1 21.1 .1-24.9 .1-3 .1 25.4 .1-23.7 0 6 .1-10.2 .1 7.2 .1 3.3 .1-2.3 .1-5.2 .1 4.7 .1 1 .1 9.3 .1-12.2 .1 2.9 0-11.5 .1 11.7 .1 .5 .1 3.4 .1-8.5 .1 5.8 .1 3.2 .1-14.6 .1-1.1 .1 14.1 0 3.6 .1-13.6 .1 12.4 .1-36.3 .1 31.9 .1-7 .1 14.3 .1-8 .1-7.1 .1 4.1 0 7.9 .1-20.7 .1 10.9 .1 6.1 .1 2.4 .1-1.6 .1-17.5 .1 20.1 .1-5.1 .1 5.5 .1-13.2 0 9 .1-6.5 .1-1.3 .1 10.4 .1-8.1 .1-1.5 .1 13.2 .1-11.7 .1-18.1 .1 24.4 0-5.9 .1 17.7 .1-16.6 .1 6.7 .1-8.6 .1 4.7 .1 7.6 .1-14.4 .1 8.3 .1 5.1 .1-6.9 0 6.6 .1-8.7 .1 2.9 .1 2 .1-6.6 .1 12.4 .1-14.3 .1 18.9 .1-30.8 .1 16.9 0 2.8 .1 3 .1-8.1 .1 4.5 .1 .1 .1-7.7 .1 9.3 .1-1.3 .1-4.2 .1-4.1 .1 7.8 0-2 .1 .7 .1-4.4 .1-4.8 .1 15.5 .1-5.2 .1-.5 .1-4 .1-5.8 .1 9.6 0-1.4 .1-5.9 .1 15.2 .1-3.1 .1-2 .1-2.8 .1-1.5 .1 4.8 .1-14.5 .1 15.7 .1-3 0-8.5 .1 2 .1 5 .1-2.4 .1-2.9 .1 5.3 .1-4.2 .1 10 .1-6.3 .1 11 0-4.8 .1 1.6 .1-15.3 .1 11 .1-4.9 .1 7.8 .1-4.6 .1 .5 .1 3.7 .1-10.9 0 16.1 .1-18 .1-9.6 .1 22.2 .1-5.4 .1 10.2 .1-9.8 .1 11 .1-15.2 .1 7.2 .1 8.7 0-3.5 .1 1.9 .1-8.3 .1-7.3 .1 8.1 .1 5 .1-2.2 .1-6.1 .1 16.4 .1-19.3 0 1.1 .1 18.4 .1-23.3 .1 18.1 .1-9.1 .1-8.9 .1 18.1 .1 1.4 .1-4.7 .1 4.4 .1-10.7 0 2.5 .1-.2 .1 0 .1-2 .1 4.4 .1-7.6 .1 2.1 .1 6.5 .1-18.3 .1 20 0-13 .1 9.6 .1-7.2 .1-1 .1-2.2 .1-3.6 .1 14.5 .1-23.8 .1 15.8 .1 7.8 .1 3.5 0-23.9 .1 4.5 .1 10.7 .1-5 .1-3.6 .1 7.8 .1 3.4 .1-2.5 .1-5.7 .1 5.3 0 8.1 .1-12.8 .1 16 .1-6.3 .1-12.9 .1 6.5 .1 0 .1 .8 .1-5.9 .1 7 .1 12.2 0-15.6 .1 22.8 .1-6.5 .1-23.5 .1-1.5 .1 14.7 .1-2.5 .1-1 .1-5.9 .1 11.4 0 .7 .1-1.6 .1-4.9 .1-.8 .1 4.2 .1-7.4 .1 11.5 .1-6.1 .1 3.9 .1 2.1 0-14.4 .1 9.9 .1 4.5 .1-6.8 .1 6.7 .1-13.3 .1 1.4 .1-1.2 .1 13.5 .1-5.9 .1-21.5 0 22.6 .1-10.2 .1-1.7 .1 18.8 .1-16.8 .1 3 .1-.8 .1-5.3 .1 8 .1 2.4 0-3.4 .1 6.2 .1-5.5 .1 16.2 .1-24.1 .1 14.6 .1-6.9 .1 1.4 .1 1.4 .1-.1 .1 .3 0 11 .1-7 .1-11.3 .1 14.3 .1 .3 .1-20.5 .1 5.9 .1-2.3 .1 10.1 .1-1.8 0-3.1 .1 1.2 .1 4.2 .1 8.9 .1-4.7 .1 5 .1-19.8 .1 12.7 .1-1.4 .1-3 .1 1.7 0-5.9 .1 10.1 .1 5.8 .1-21.1 .1 15.9 .1-1.5 .1 2 .1-1.6 .1-3.6 .1-4.7 0 11.6 .1-8.6 .1 9 .1-14.9 .1 15.7 .1-9.2 .1-3.3 .1 13.3 .1-9.4 .1-.2 0 6 .1-3.7 .1-12.3 .1 9.4 .1 4.2 .1-1.3 .1-4.2 .1-5.3 .1-.6 .1 .7 .1-1.9 0 19.8 .1-.7 .1 5.4 .1-19.8 .1 19.9 .1-14.3 .1-5.1 .1 13.7 .1-4.7 .1-2.5 0-9.6 .1 17.6 .1-11.7 .1-2.4 .1 2.9 .1 .6 .1-7 .1 6.6 .1 1.5 .1 2 .1-6.3 0 6 .1-6 .1 3.5 .1-6.5 .1 12.2 .1-5.5 .1-1.7 .1-.4 .1-9.6 .1 9.7 0-3.2 .1-6.7 .1 7 .1 12.1 .1 2.3 .1-13.3 .1 6.7 .1-5.6 .1 4.3 .1-9.4 .1 .7 0 14.7 .1-8.8 .1 3.6 .1 6.4 .1-15.3 .1 7.9 .1-5.7 .1-10.9 .1 7.3 .1 1.4 0 9.6 .1 4.9 .1-15.4 .1 9.8 .1-2.2 .1 2.7 .1-3 .1-25.3 .1 27.9 .1-.2 .1-3.1 0-.5 .1 9.4 .1 3.6 .1-7.5 .1-2.3 .1 3.6 .1 1.4 .1-.4 .1-3.4 .1-1.7 0 9.5 .1-6.8 .1-5.7 .1 3 .1 7.8 .1-6.3 .1-2.1 .1-5 .1 15.1 .1-14.5 0 7.2 .1-4.2 .1-3 .1 9.8 .1-.4 .1-4.4 .1-5.3 .1 8 .1 5.5 .1-4.5 .1-6.8 0-4.9 .1 10.5 .1-1.1 .1-.9 .1-.3 .1 5.1 .1-3.1 .1-4.2 .1 .7 .1 .6 0 6.4 .1-2.9 .1 1.1 .1-11.1 .1-2.5 .1 6.9 .1-7.8 .1 11.8 .1 0 .1 6.3 .1-9.6 0 4.3 .1-3.4 .1-2.5 .1 4.6 .1 5.5 .1-6.8 .1 .2 .1-.6 .1-4.1 .1 5.6 0 .3 .1-12.5 .1 4.1 .1 7.3 .1 5.3 .1-3.1 .1-5.2 .1-2.9 .1-9.8 .1 16.6 .1-3.1 0 3.8 .1-2.8 .1 2.9 .1 4.3 .1-13.1 .1 5.6 .1-7.2 .1 11.1 .1-4.8 .1-2.4 0 15.8 .1-3.5 .1-12.9 .1 4 .1 20.1 .1-14.9 .1 2 .1-3.6 .1-12.6 .1 13.2 .1-16.3 0 14.2 .1 3 .1-14.3 .1 3.8 .1-2.7 .1-3.5 .1 5.5 .1-1 .1 18.3 .1-5.6 0-7.9 .1 .5 .1-5.5 .1 12.6 .1-11.8 .1-5.7 .1 8.9 .1-1.5 .1 2 .1-2.6 0 4.4 .1 4.5 .1-4.4 .1 .5 .1 10.2 .1-10.9 .1 .9 .1-.8 .1 4.7 .1-6.4 .1-.9 0 8.3 .1-6.4 .1-2.8 .1 .2 .1 10.4 .1 .6 .1-6.5 .1 6.7 .1-22.1 .1 20.7 0 3.3 .1-12.4 .1 7 .1 11.7 .1-13.6 .1 5.2 .1-2.8 .1 6.8 .1-4.4 .1-4.6 .1-.5 0 6.5 .1-2.4 .1 .8 .1-6.1 .1 1.8 .1 6.9 .1-11.8 .1 8.4 .1-6.8 .1 8.1 0-7.5 .1 2.6 .1-1.1 .1-2.8 .1 .4 .1 1.7 .1 .1 .1-17.2 .1-8.7 .1 9.9 .1-5.1 0-2 .1 7 .1-10.2 .1 4.7 .1 11 .1-12.7 .1-3 .1-4.2 .1 16.2 .1-9.5 0-7.9 .1 9.3 .1-8.3 .1-1.2 .1 11 .1-6.2 .1 7.8 .1-11.9 .1 9.6 .1 3.7 0-4.8 .1 .1 .1-4.2 .1-3.7 .1 23.8 .1-12.1 .1-9.1 .1-1.4 .1 3.1 .1-22.8 .1 13 0 10.3 .1-7.6 .1-5.8 .1 8.3 .1 18.7 .1-17 .1 0 .1-19.4 .1 35.9 .1-41.3 0 25.1 .1-10.5 .1 11 .1-4.8 .1-9.4 .1 9.4 .1-9.6 .1 10.2 .1 2.7 .1-2.2 .1 2.2 0-4.1 .1-14.9 .1 24.2 .1 4.3 .1-16.6 .1-17.3 .1 5.7 .1-3.3 .1 .1 .1 19.3 0-9.1 .1 27.7 .1-21.4 .1-13 .1 21.7 .1 4.7 .1-8.5 .1-16.4 .1-10.7 .1-35.2 .1 30.9 0 30.9 .1 8 .1-27.3 .1-10.6 .1 28.5 .1-12.7 .1-1.5 .1-6.1 .1 1.6 .1-8.6 0-7 .1 10.4 .1-8.7 .1-15.2 .1 34.1 .1-.5 .1-19.1 .1-16.9 .1 19.1 .1-12.1 .1 16 0-15.8 .1 17.9 .1-23.4 .1 8.9 .1-1 .1-13.5 .1 2.8 .1 20.2 .1-20.1 .1 32.4 0-36 .1-24.4 .1 28.1 .1-.8 .1 4.8 .1-11.6 .1 16.3 .1-16.5 .1 11.8 .1 1 0-8.8 .1 1.4 .1 22.7 .1-55.7 .1 26.6 .1 25.5 .1-41.6 .1 15 .1-4.7 .1-8.7 .1 22.9 0 30.1 .1-44.4 .1-6.5 .1-12.9 .1 26.1 .1-8.7 .1-11.7 .1 10.2 .1-2.2 .1-9.2 0 19.2 .1-43.1 .1 39.9 .1-18.7 .1 6.9 .1 5.3 .1-21.7 .1-9.1 .1-8.5 .1 13.8 .1 20.6 0-27.2 .1 38.9 .1-26.6 .1-9 .1-1.4 .1 29.3 .1 5.6 .1-56.2 .1 37.8 .1 19.6 0-7.6 .1-22.7 .1-21.1 .1 20.7 .1-21.8 .1 17.2 .1-4.5 .1-9.4 .1 24.4 .1-12.1 .1 12.3 0 4.5 .1-23.2 .1 26.7 .1-16 .1 15.9 .1-12.3 .1 8.1 .1-28.5 .1 18.5 .1-1.4 0-25.5 .1 81 .1-30.9 .1 29.1 .1-47.4 .1-7.1 .1-2.8 .1 7.3 .1 20.4 .1-44.5 .1 25.8 0 10.5 .1 15.5 .1-25.4 .1 16.3 .1 5 .1-15 .1 .8 .1 18.1 .1-33.3 .1 38 0 2.8 .1-22.3 .1 3.9 .1 1.9 .1 8.6 .1-6.3 .1 10.6 .1 17.9 .1-36.4 .1 28.2 0-11.3 .1-13.9 .1 11.8 .1-40.4 .1 63.8 .1-9 .1-11.7 .1-18 .1 24.8 .1 32.9 .1-51.6 0 31.1 .1-9.7 .1-23.9 .1 32.3 .1-2.4 .1-12.6 .1 10.6 .1-6.1 .1 18.1 .1-10.9 0 14.3 .1 7 .1-44.9 .1 18.6 .1-5.5 .1 26.3 .1-12.1 .1 3 .1 16.9 .1-25.6 .1 17.5 0-6.3 .1 17.9 .1-32.5 .1 3.7 .1 5.4 .1 17.4 .1-4.2 .1-22.2 .1 19.8 .1-6.4 0 2.1 .1 26.4 .1-42.9 .1 44.7 .1-27.3 .1 4.4 .1 19.5 .1-23.9 .1-1.8 .1 6.2 .1 11.3 0-15.3 .1-7.7 .1 11.3 .1-17.9 .1 11 .1 1.5 .1-7.1 .1 25.1 .1-1.3 .1-12.1 0 .3 .1-11.4 .1 4.8 .1 11.8 .1-.1 .1 6.1 .1 1.4 .1 1.3 .1-15.5 .1 16.4 0-1.1 .1-5.6 .1 8 .1-2.9 .1 22.7 .1-32.2 .1 11.2 .1-5.4 .1-1.7 .1 25.6 .1-48.1 0 25.7 .1-1.8 .1 24.1 .1-26.8 .1 2.5 .1 8.9 .1-6.6 .1-22 .1 28.9 .1 6.5 0-24.4 .1 12 .1 5.2 .1-26.8 .1 23.7 .1 3.9 .1-4.5 .1 7.6 .1-6.3 .1 1 .1 9 0-3.9 .1-5.8 .1-.4 .1-1.8 .1-1.8 .1 6.1 .1-2.5 .1 9.8 .1-1 .1-13.2 0 31.8 .1-24.1 .1-28.5 .1 52.2 .1-34.2 .1 33.9 .1-21.4 .1-24.7 .1 14.1 .1 24.7 .1 4.3 0 1.7 .1-21.3 .1 13.8 .1-5.9 .1-2.2 .1-1.1 .1-.9 .1 4.4 .1 17.4 .1-29.8 0 41.6 .1-38.7 .1 18.3 .1-2.6 .1 2.4 .1-1.2 .1-3.1 .1 2.9 .1 8.1 .1-18.3 .1 14 0-18 .1 14.5 .1 5.6 .1-10.5 .1-3.9 .1 17.2 .1-5.7 .1-15.6 .1 22.8 .1-1.1 0-9.1 .1 13 .1 11.7 .1-7 .1-18.4 .1-2.3 .1 .9 .1 2.1 .1 14.9 .1-16.9 0-4 .1 16.9 .1-14.4 .1 11.9 .1-4.7 .1-1.3 .1 16.7 .1-25.8 .1 25.7 .1-11.4 .1 3.7 0-8.1 .1 .5 .1 3.8 .1-16.2 .1 10.1 .1 8.3 .1 19.3 .1-22.1 .1 .3 .1 5.2 0 .1 .1-12.1 .1-3.6 .1-6.9 .1 6.6 .1 15.8 .1-7.9 .1 13.8 .1-17.4 .1 3.4 .1 8.2 0-4 .1 1.4 .1 3.4 .1-15.9 .1-14.5 .1 19 .1-1.7 .1 7.5 .1 4.4 .1-20.5 0 21 .1-6 .1 4.3 .1-5.5 .1 5.3 .1-5 .1 15.1 .1-9.1 .1-11.6 .1 19.3 .1-2.7 0-16.1 .1 7.9 .1-5.1 .1 26.3 .1-18.7 .1 11.4 .1 1 .1-14 .1-5.9 .1 21.2 0-2.9 .1-4 .1-3.4 .1 9.5 .1-27.7 .1 13.1 .1 7.5 .1 1.4 .1-34.6 .1 13.5 .1 21.2 0-6.3 .1-6.8 .1 18.9 .1-1.5 .1-25.1 .1 23.2 .1-1.9 .1 7.1 .1-4.3 .1-10.9 0 11.6 .1 3.8 .1-5.1 .1-18 .1 12.2 .1 5.7 .1-5.3 .1-2 .1 2.5 .1 14.6 0-15.7 .1 4 .1-7.8 .1 16.5 .1-17.8 .1 11.6 .1 9.1 .1-22.5 .1 13.9 .1-6.5 .1 4.9 0-10 .1 0 .1 0 .1 3.1 .1 17.3 .1 .5 .1-13.7 .1 8.5 .1-10.3 .1 2.3 0 11.7 .1-2.7 .1 .8 .1-1.7 .1-4.9 .1-6.4 .1-4.7 .1 16.9 .1-2.9 .1-15.3 .1 4.9 0 4.9 .1 18.7 .1-9.6 .1-8.4 .1 5.5 .1-18.5 .1 13.8 .1-1.3 .1 10 .1-.3 0-2.7 .1-.2 .1-2.8 .1-4.2 .1 1 .1-5.4 .1 23.7 .1-17.9 .1-.1 .1-17.5 .1 20.9 0-3.8 .1 12.2 .1-12.8 .1-1.7 .1 9.3 .1-1.3 .1-2.8 .1-4.3 .1 12.3 .1-14.3 0 10.3 .1-17.4 .1 3.2 .1 15.2 .1-.4 .1-21.6 .1 12.9 .1 .5 .1 7 .1-2 0-10.4 .1 5.3 .1 10.2 .1-14.5 .1 6.6 .1 8.9 .1-13.6 .1 8.3 .1-6.7 .1 9.4 .1-6.3 0 13.8 .1-13.8 .1 13.2 .1-11.7 .1 18.8 .1-17.1 .1-5.4 .1 1.7 .1-4.9 .1 21 0-23.4 .1-.3 .1 19.5 .1-2.8 .1-1.5 .1-3.7 .1-1.4 .1 18.3 .1-21 .1 5.9 .1 5.2 0-13.4 .1 8.9 .1-10.1 .1 4.2 .1 5.8 .1-10.1 .1 2.5 .1 9 .1 7.6 .1-7.2 0-7.9 .1 5.9 .1-13.7 .1 10.3 .1 .5 .1-1.4 .1 8.8 .1-5.1 .1 3.7 .1 11.5 .1-3.8 0-17.1 .1 8.1 .1-2.2 .1 9.2 .1-6 .1-9.2 .1 4.7 .1 6.6 .1-16.3 .1 10.8 0 2 .1-10.1 .1 19.5 .1-15.4 .1 11.3 .1-2.2 .1-.7 .1-5.4 .1 .2 .1-1.3 .1 .7 0-14.6 .1 4.7 .1 6.6 .1-.3 .1 7.6 .1 4.9 .1-14.1 .1 6.6 .1-5.5 .1 18 0-30.2 .1 26.5 .1-8.7 .1-6.4 .1 15.9 .1-5.5 .1 9.8 .1 2.8 .1-3.3 .1-13.6 0-1.2 .1 4.1 .1-10.5 .1-.8 .1 9.3 .1 1.4 .1 .4 .1 1.2 .1-11.7 .1 7.2 .1 3.8 0-.7 .1-5.1 .1 6.3 .1-4.7 .1 2.3 .1-9.2 .1 1.3 .1 17.1 .1-8.3 .1-5.7 0 7.7 .1-8.3 .1 3.1 .1-1.6 .1 4.3 .1-2.4 .1-1.4 .1 13.2 .1-3.7 .1 .7 .1-17.8 0 9.1 .1-.4 .1 1.3 .1 4.6 .1 1.5 .1-10.4 .1 8 .1-12.8 .1 9.1 .1 .7 0 2.1 .1-1 .1-.7 .1-9.7 .1-5.3 .1 22.9 .1-9.2 .1-3 .1 10.6 .1-1.8 .1-1.1 0 12.8 .1-20 .1 4.6 .1 .3 .1-1.1 .1-1.1 .1-13.5 .1 14 .1-4.3 .1 8.9 0-5.7 .1 4.4 .1-1.1 .1 4.9 .1-.5 .1-8.3 .1-1.9 .1 1.9 .1 7.4 .1-6.4 .1 30 0-34.1 .1 6.4 .1-2 .1-5.8 .1 10.3 .1-8.9 .1 9.1 .1-6.4 .1 6.2 .1-4.6 0-7.5 .1 13.7 .1-.3 .1-1.8 .1-4 .1-15.9 .1 21.6 .1 9.5 .1-9 .1 6 0-6.6 .1-3.9 .1 6.5 .1-1.8 .1 7.7 .1-13.2 .1 6 .1-11.9 .1 .3 .1 12.4 .1-3.2 0-2.8 .1-4.5 .1 15.7 .1-10.3 .1-12.5 .1 12.6 .1-2 .1 1.3 .1 7.8 .1-13.8 0 4.4 .1 .7 .1-3.6 .1-.4 .1 17.3 .1-15.3 .1 6.9 .1-4.8 .1 5.6 .1 1 .1-11.7 0 6.2 .1 1.8 .1 0 .1-2.3 .1 .4 .1 15.3 .1-9.6 .1-4.1 .1-6.3 .1-3.9 0 14.7 .1-27.4 .1 20.8 .1-2.5 .1 6.5 .1 .5 .1-13.1 .1 10.6 .1-.7 .1-8.1 .1-3.6 0 20.6 .1-8.4 .1-1.1 .1-11.7 .1-4.2 .1 16 .1-2.6 .1-3.1" fill="none" stroke="#c0c1c6" stroke-width="1.5"/>
<path d="M417.6 713.1l.4 0 .4-.1 .4 0 .4 0 .4 0 .4 0 .4 0 .4-.1 .4 0 .4 0 .4 0 .4 0 .4 0 .5-.1 .4 0 .4 0 .4 0 .4 0 .4-.1 .4 0 .4 0 .4 0 .4 0 .4-.1 .4 0 .4 0 .4 0 .4-.1 .4 0 .4 0 .4 0 .4-.1 .4 0 .4 0 .4-.1 .4 0 .4 0 .4-.1 .4 0 .4 0 .5-.1 .4 0 .4 0 .4-.1 .4 0 .4 0 .4-.1 .4 0 .4-.1 .4 0 .4 0 .4-.1 .4 0 .4-.1 .4 0 .4-.1 .4 0 .4-.1 .4 0 .4-.1 .4-.1 .4 0 .4-.1 .4 0 .4-.1 .4-.1 .4 0 .4-.1 .5-.1 .4-.1 .4 0 .4-.1 .4-.1 .4-.1 .4-.1 .4-.1 .4-.1 .4-.1 .4-.1 .4-.1 .4-.1 .4-.1 .4-.1 .4-.2 .4-.1 .4-.1 .4-.2 .4-.1 .4-.2 .4-.1 .4-.2 .4-.1 .4-.2 .4-.2 .4-.2 .5-.2 .4-.2 .4-.2 .4-.2 .4-.3 .4-.2 .4-.3 .4-.3 .4-.3 .4-.3 .4-.3 .4-.3 .4-.4 .4-.3 .4-.4 .4-.4 .4-.5 .4-.4 .4-.5 .4-.5 .4-.6 .4-.6 .4-.6 .4-.6 .4-.7 .4-.7 .4-.8 .5-.9 .4-.9 .4-.9 .4-1 .4-1.1 .4-1.2 .4-1.2 .4-1.4 .4-1.4 .4-1.5 .4-1.7 .4-1.8 .4-1.9 .4-2.1 .4-2.2 .4-2.4 .4-2.6 .4-2.8 .4-3 .4-3.3 .4-3.4 .4-3.7 .4-3.9 .4-4.2 .4-4.4 .4-4.6 .4-4.7 .5-4.9 .4-4.9 .4-4.8 .4-4.7 .4-4.4 .4-3.9 .4-3.5 .4-2.7 .4-1.9 .4-1.1 .4-.1 .4 .9 .4 1.7 .4 2.6 .4 3.3 .4 3.9 .4 4.3 .4 4.7 .4 4.8 .4 4.9 .4 4.8 .4 4.8 .4 4.6 .4 4.4 .4 4.2 .4 4 .4 3.8 .4 3.5 .5 3.2 .4 3.1 .4 2.8 .4 2.7 .4 2.4 .4 2.3 .4 2.1 .4 1.9 .4 1.9 .4 1.6 .4 1.6 .4 1.5 .4 1.3 .4 1.3 .4 1.2 .4 1.1 .4 1 .4 1 .4 .9 .4 .8 .4 .8 .4 .7 .4 .7 .4 .7 .4 .6 .4 .6 .4 .6 .5 .5 .4 .5 .4 .4 .4 .5 .4 .4 .4 .4 .4 .4 .4 .3 .4 .3 .4 .4 .4 .3 .4 .3 .4 .2 .4 .3 .4 .3 .4 .2 .4 .2 .4 .3 .4 .2 .4 .2 .4 .2 .4 .1 .4 .2 .4 .2 .4 .2 .4 .1 .4 .2 .5 .1 .4 .2 .4 .1 .4 .1 .4 .1 .4 .2 .4 .1 .4 .1 .4 .1 .4 .1 .4 .1 .4 .1 .4 .1 .4 .1 .4 .1 .4 .1 .4 0 .4 .1 .4 .1 .4 .1 .4 0 .4 .1 .4 .1 .4 0 .4 .1 .4 .1 .4 0 .4 .1 .5 0 .4 .1 .4 .1 .4 0 .4 .1 .4 0 .4 .1 .4 0 .4 0 .4 .1 .4 0 .4 .1 .4 0 .4 .1 .4 0 .4 0 .4 .1 .4 0 .4 0 .4 .1 .4 0 .4 0 .4 .1 .4 0 .4 0 .4 .1 .4 0 .5 0 .4 0 .4 .1 .4 0 .4 0 .4 .1 .4 0 .4 0 .4 0 .4 0 .4 .1 .4 0 .4 0 .4 0" fill="none" stroke="#e8323a" stroke-width="1.2"/>
<path d="M417.6 713.7l.4 0 .4 0 .4 0 .4 0 .4 0 .4 0 .4 0 .4 0 .4 0 .4 0 .4-.1 .4 0 .4 0 .5 0 .4 0 .4 0 .4 0 .4 0 .4 0 .4 0 .4 0 .4 0 .4 0 .4 0 .4-.1 .4 0 .4 0 .4 0 .4 0 .4 0 .4 0 .4 0 .4 0 .4 0 .4 0 .4-.1 .4 0 .4 0 .4 0 .4 0 .5 0 .4 0 .4 0 .4 0 .4-.1 .4 0 .4 0 .4 0 .4 0 .4 0 .4 0 .4 0 .4-.1 .4 0 .4 0 .4 0 .4 0 .4 0 .4 0 .4-.1 .4 0 .4 0 .4 0 .4 0 .4 0 .4-.1 .4 0 .4 0 .5 0 .4 0 .4-.1 .4 0 .4 0 .4 0 .4 0 .4-.1 .4 0 .4 0 .4 0 .4-.1 .4 0 .4 0 .4-.1 .4 0 .4 0 .4 0 .4-.1 .4 0 .4 0 .4-.1 .4 0 .4 0 .4-.1 .4 0 .4-.1 .5 0 .4 0 .4-.1 .4 0 .4-.1 .4 0 .4-.1 .4 0 .4-.1 .4 0 .4-.1 .4 0 .4-.1 .4 0 .4-.1 .4-.1 .4 0 .4-.1 .4-.1 .4 0 .4-.1 .4-.1 .4-.1 .4-.1 .4 0 .4-.1 .4-.1 .5-.1 .4-.1 .4-.1 .4-.1 .4-.2 .4-.1 .4-.1 .4-.1 .4-.2 .4-.1 .4-.1 .4-.2 .4-.2 .4-.1 .4-.2 .4-.2 .4-.2 .4-.2 .4-.2 .4-.2 .4-.2 .4-.2 .4-.3 .4-.2 .4-.3 .4-.3 .4-.3 .5-.3 .4-.3 .4-.4 .4-.3 .4-.4 .4-.4 .4-.4 .4-.4 .4-.5 .4-.4 .4-.5 .4-.5 .4-.6 .4-.6 .4-.5 .4-.6 .4-.7 .4-.6 .4-.7 .4-.7 .4-.7 .4-.8 .4-.7 .4-.8 .4-.8 .4-.8 .4-.7 .4-.8 .5-.7 .4-.8 .4-.7 .4-.6 .4-.6 .4-.6 .4-.4 .4-.5 .4-.3 .4-.2 .4-.1 .4-.1 .4 .1 .4 .1 .4 .2 .4 .3 .4 .5 .4 .4 .4 .6 .4 .6 .4 .6 .4 .7 .4 .8 .4 .7 .4 .8 .4 .7 .4 .8 .5 .8 .4 .8 .4 .7 .4 .8 .4 .7 .4 .7 .4 .7 .4 .6 .4 .7 .4 .6 .4 .5 .4 .6 .4 .6 .4 .5 .4 .5 .4 .4 .4 .5 .4 .4 .4 .4 .4 .4 .4 .4 .4 .3 .4 .4 .4 .3 .4 .3 .4 .3 .4 .3 .5 .3 .4 .2 .4 .3 .4 .2 .4 .2 .4 .2 .4 .2 .4 .2 .4 .2 .4 .2 .4 .2 .4 .1 .4 .2 .4 .2 .4 .1 .4 .1 .4 .2 .4 .1 .4 .1 .4 .1 .4 .2 .4 .1 .4 .1 .4 .1 .4 .1 .4 .1 .4 .1 .4 0 .5 .1 .4 .1 .4 .1 .4 .1 .4 0 .4 .1 .4 .1 .4 0 .4 .1 .4 .1 .4 0 .4 .1 .4 0 .4 .1 .4 0 .4 .1 .4 0 .4 .1 .4 0 .4 .1 .4 0 .4 .1 .4 0 .4 0 .4 .1 .4 0 .4 .1 .5 0 .4 0 .4 .1 .4 0 .4 0 .4 .1 .4 0 .4 0 .4 0 .4 .1 .4 0 .4 0 .4 .1 .4 0" fill="none" stroke="#3468bf" stroke-width="1.2"/>
<path d="M417.6 712.6l.4-.1 .4 0 .4 0 .4 0 .4 0 .4-.1 .4 0 .4 0 .4 0 .4-.1 .4 0 .4 0 .4 0 .5-.1 .4 0 .4 0 .4 0 .4-.1 .4 0 .4 0 .4-.1 .4 0 .4 0 .4 0 .4-.1 .4 0 .4 0 .4-.1 .4 0 .4 0 .4-.1 .4 0 .4 0 .4-.1 .4 0 .4-.1 .4 0 .4 0 .4-.1 .4 0 .5-.1 .4 0 .4-.1 .4 0 .4-.1 .4 0 .4-.1 .4 0 .4-.1 .4 0 .4-.1 .4-.1 .4 0 .4-.1 .4 0 .4-.1 .4-.1 .4 0 .4-.1 .4-.1 .4-.1 .4 0 .4-.1 .4-.1 .4-.1 .4-.1 .4 0 .4-.1 .5-.1 .4-.1 .4-.1 .4-.1 .4-.1 .4-.1 .4-.2 .4-.1 .4-.1 .4-.1 .4-.1 .4-.2 .4-.1 .4-.2 .4-.1 .4-.2 .4-.1 .4-.2 .4-.2 .4-.1 .4-.2 .4-.2 .4-.2 .4-.2 .4-.2 .4-.2 .4-.3 .5-.2 .4-.3 .4-.2 .4-.3 .4-.3 .4-.3 .4-.3 .4-.3 .4-.3 .4-.4 .4-.4 .4-.4 .4-.4 .4-.4 .4-.5 .4-.4 .4-.5 .4-.6 .4-.5 .4-.6 .4-.6 .4-.7 .4-.7 .4-.7 .4-.8 .4-.8 .4-.9 .5-.9 .4-1 .4-1.1 .4-1.1 .4-1.2 .4-1.3 .4-1.3 .4-1.5 .4-1.6 .4-1.7 .4-1.8 .4-1.9 .4-2.1 .4-2.2 .4-2.4 .4-2.6 .4-2.8 .4-3 .4-3.2 .4-3.5 .4-3.6 .4-4 .4-4.1 .4-4.5 .4-4.6 .4-4.9 .4-5 .5-5.2 .4-5.2 .4-5.2 .4-5 .4-4.8 .4-4.3 .4-3.9 .4-3.1 .4-2.4 .4-1.5 .4-.6 .4 .3 .4 1.2 .4 2 .4 2.8 .4 3.2 .4 3.7 .4 4 .4 4.1 .4 4.2 .4 4.2 .4 4 .4 3.8 .4 3.7 .4 3.4 .4 3.2 .4 3 .4 2.7 .5 2.6 .4 2.3 .4 2.1 .4 2 .4 1.9 .4 1.7 .4 1.6 .4 1.6 .4 1.5 .4 1.4 .4 1.4 .4 1.4 .4 1.4 .4 1.5 .4 1.4 .4 1.4 .4 1.4 .4 1.5 .4 1.4 .4 1.5 .4 1.4 .4 1.4 .4 1.5 .4 1.4 .4 1.4 .4 1.3 .4 1.4 .5 1.2 .4 1.3 .4 1.2 .4 1.2 .4 1.1 .4 1.1 .4 1.1 .4 1 .4 1 .4 .9 .4 .9 .4 .9 .4 .8 .4 .8 .4 .7 .4 .7 .4 .7 .4 .6 .4 .7 .4 .6 .4 .5 .4 .6 .4 .5 .4 .5 .4 .5 .4 .4 .4 .4 .5 .5 .4 .4 .4 .3 .4 .4 .4 .3 .4 .4 .4 .3 .4 .3 .4 .3 .4 .3 .4 .3 .4 .2 .4 .3 .4 .2 .4 .2 .4 .3 .4 .2 .4 .2 .4 .2 .4 .2 .4 .2 .4 .2 .4 .1 .4 .2 .4 .2 .4 .1 .4 .2 .4 .1 .5 .1 .4 .2 .4 .1 .4 .1 .4 .2 .4 .1 .4 .1 .4 .1 .4 .1 .4 .1 .4 .1 .4 .1 .4 .1 .4 .1 .4 .1 .4 .1 .4 .1 .4 .1 .4 .1 .4 0 .4 .1 .4 .1 .4 .1 .4 0 .4 .1 .4 .1 .4 0 .5 .1 .4 .1 .4 0 .4 .1 .4 0 .4 .1 .4 0 .4 .1 .4 0 .4 .1 .4 0 .4 .1 .4 0 .4 .1" fill="none" stroke="#111" stroke-width="1.6"/>
</g>
<rect x="417.6" y="538.3" width="121.10" height="216.30" fill="none" stroke="#262626" stroke-width="1.15"/>
<line x1="437.78" y1="754.6" x2="437.78" y2="758.1" stroke="#262626" stroke-width="1.1"/>
<text x="437.78" y="775.70" text-anchor="middle" class="tk">600</text>
<line x1="470.08" y1="754.6" x2="470.08" y2="758.1" stroke="#262626" stroke-width="1.1"/>
<text x="470.08" y="775.70" text-anchor="middle" class="tk">640</text>
<line x1="502.37" y1="754.6" x2="502.37" y2="758.1" stroke="#262626" stroke-width="1.1"/>
<text x="502.37" y="775.70" text-anchor="middle" class="tk">680</text>
<line x1="534.66" y1="754.6" x2="534.66" y2="758.1" stroke="#262626" stroke-width="1.1"/>
<text x="534.66" y="775.70" text-anchor="middle" class="tk">720</text>
<line x1="421.64" y1="754.6" x2="421.64" y2="757.1" stroke="#262626" stroke-width="1.1"/>
<line x1="453.93" y1="754.6" x2="453.93" y2="757.1" stroke="#262626" stroke-width="1.1"/>
<line x1="486.22" y1="754.6" x2="486.22" y2="757.1" stroke="#262626" stroke-width="1.1"/>
<line x1="518.52" y1="754.6" x2="518.52" y2="757.1" stroke="#262626" stroke-width="1.1"/>
<line x1="413.6" y1="718.55" x2="417.6" y2="718.55" stroke="#262626" stroke-width="1.1"/>
<line x1="413.6" y1="646.45" x2="417.6" y2="646.45" stroke="#262626" stroke-width="1.1"/>
<line x1="413.6" y1="574.35" x2="417.6" y2="574.35" stroke="#262626" stroke-width="1.1"/>
<line x1="415.6" y1="754.60" x2="417.6" y2="754.60" stroke="#262626" stroke-width="1.1"/>
<line x1="415.6" y1="682.50" x2="417.6" y2="682.50" stroke="#262626" stroke-width="1.1"/>
<line x1="415.6" y1="610.40" x2="417.6" y2="610.40" stroke="#262626" stroke-width="1.1"/>
<line x1="415.6" y1="538.30" x2="417.6" y2="538.30" stroke="#262626" stroke-width="1.1"/>
<text x="411.60" y="724.25" text-anchor="end" class="tk">0</text>
<text x="411.60" y="652.15" text-anchor="end" class="tk">20</text>
<text x="411.60" y="580.05" text-anchor="end" class="tk">40</text>
<text x="480.2" y="793.8" text-anchor="middle" class="lab">Wavelength (nm)</text>
<g clip-path="url(#cfr)">
<path d="M554.3 707l.1-.8 .1 .3 .1 16.3 .1-20.6 .1 9.8 0-1.2 .1-6.8 .1 24.5 .1-22 .1 1.6 .1-7.1 .1 8.2 .1-6.3 .1 1.7 .1 14.5 0-7.2 .1 4.2 .1-4.2 .1 5.2 .1 4 .1-8.7 .1 1.3 .1-5.1 .1-7.4 .1 12.8 .1-.9 0-9.2 .1 1.6 .1 16.3 .1-9.9 .1 9.5 .1-4 .1-2.2 .1-2.2 .1 1 .1-3.9 .1 0 0-7.9 .1 4.9 .1 11.8 .1-15.3 .1 6.6 .1 9.4 .1-1.2 .1-6.5 .1-.3 .1-1.6 0 11.9 .1-7.6 .1-15.2 .1 24.1 .1-2.4 .1-8.7 .1-1.6 .1 5.5 .1-4.6 .1 1.6 .1 4.7 0-5.1 .1 1.8 .1-4.2 .1-2.1 .1 9.9 .1-5 .1 6 .1-4.3 .1-3.1 .1-3.6 0 9.4 .1-9 .1 4.6 .1 1.1 .1-.2 .1 2.3 .1-6 .1 10.1 .1-10.7 .1 6.2 .1-12.6 0 12.4 .1-5.2 .1-2.5 .1-.3 .1-5 .1-.6 .1 11.2 .1 1.9 .1-11.9 .1 6.3 .1 3.2 0-.9 .1-5.3 .1 .3 .1 18.4 .1-8.4 .1-1.5 .1 3 .1-13.5 .1-.7 .1 8.5 0-9.8 .1 10.8 .1-10.6 .1 3.5 .1 3.5 .1-4.8 .1 9.1 .1-10.3 .1 9.4 .1-9.1 .1 11.7 0-.2 .1-5.7 .1-.1 .1-7.2 .1 9.2 .1-3.3 .1-.2 .1-10.2 .1 10.1 .1 9.6 0 2.2 .1-6.6 .1-3.4 .1 13.4 .1-4.7 .1-1.2 .1-5.6 .1-3.9 .1 11.6 .1-2.5 .1-13 0-3.1 .1 7.7 .1 7 .1 .1 .1-8 .1 15.2 .1-.8 .1-15.8 .1 14.9 .1-4.1 .1-17.7 0 16 .1-11.5 .1 10.1 .1 5.1 .1-9.6 .1 3.4 .1-5.9 .1 14.4 .1-12.5 .1 1.8 0-3.7 .1 3.3 .1 7.8 .1-20.1 .1 8.2 .1-.1 .1-.6 .1 4.1 .1 5.8 .1 7.6 .1-1.3 0-7.9 .1 12.2 .1-10 .1-12.8 .1 14.7 .1-17.7 .1 22.4 .1-14.7 .1 16.4 .1-14.3 0-8.2 .1 12.4 .1 5.8 .1-.7 .1-11.2 .1-1.3 .1 2.9 .1 5.7 .1 3.7 .1-1.6 .1 1.3 0 11 .1-24.1 .1-6.4 .1 4.8 .1-2.6 .1 15 .1 7.5 .1-13 .1 3.1 .1 5.4 .1-9.7 0 5.5 .1-7 .1 1.7 .1 7.9 .1-5.3 .1 3.3 .1-5.4 .1 2.5 .1 5.7 .1-8.7 0 4.1 .1-.4 .1-1.6 .1-13.4 .1 11.5 .1 3.7 .1 2.8 .1 6.4 .1-10.4 .1-.2 .1 3.6 0-8.1 .1 .9 .1-.5 .1 5.7 .1-11 .1 5.7 .1 7.6 .1-4 .1-6.3 .1 10.2 .1-11.9 0 10.6 .1 8.7 .1-15.9 .1 7.7 .1-3.4 .1 1.2 .1-7.6 .1 6.7 .1-5.4 .1 10.8 0-5.8 .1 4.1 .1-3.1 .1-14.1 .1 18.4 .1-7.2 .1 6.6 .1-6.9 .1 7.9 .1-1.8 .1 7.4 0-18.4 .1 7.3 .1-1.2 .1 9.7 .1-17.4 .1 2.4 .1 9.1 .1-3.9 .1 3.3 .1-7.5 0 19.5 .1-14.8 .1-.5 .1-3.7 .1 11.7 .1-1.7 .1 1.9 .1-12.4 .1 3.1 .1-4.1 .1 1.5 0 1 .1 11.2 .1-6 .1-15 .1 11.5 .1 8.1 .1-.8 .1-2.5 .1-1.3 .1-2.3 .1 .7 0-2.8 .1-3.7 .1 2.6 .1 10.2 .1-19 .1 14 .1 2.8 .1-11 .1-1.9 .1 5.6 0-5.1 .1 9.7 .1-.8 .1 5.9 .1-17.8 .1 9.7 .1-9 .1 12.1 .1-9 .1 6.3 .1-9.9 0 10.3 .1-8.6 .1 18.9 .1-7.7 .1 .7 .1-9.7 .1 19.3 .1-5.7 .1-9.8 .1 3 0 0 .1-2.9 .1 4.1 .1-5.5 .1-3.9 .1 13.7 .1-13.4 .1 12.5 .1 3.4 .1-7.5 .1 .3 0-2.3 .1 8.8 .1-6.4 .1 3.1 .1-10.3 .1 6.3 .1 4.2 .1 2.7 .1-6.3 .1-12.1 .1 22.6 0-6.4 .1-16.9 .1 6.5 .1 7.5 .1-.5 .1 1.9 .1 2.7 .1-3.7 .1-5 .1 1 0 11.4 .1-8 .1 2.8 .1-11.6 .1 16 .1-1.3 .1 7 .1-36.1 .1 11.1 .1 12.1 .1-7.4 0 16.6 .1-9.2 .1-15.7 .1 15.2 .1 7.3 .1-4.4 .1-.1 .1-2.7 .1 0 .1 2.1 0 6.3 .1-9.1 .1 0 .1 9.7 .1-13.4 .1 4.5 .1-11.8 .1 7.7 .1 7.1 .1 1.5 .1-16.7 0 3.8 .1 3.8 .1-1.9 .1 13.7 .1-15.8 .1 8.1 .1-.6 .1-11.5 .1 7.6 .1 13 .1-13.7 0 5.2 .1-8.4 .1 6.1 .1-2.7 .1 9.7 .1-.9 .1 1.7 .1-9 .1 7.7 .1-3.8 0-15.6 .1 7.5 .1-9.7 .1 19.4 .1 .8 .1-2.8 .1-11.2 .1 13.6 .1-17.9 .1 18.2 .1-14.2 0 15 .1-1 .1-7.4 .1 2.5 .1 2 .1 .8 .1-4.6 .1 5.5 .1-15.2 .1 6.8 0 1.8 .1 9.4 .1-24 .1 13.6 .1 10.6 .1-.3 .1 10.2 .1-11.7 .1 8.9 .1-3.3 .1-17.5 0 10.7 .1 3.1 .1-15.9 .1 17.6 .1-19.8 .1 14.7 .1-4.2 .1 4.8 .1 1.1 .1-4.8 .1-7.4 0 8 .1 6.9 .1 4.7 .1-18.6 .1 12.1 .1 2.3 .1-9.8 .1-.1 .1-.7 .1 7.6 0 8.2 .1-15.5 .1 3.7 .1 .1 .1 5.4 .1-9.1 .1 3 .1-1.4 .1-5.9 .1 9.2 .1 .7 0-.1 .1 8.2 .1-7.6 .1-8.6 .1 1.3 .1 8.5 .1 4.2 .1-10.5 .1 2.7 .1-1.4 0-14.1 .1 17.1 .1-8.4 .1 5.1 .1-3.4 .1 9.8 .1-4 .1-2.4 .1 2.9 .1-1.4 .1 2.2 0-13.1 .1 25.5 .1-19.2 .1 4.4 .1 7.8 .1-3.2 .1 5.5 .1-13.3 .1-.8 .1 .2 .1-6 0 21 .1-2.5 .1-5.3 .1-7.3 .1 1.6 .1 9.6 .1-6.8 .1-4.7 .1 14.2 .1-12.8 0-2.3 .1-1 .1 .1 .1 10.4 .1 9.8 .1-4.6 .1-3 .1-4.1 .1-6.3 .1 4.5 .1-1.7 0-6.9 .1 18.8 .1-11.6 .1-2.6 .1-4.1 .1-5.8 .1 7.4 .1 13.3 .1-10.5 .1 9.1 0-8 .1 9.5 .1-3.6 .1-5 .1 8.6 .1-7.4 .1 .9 .1-3.8 .1 7.2 .1 3.5 .1 3.9 0-14.1 .1-1.1 .1 15.5 .1 .3 .1-16.1 .1 4.1 .1-4.8 .1 4.7 .1-7.7 .1-13.8 .1 12.7 0-15 .1 13.8 .1-15.9 .1 30.8 .1-34.1 .1 32.7 .1-15.2 .1 8.5 .1-11.6 .1 3.9 0 .5 .1-7.3 .1-2.7 .1 11.6 .1-14 .1 22.9 .1-5.4 .1 2.3 .1-14.6 .1-3.5 .1 10.3 0 1.5 .1 4.3 .1-15 .1-3.8 .1 13.3 .1-2.2 .1 2.9 .1-5.4 .1-4.1 .1 21.2 0-13.6 .1-11 .1 13.6 .1-17.7 .1-1.5 .1 24.3 .1-2.3 .1-21.9 .1 24 .1-5 .1 13.8 0-23.1 .1-3 .1-1.3 .1 1.5 .1 13.8 .1-21.8 .1 10.1 .1 2.6 .1-18 .1 13.2 .1-2.2 0-4.4 .1-10.3 .1 17 .1-6.3 .1 25.7 .1-11.9 .1-26.5 .1 .2 .1 18.4 .1 11.7 0-1.6 .1-1.8 .1-5.7 .1 9.9 .1-14.7 .1 1.4 .1 8.1 .1 .3 .1-1.5 .1-6.4 .1-2.8 0-7.5 .1 20.8 .1-13.1 .1-3.9 .1-3 .1-5.4 .1 11.3 .1-15.7 .1-10.3 .1 16.9 .1-11 0 5 .1 4.5 .1 5.9 .1-5 .1-17.7 .1 17.9 .1 8.4 .1-3.1 .1-12.9 .1 13.4 0-15.7 .1 1.2 .1 4.5 .1-26.6 .1 41 .1-8 .1-4.3 .1-6.2 .1 26.7 .1-17.8 .1-19.7 0 17 .1-14.1 .1 11.5 .1 4.9 .1-13.7 .1-8.9 .1 13.8 .1 13 .1-6.1 .1-4 0-2.5 .1 6.8 .1-18.2 .1 18.6 .1-22.9 .1 21.9 .1 6.4 .1-31.6 .1 4.1 .1 11.3 .1 2.4 0-4.7 .1-3.6 .1-2.9 .1-9.6 .1 27.9 .1-17 .1-1.1 .1 16.2 .1-30.1 .1-6.4 .1 19.3 0 20.2 .1-11.5 .1-21.1 .1 35 .1-.7 .1-18.1 .1-12.1 .1-4.7 .1-2.6 .1 40.6 0-21.8 .1 4.4 .1-.1 .1-21.7 .1 4 .1 14 .1-12.1 .1 0 .1-13.3 .1 22.2 .1-14.6 0 22.9 .1-20.9 .1 5.7 .1-3.8 .1 3.2 .1-18.7 .1 26.9 .1 2.7 .1-4.6 .1-12.5 0-3.1 .1 9.3 .1 7.4 .1-3.1 .1 3.4 .1-14.2 .1 6.3 .1-2.8 .1 2.1 .1 0 .1-12.5 0 19.5 .1-10.5 .1-.1 .1 14.1 .1-27.4 .1 16.8 .1 16.2 .1-32.1 .1 12.9 .1-1.3 .1 10.9 0 2 .1-5.6 .1 17.7 .1-17.1 .1 .7 .1-8.4 .1 12.9 .1-8.9 .1 23.1 .1-7 0-17 .1-18.7 .1 18.1 .1 26.9 .1 3.2 .1-12.3 .1-20.2 .1 20.7 .1-9 .1-2.2 .1 .4 0 6.9 .1-4.9 .1-5.3 .1 7.7 .1 2.5 .1-8.7 .1-18.9 .1 1.5 .1 38.8 .1-14.8 0 2 .1 13.1 .1-8.4 .1 4.4 .1 3.4 .1-3.6 .1-12.8 .1 25.2 .1-12.6 .1-3.9 .1 9.2 0 2.7 .1 4 .1-8.5 .1-22.1 .1 32.3 .1-26.1 .1 18.5 .1 .4 .1-17.5 .1 2.5 .1-.7 0 6.8 .1-8.7 .1 15.3 .1-9.8 .1-6.1 .1 10.4 .1 8.4 .1-25.4 .1 19.3 .1 7.7 0-16.1 .1-6.3 .1 7.2 .1 17.8 .1-12.5 .1-2.4 .1-3.1 .1 20.8 .1-1.5 .1-14.5 .1 1.9 0-4.3 .1-6.9 .1 25.3 .1-2.1 .1-5.4 .1-20.7 .1 18.8 .1-13.2 .1 33.4 .1-25.7 0-6.8 .1-4.8 .1 21.1 .1-26.8 .1 28 .1-22.4 .1-2.3 .1 17.6 .1 12.6 .1-34.8 .1 18.1 0 15.6 .1-16.5 .1 15.4 .1-11.9 .1 12.6 .1 11.7 .1-28.7 .1 13.7 .1-5.4 .1-2.1 .1 4.2 0 4 .1-10.1 .1-2.2 .1 3.8 .1 8 .1-5.9 .1-14 .1-5.2 .1 22.2 .1-8.1 0 .3 .1 .1 .1 5.3 .1-4.1 .1 9.5 .1-11.2 .1 1.7 .1-1.2 .1 .4 .1 1.2 .1 12.7 0 3.9 .1-12 .1 5.1 .1-10.2 .1 13 .1-1.4 .1 8.4 .1-11.1 .1 2.8 .1-13.9 0 10.2 .1-12 .1 19.9 .1 7.7 .1-23.9 .1 5.4 .1-9.4 .1 20.3 .1 9.8 .1-29.5 .1 11.5 0 10.8 .1-26.9 .1 18.7 .1 7.9 .1-10.5 .1 8.2 .1 2.9 .1-10.6 .1 3.4 .1 2.2 .1-.4 0 11 .1-17.7 .1-10 .1 14.2 .1-8.3 .1-5.8 .1 19.1 .1 4.2 .1 2.6 .1-3.9 0-10.4 .1 8.1 .1-11 .1 15.6 .1-19 .1 16.7 .1-1.7 .1-1.1 .1 2.8 .1-.8 .1-5.6 0 5.8 .1-4.1 .1 10.4 .1 .2 .1 5.2 .1-17.1 .1 12.9 .1-10.1 .1 2.9 .1 .1 0 3 .1-6.2 .1 .8 .1-9 .1 15.1 .1 1.3 .1 6.8 .1-26.6 .1 23 .1-11.8 .1-8.8 0 20.8 .1-4.3 .1-10.6 .1 6 .1 10.2 .1-10.8 .1-10.6 .1 9.3 .1-1.4 .1-5.4 .1-6.6 0 16.5 .1 5.2 .1-4 .1 3.3 .1 7 .1-9.1 .1 11 .1-21.3 .1 10.6 .1 32.5 0-25.2 .1-10.3 .1 7.4 .1 2 .1-1.8 .1 2.4 .1-10.7 .1 10.7 .1 1.1 .1-12.9 .1 21.5 0-16.6 .1 9.3 .1-4.1 .1 .7 .1 4.8 .1-3.8 .1-15.2 .1 19.3 .1-22.8 .1 8.7 0-5.3 .1 15.3 .1-11.5 .1 6.6 .1-13.4 .1 18.2 .1-12.2 .1 13.6 .1-14.5 .1 15.2 .1 3.5 0 1.9 .1-2.4 .1-18.5 .1 20.9 .1-3.9 .1-4.6 .1-1 .1-1.3 .1-9.9 .1 13.3 .1 9 0-15.7 .1 8.4 .1-1.3 .1-2.5 .1-10.4 .1 2.6 .1 8.6 .1 3 .1-5.7 .1 8.7 0 7.3 .1-4.3 .1-15.1 .1 11.9 .1-1.2 .1-13.9 .1-7.1 .1 7 .1 16.1 .1-9 .1-5.9 0-2.7 .1 15.1 .1-1.1 .1 3.8 .1-1.4 .1-6.3 .1 .1 .1 13.1 .1-15 .1 3.3 .1-7.6 0 12.8 .1-5.2 .1 17.3 .1-21 .1 1.4 .1-1.9 .1 5.8 .1 .1 .1 .7 .1-9 0 15.3 .1-6 .1-4.8 .1 6.7 .1 4 .1-4.3 .1-4.1 .1-8.7 .1 14.5 .1 11.3 .1-21.7 0 7 .1-4 .1 4.9 .1-.5 .1 13 .1-16.9 .1 16.7 .1-17.1 .1 17.5 .1-20.9 0 9.3 .1 14.6 .1-16.4 .1 .2 .1 0 .1 8.3 .1-22.5 .1 18.5 .1-10.1 .1 23.7 .1-20.9 0 .8 .1 3.6 .1-14.1 .1 18 .1-7 .1 3.5 .1-2.2 .1 8.4 .1-10.8 .1 .7 .1 1.7 0-1.3 .1 5.9 .1 1.5 .1-2.5 .1-4 .1 10.6 .1-7.4 .1-10.9 .1 5.5 .1 15.5 0-18.9 .1 19.4 .1-9.8 .1-8.7 .1 3 .1 2.1 .1 9.2 .1 4 .1-14.2 .1 1.7 .1-9.2 0 15 .1 3.4 .1-3.5 .1 17 .1-18.1 .1-1.9 .1 .8 .1-12.9 .1-.4 .1 16.2 0-.3 .1-11.9 .1 1.3 .1 15.2 .1-3.3 .1 4.1 .1-.4 .1-4.7 .1 4.5 .1-13.1 .1 1.8 0 14.4 .1-3.8 .1-.6 .1-15.9 .1 13.4 .1-9.9 .1-4.9 .1 16.3 .1-9.2 .1 2.8 .1-5.1 0 14.8 .1-6.6 .1 8.5 .1-15.6 .1 17.6 .1-13.2 .1 10.7 .1-5.4 .1 .6 .1-5.9 0-3 .1-4 .1-1.4 .1 8.7 .1 7.4 .1-15.2 .1 16.2 .1-8.2 .1 4.6 .1-.4 .1-5.3 0 8.7 .1-6.8 .1 0 .1-7.5 .1-.4 .1 2.3 .1 4.7 .1-10.9 .1 4.9 .1 14.6 0-10.2 .1-1 .1 8.5 .1-7.1 .1 3.8 .1 3.7 .1-6.2 .1 4.5 .1 3.9 .1-8.1 .1 12.2 0-19.4 .1 9.7 .1-2.8 .1-5.7 .1 .2 .1 8 .1-4 .1-4.2 .1-2.8 .1 14.3 .1-8.5 0 10.5 .1 2.7 .1-9.2 .1 .9 .1 5.8 .1-1.2 .1-5.3 .1 8.9 .1-10.3 .1 8.8 0-16.8 .1 8 .1-3.7 .1 7.2 .1-9.5 .1 3.9 .1-1.5 .1 4.1 .1-3.3 .1 4.7 .1-7.3 0 8.6 .1 .1 .1-3 .1 .3 .1 1.1 .1 4.6 .1-3.2 .1-7.8 .1 5.2 .1-1.3 0 5.5 .1-12.3 .1 11.3 .1-5.8 .1 3.7 .1-7.9 .1 17.9 .1 3.2 .1-11 .1 14 .1-11 0-.4 .1-2.9 .1-5.9 .1 12.9 .1-12 .1-4.7 .1-2.4 .1 17.6 .1-4.9 .1-14.7 .1 18.8 0-13.8 .1 4.9 .1-1.2 .1 14.3 .1-1.6 .1-3.4 .1-9.7 .1-1.2 .1 10.4 .1-7 0 1 .1 11.5 .1-3.5 .1 5.5 .1-5 .1 1.9 .1-22.2 .1 7.7 .1 6.8 .1-3.3 .1 7.5 0 9.7 .1-16.6 .1-2 .1 8.7 .1-12.8 .1 1 .1 1.6 .1 17.3 .1-12.4 .1-3.7 0 9.6 .1-2.2 .1-8.8 .1-7.8 .1 8 .1 3.6 .1 4.8 .1 3.7 .1-1.5 .1-7.9 .1 5.6 0-11.8 .1 23.4 .1-7.4 .1-7.1 .1-1.8 .1 .7 .1 7.6 .1-2.2 .1-10.8 .1 8.4 .1 .6 0-7.2 .1 1.5 .1 2.5 .1-10.7 .1 19.4 .1-11 .1 8.9 .1-17.4 .1 17 .1-10.3 0 6.8 .1-18.7 .1 14.6 .1-12.5 .1 18.3 .1-.4 .1-6.1 .1 13.1 .1-4.9 .1-15.4 .1 2.5 0 8.4 .1-8.5 .1 4.2 .1-.1 .1 9.1 .1-12.2 .1 9.7 .1-13 .1 16 .1-22.4 0 20.1 .1 4.4 .1-1.5 .1-9.5 .1 .6 .1 6.2 .1-9.3 .1-7.4 .1 11.5" fill="none" stroke="#c0c1c6" stroke-width="1.5"/>
<path d="M554.3 713.5l.4 0 .4 0 .4 0 .4 0 .4 0 .4 0 .4 0 .4 0 .4 0 .4-.1 .4 0 .5 0 .4 0 .4 0 .4 0 .4 0 .4 0 .4 0 .4 0 .4-.1 .4 0 .4 0 .4 0 .4 0 .4 0 .4 0 .4 0 .4-.1 .4 0 .4 0 .4 0 .4 0 .4 0 .4 0 .5-.1 .4 0 .4 0 .4 0 .4 0 .4 0 .4-.1 .4 0 .4 0 .4 0 .4 0 .4-.1 .4 0 .4 0 .4 0 .4-.1 .4 0 .4 0 .4 0 .4-.1 .4 0 .4 0 .4 0 .5-.1 .4 0 .4 0 .4-.1 .4 0 .4 0 .4-.1 .4 0 .4 0 .4-.1 .4 0 .4 0 .4-.1 .4 0 .4-.1 .4 0 .4-.1 .4 0 .4-.1 .4 0 .4-.1 .4 0 .4-.1 .5 0 .4-.1 .4-.1 .4 0 .4-.1 .4-.1 .4-.1 .4 0 .4-.1 .4-.1 .4-.1 .4-.1 .4-.1 .4-.1 .4-.1 .4-.1 .4-.1 .4-.1 .4-.2 .4-.1 .4-.1 .4-.2 .4-.1 .5-.2 .4-.1 .4-.2 .4-.2 .4-.2 .4-.2 .4-.2 .4-.2 .4-.3 .4-.2 .4-.3 .4-.3 .4-.3 .4-.3 .4-.3 .4-.4 .4-.3 .4-.4 .4-.4 .4-.5 .4-.5 .4-.5 .4-.5 .5-.6 .4-.7 .4-.6 .4-.7 .4-.8 .4-.8 .4-.9 .4-.9 .4-1.1 .4-1 .4-1.2 .4-1.2 .4-1.4 .4-1.4 .4-1.5 .4-1.6 .4-1.7 .4-1.8 .4-1.8 .4-2 .4-2 .4-2 .4-2.1 .5-2.1 .4-2 .4-1.9 .4-1.7 .4-1.6 .4-1.3 .4-1 .4-.7 .4-.4 .4 .1 .4 .4 .4 .8 .4 1 .4 1.4 .4 1.6 .4 1.8 .4 1.9 .4 2 .4 2.1 .4 2.1 .4 2 .4 2 .4 1.9 .4 1.9 .5 1.8 .4 1.6 .4 1.6 .4 1.5 .4 1.4 .4 1.3 .4 1.2 .4 1.2 .4 1.1 .4 .9 .4 1 .4 .8 .4 .9 .4 .7 .4 .7 .4 .7 .4 .6 .4 .6 .4 .5 .4 .5 .4 .5 .4 .4 .4 .5 .5 .4 .4 .3 .4 .4 .4 .3 .4 .3 .4 .3 .4 .3 .4 .2 .4 .3 .4 .2 .4 .2 .4 .3 .4 .2 .4 .1 .4 .2 .4 .2 .4 .2 .4 .1 .4 .2 .4 .1 .4 .1 .4 .2 .4 .1 .5 .1 .4 .1 .4 .1 .4 .1 .4 .1 .4 .1 .4 .1 .4 .1 .4 .1 .4 .1 .4 .1 .4 0 .4 .1 .4 .1 .4 0 .4 .1 .4 .1 .4 0 .4 .1 .4 0 .4 .1 .4 0 .4 .1 .5 0 .4 .1 .4 0 .4 .1 .4 0 .4 .1 .4 0 .4 0 .4 .1 .4 0 .4 .1 .4 0 .4 0 .4 0 .4 .1 .4 0 .4 0 .4 .1 .4 0 .4 0 .4 .1 .4 0 .4 0 .5 0 .4 0 .4 .1 .4 0 .4 0 .4 0 .4 .1 .4 0 .4 0 .4 0 .4 0 .4 .1 .4 0 .4 0 .4 0 .4 0 .4 0 .4 .1 .4 0 .4 0 .4 0 .4 0 .4 0 .5 0 .4 .1 .4 0 .4 0 .4 0 .4 0 .4 0 .4 0 .4 0 .4 .1 .4 0 .4 0" fill="none" stroke="#e8323a" stroke-width="1.2"/>
<path d="M554.3 713.7l.4-.1 .4 0 .4 0 .4 0 .4 0 .4 0 .4 0 .4 0 .4 0 .4 0 .4 0 .5 0 .4 0 .4 0 .4 0 .4 0 .4 0 .4-.1 .4 0 .4 0 .4 0 .4 0 .4 0 .4 0 .4 0 .4 0 .4 0 .4 0 .4 0 .4 0 .4-.1 .4 0 .4 0 .4 0 .5 0 .4 0 .4 0 .4 0 .4 0 .4 0 .4 0 .4-.1 .4 0 .4 0 .4 0 .4 0 .4 0 .4 0 .4 0 .4-.1 .4 0 .4 0 .4 0 .4 0 .4 0 .4 0 .4 0 .5-.1 .4 0 .4 0 .4 0 .4 0 .4 0 .4-.1 .4 0 .4 0 .4 0 .4 0 .4 0 .4-.1 .4 0 .4 0 .4 0 .4 0 .4-.1 .4 0 .4 0 .4 0 .4-.1 .4 0 .5 0 .4 0 .4-.1 .4 0 .4 0 .4-.1 .4 0 .4 0 .4 0 .4-.1 .4 0 .4 0 .4-.1 .4 0 .4-.1 .4 0 .4 0 .4-.1 .4 0 .4-.1 .4 0 .4 0 .4-.1 .5 0 .4-.1 .4-.1 .4 0 .4-.1 .4 0 .4-.1 .4 0 .4-.1 .4-.1 .4 0 .4-.1 .4-.1 .4-.1 .4 0 .4-.1 .4-.1 .4-.1 .4-.1 .4-.1 .4-.1 .4-.1 .4-.1 .5-.1 .4-.1 .4-.1 .4-.2 .4-.1 .4-.1 .4-.2 .4-.1 .4-.2 .4-.1 .4-.2 .4-.2 .4-.2 .4-.2 .4-.2 .4-.2 .4-.2 .4-.2 .4-.3 .4-.2 .4-.3 .4-.3 .4-.3 .5-.3 .4-.3 .4-.3 .4-.4 .4-.3 .4-.4 .4-.4 .4-.4 .4-.5 .4-.5 .4-.4 .4-.5 .4-.6 .4-.5 .4-.6 .4-.6 .4-.6 .4-.7 .4-.6 .4-.7 .4-.7 .4-.7 .4-.7 .4-.8 .5-.7 .4-.7 .4-.7 .4-.7 .4-.7 .4-.7 .4-.6 .4-.6 .4-.5 .4-.4 .4-.4 .4-.3 .4-.2 .4-.2 .4 0 .4 0 .4 .2 .4 .2 .4 .3 .4 .4 .4 .4 .4 .5 .4 .6 .5 .6 .4 .7 .4 .7 .4 .7 .4 .7 .4 .7 .4 .7 .4 .8 .4 .7 .4 .7 .4 .7 .4 .7 .4 .6 .4 .7 .4 .6 .4 .6 .4 .6 .4 .5 .4 .6 .4 .5 .4 .4 .4 .5 .4 .5 .5 .4 .4 .4 .4 .4 .4 .3 .4 .4 .4 .3 .4 .3 .4 .3 .4 .3 .4 .3 .4 .3 .4 .2 .4 .3 .4 .2 .4 .2 .4 .2 .4 .2 .4 .2 .4 .2 .4 .2 .4 .2 .4 .1 .4 .2 .5 .1 .4 .2 .4 .1 .4 .1 .4 .2 .4 .1 .4 .1 .4 .1 .4 .1 .4 .1 .4 .1 .4 .1 .4 .1 .4 .1 .4 .1 .4 .1 .4 0 .4 .1 .4 .1 .4 .1 .4 0 .4 .1 .4 .1 .5 0 .4 .1 .4 0 .4 .1 .4 0 .4 .1 .4 .1 .4 0 .4 .1 .4 0 .4 0 .4 .1 .4 0 .4 .1 .4 0 .4 0 .4 .1 .4 0 .4 .1 .4 0 .4 0 .4 .1 .4 0 .5 0 .4 0 .4 .1 .4 0 .4 0 .4 .1 .4 0 .4 0 .4 0 .4 .1 .4 0 .4 0" fill="none" stroke="#3468bf" stroke-width="1.2"/>
<path d="M554.3 713l.4 0 .4 0 .4 0 .4 0 .4 0 .4 0 .4-.1 .4 0 .4 0 .4 0 .4 0 .5 0 .4 0 .4-.1 .4 0 .4 0 .4 0 .4 0 .4-.1 .4 0 .4 0 .4 0 .4 0 .4 0 .4-.1 .4 0 .4 0 .4 0 .4-.1 .4 0 .4 0 .4 0 .4 0 .4-.1 .5 0 .4 0 .4 0 .4-.1 .4 0 .4 0 .4-.1 .4 0 .4 0 .4 0 .4-.1 .4 0 .4 0 .4-.1 .4 0 .4-.1 .4 0 .4 0 .4-.1 .4 0 .4 0 .4-.1 .4 0 .5-.1 .4 0 .4-.1 .4 0 .4-.1 .4 0 .4-.1 .4 0 .4-.1 .4 0 .4-.1 .4 0 .4-.1 .4-.1 .4 0 .4-.1 .4-.1 .4 0 .4-.1 .4-.1 .4-.1 .4 0 .4-.1 .5-.1 .4-.1 .4-.1 .4-.1 .4-.1 .4-.1 .4-.1 .4-.1 .4-.1 .4-.1 .4-.1 .4-.2 .4-.1 .4-.1 .4-.2 .4-.1 .4-.2 .4-.1 .4-.2 .4-.2 .4-.2 .4-.2 .4-.2 .5-.2 .4-.2 .4-.2 .4-.2 .4-.3 .4-.2 .4-.3 .4-.3 .4-.3 .4-.3 .4-.4 .4-.3 .4-.4 .4-.4 .4-.4 .4-.4 .4-.5 .4-.5 .4-.5 .4-.5 .4-.6 .4-.6 .4-.7 .5-.7 .4-.7 .4-.8 .4-.8 .4-.9 .4-1 .4-1 .4-1.1 .4-1.2 .4-1.2 .4-1.4 .4-1.4 .4-1.5 .4-1.6 .4-1.7 .4-1.8 .4-1.9 .4-2 .4-2.2 .4-2.1 .4-2.3 .4-2.3 .4-2.4 .5-2.4 .4-2.3 .4-2.2 .4-2.1 .4-2 .4-1.7 .4-1.4 .4-1.1 .4-.8 .4-.4 .4-.1 .4 .3 .4 .5 .4 .8 .4 1.1 .4 1.2 .4 1.3 .4 1.3 .4 1.4 .4 1.4 .4 1.4 .4 1.3 .4 1.2 .4 1.1 .5 1 .4 1 .4 .8 .4 .8 .4 .7 .4 .7 .4 .6 .4 .6 .4 .5 .4 .6 .4 .5 .4 .6 .4 .6 .4 .6 .4 .7 .4 .7 .4 .7 .4 .8 .4 .9 .4 .9 .4 .9 .4 .9 .4 1 .5 1 .4 1.1 .4 1 .4 1 .4 1.1 .4 1 .4 1 .4 1 .4 .9 .4 1 .4 .9 .4 .9 .4 .9 .4 .8 .4 .8 .4 .7 .4 .8 .4 .7 .4 .7 .4 .6 .4 .6 .4 .6 .4 .6 .5 .5 .4 .6 .4 .5 .4 .4 .4 .5 .4 .4 .4 .4 .4 .4 .4 .4 .4 .3 .4 .4 .4 .3 .4 .3 .4 .3 .4 .3 .4 .3 .4 .3 .4 .2 .4 .3 .4 .2 .4 .2 .4 .2 .4 .2 .5 .2 .4 .2 .4 .2 .4 .2 .4 .1 .4 .2 .4 .2 .4 .1 .4 .1 .4 .2 .4 .1 .4 .2 .4 .1 .4 .1 .4 .1 .4 .1 .4 .1 .4 .1 .4 .1 .4 .1 .4 .1 .4 .1 .4 .1 .5 .1 .4 .1 .4 .1 .4 0 .4 .1 .4 .1 .4 .1 .4 0 .4 .1 .4 .1 .4 0 .4 .1 .4 .1 .4 0 .4 .1 .4 0 .4 .1 .4 0 .4 .1 .4 0 .4 .1 .4 0 .4 .1 .5 0 .4 .1 .4 0 .4 0 .4 .1 .4 0 .4 .1 .4 0 .4 0 .4 .1 .4 0 .4 0" fill="none" stroke="#111" stroke-width="1.6"/>
</g>
<rect x="554.3" y="539.5" width="121.30" height="216.50" fill="none" stroke="#262626" stroke-width="1.15"/>
<line x1="574.52" y1="756.0" x2="574.52" y2="759.5" stroke="#262626" stroke-width="1.1"/>
<text x="574.52" y="775.70" text-anchor="middle" class="tk">600</text>
<line x1="606.86" y1="756.0" x2="606.86" y2="759.5" stroke="#262626" stroke-width="1.1"/>
<text x="606.86" y="775.70" text-anchor="middle" class="tk">640</text>
<line x1="639.21" y1="756.0" x2="639.21" y2="759.5" stroke="#262626" stroke-width="1.1"/>
<text x="639.21" y="775.70" text-anchor="middle" class="tk">680</text>
<line x1="671.56" y1="756.0" x2="671.56" y2="759.5" stroke="#262626" stroke-width="1.1"/>
<text x="671.56" y="775.70" text-anchor="middle" class="tk">720</text>
<line x1="558.34" y1="756.0" x2="558.34" y2="758.5" stroke="#262626" stroke-width="1.1"/>
<line x1="590.69" y1="756.0" x2="590.69" y2="758.5" stroke="#262626" stroke-width="1.1"/>
<line x1="623.04" y1="756.0" x2="623.04" y2="758.5" stroke="#262626" stroke-width="1.1"/>
<line x1="655.38" y1="756.0" x2="655.38" y2="758.5" stroke="#262626" stroke-width="1.1"/>
<line x1="551.8" y1="719.92" x2="554.3" y2="719.92" stroke="#262626" stroke-width="1.1"/>
<line x1="551.8" y1="647.75" x2="554.3" y2="647.75" stroke="#262626" stroke-width="1.1"/>
<line x1="551.8" y1="575.58" x2="554.3" y2="575.58" stroke="#262626" stroke-width="1.1"/>
<line x1="552.3" y1="756.00" x2="554.3" y2="756.00" stroke="#262626" stroke-width="1.1"/>
<line x1="552.3" y1="683.83" x2="554.3" y2="683.83" stroke="#262626" stroke-width="1.1"/>
<line x1="552.3" y1="611.67" x2="554.3" y2="611.67" stroke="#262626" stroke-width="1.1"/>
<line x1="552.3" y1="539.50" x2="554.3" y2="539.50" stroke="#262626" stroke-width="1.1"/>
<text x="617.0" y="793.8" text-anchor="middle" class="lab">Wavelength (nm)</text>
<text x="428.3" y="564.6" class="ann" style="fill:#222;font-size:13.4px">Bright</text>
<text x="565.5" y="564.8" class="ann" style="fill:#222;font-size:13.4px">Dark</text>
<text transform="translate(385.6,645.5) rotate(-90)" text-anchor="middle" class="lab">Intensity (counts)</text>
</svg></body></html>
